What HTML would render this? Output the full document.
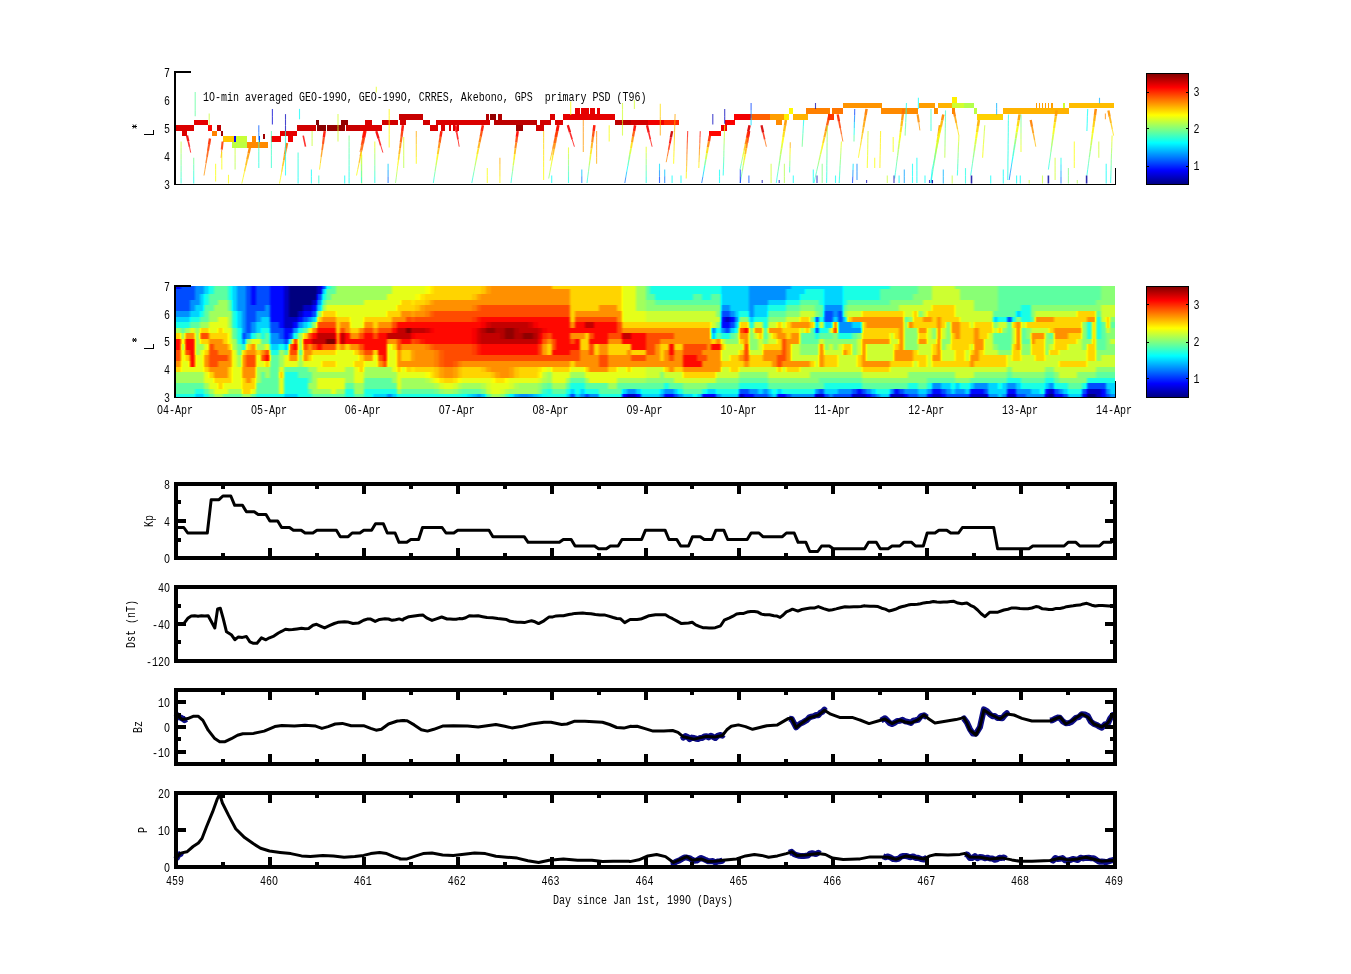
<!DOCTYPE html>
<html><head><meta charset="utf-8"><title>PSD figure</title>
<style>html,body{margin:0;padding:0;background:#fff;overflow:hidden}body{width:1351px;height:974px;font-family:"Liberation Mono",monospace}svg{display:block}</style>
</head><body>
<svg width="1351" height="974" viewBox="0 0 1351 974">
<rect x="0" y="0" width="1351" height="974" fill="#fff"/>
<g shape-rendering="crispEdges">
<rect x="175.9" y="125.2" width="18.5" height="5.6" fill="#db0000"/>
<rect x="181.8" y="130.8" width="5.2" height="5.6" fill="#db0000"/>
<rect x="193.7" y="119.6" width="14.1" height="5.6" fill="#e50000"/>
<rect x="207.7" y="125.2" width="4.4" height="5.6" fill="#ff0500"/>
<rect x="211.5" y="130.8" width="5.9" height="5.6" fill="#ff8000"/>
<rect x="217.4" y="125.2" width="3.7" height="5.6" fill="#bd0000"/>
<rect x="221.1" y="130.8" width="2.2" height="5.6" fill="#9e0000"/>
<rect x="223.3" y="136.4" width="10.4" height="5.6" fill="#ffc700"/>
<rect x="233.7" y="136.4" width="13.3" height="5.6" fill="#c7ff38"/>
<rect x="232.2" y="142" width="14.8" height="5.6" fill="#bdff42"/>
<rect x="247" y="142" width="20.7" height="5.6" fill="#ff8a00"/>
<rect x="252.2" y="136.4" width="3.7" height="5.6" fill="#ff8a00"/>
<rect x="258.8" y="136.4" width="1.5" height="5.6" fill="#004dff"/>
<rect x="234.4" y="136.4" width="1.5" height="5.6" fill="#0000fa"/>
<rect x="263.3" y="133.6" width="1.5" height="5.6" fill="#9e0000"/>
<rect x="270.7" y="136.4" width="10.4" height="5.6" fill="#f00000"/>
<rect x="280.3" y="130.8" width="16.3" height="5.6" fill="#e50000"/>
<rect x="288.4" y="136.4" width="4.4" height="5.6" fill="#f00000"/>
<rect x="296.6" y="125.2" width="19.2" height="5.6" fill="#d10000"/>
<rect x="315.8" y="119.6" width="3" height="5.6" fill="#800000"/>
<rect x="316.6" y="125.2" width="8.9" height="5.6" fill="#8a0000"/>
<rect x="326.9" y="125.2" width="17.8" height="5.6" fill="#940000"/>
<rect x="341" y="119.6" width="6.7" height="5.6" fill="#940000"/>
<rect x="346.2" y="125.2" width="16.3" height="5.6" fill="#c70000"/>
<rect x="362.5" y="125.2" width="7.5" height="5.6" fill="#d10000"/>
<rect x="365.4" y="119.6" width="3.7" height="5.6" fill="#d10000"/>
<rect x="360" y="125.2" width="22.2" height="5.6" fill="#db0000"/>
<rect x="365.2" y="119.6" width="6.7" height="5.6" fill="#db0000"/>
<rect x="382.2" y="119.6" width="15.5" height="5.6" fill="#d10000"/>
<rect x="398.5" y="114" width="24.4" height="5.6" fill="#c70000"/>
<rect x="400" y="119.6" width="5.9" height="5.6" fill="#d10000"/>
<rect x="422.9" y="119.6" width="6.7" height="5.6" fill="#d10000"/>
<rect x="429.6" y="125.2" width="8.1" height="5.6" fill="#db0000"/>
<rect x="436.2" y="119.6" width="54" height="5.6" fill="#db0000"/>
<rect x="440.7" y="125.2" width="4.4" height="5.6" fill="#db0000"/>
<rect x="448.8" y="125.2" width="1.8" height="5.6" fill="#db0000"/>
<rect x="453.3" y="125.2" width="1.8" height="5.6" fill="#db0000"/>
<rect x="457" y="125.2" width="2.2" height="5.6" fill="#db0000"/>
<rect x="485.8" y="114" width="3" height="5.6" fill="#b20000"/>
<rect x="490" y="114" width="5.9" height="5.6" fill="#940000"/>
<rect x="497.7" y="114" width="4.4" height="5.6" fill="#b20000"/>
<rect x="494" y="119.6" width="42.9" height="5.6" fill="#bd0000"/>
<rect x="516.2" y="125.2" width="6.7" height="5.6" fill="#9e0000"/>
<rect x="536.2" y="125.2" width="7.4" height="5.6" fill="#d10000"/>
<rect x="539.9" y="119.6" width="11.1" height="5.6" fill="#d10000"/>
<rect x="550.2" y="114" width="4.4" height="5.6" fill="#db0000"/>
<rect x="555.4" y="119.6" width="4.6" height="5.6" fill="#db0000"/>
<rect x="550" y="114" width="4.4" height="5.6" fill="#db0000"/>
<rect x="555.2" y="119.6" width="8.1" height="5.6" fill="#db0000"/>
<rect x="563.3" y="114" width="51.8" height="5.6" fill="#e50000"/>
<rect x="575.2" y="108.4" width="4.4" height="5.6" fill="#e50000"/>
<rect x="581.1" y="108.4" width="7.4" height="5.6" fill="#e50000"/>
<rect x="590" y="108.4" width="5.2" height="5.6" fill="#e50000"/>
<rect x="597.4" y="108.4" width="3" height="5.6" fill="#e50000"/>
<rect x="615.1" y="119.6" width="16.3" height="5.6" fill="#bd0000"/>
<rect x="631.4" y="119.6" width="16.3" height="5.6" fill="#d10000"/>
<rect x="647.7" y="119.6" width="16.3" height="5.6" fill="#f00000"/>
<rect x="664" y="119.6" width="14.8" height="5.6" fill="#ff2400"/>
<rect x="709.1" y="130.8" width="11.8" height="5.6" fill="#ff0500"/>
<rect x="721" y="125.2" width="5.9" height="5.6" fill="#f00000"/>
<rect x="725.4" y="119.6" width="9.6" height="5.6" fill="#fa0000"/>
<rect x="734.3" y="114" width="15.7" height="5.6" fill="#fa0000"/>
<rect x="740" y="114" width="11.1" height="5.6" fill="#f00000"/>
<rect x="751.1" y="114" width="18.5" height="5.6" fill="#ff6100"/>
<rect x="769.6" y="114" width="14.8" height="5.6" fill="#ff9e00"/>
<rect x="784.4" y="114" width="4.4" height="5.6" fill="#fff000"/>
<rect x="776.3" y="119.6" width="5.9" height="5.6" fill="#ff8a00"/>
<rect x="788.9" y="108.4" width="4.4" height="5.6" fill="#fffa00"/>
<rect x="793.3" y="114" width="14.8" height="5.6" fill="#ffb300"/>
<rect x="805.9" y="108.4" width="24.4" height="5.6" fill="#ff8000"/>
<rect x="828.1" y="114" width="5.9" height="5.6" fill="#ff3800"/>
<rect x="831.8" y="108.4" width="11.1" height="5.6" fill="#ff7500"/>
<rect x="842.9" y="102.8" width="39.2" height="5.6" fill="#ff9400"/>
<rect x="881.4" y="108.4" width="36.3" height="5.6" fill="#ff8a00"/>
<rect x="919.1" y="102.8" width="16.3" height="5.6" fill="#ff9e00"/>
<rect x="933.9" y="108.4" width="4.4" height="5.6" fill="#ff9400"/>
<rect x="938.4" y="102.8" width="1.6" height="5.6" fill="#ff9e00"/>
<rect x="930" y="102.8" width="4.4" height="5.6" fill="#ff9e00"/>
<rect x="934.4" y="108.4" width="3" height="5.6" fill="#ff8a00"/>
<rect x="938.1" y="102.8" width="14.1" height="5.6" fill="#ffb300"/>
<rect x="951.5" y="97.2" width="5.2" height="5.6" fill="#fff000"/>
<rect x="952.2" y="102.8" width="11.8" height="5.6" fill="#d1ff2e"/>
<rect x="964" y="102.8" width="10.4" height="5.6" fill="#b3ff4c"/>
<rect x="951.5" y="108.4" width="3.7" height="5.6" fill="#ff8000"/>
<rect x="974.4" y="108.4" width="2.2" height="5.6" fill="#bdff42"/>
<rect x="976.6" y="114" width="26.6" height="5.6" fill="#ffd100"/>
<rect x="1002.5" y="108.4" width="66.6" height="5.6" fill="#ffb300"/>
<rect x="1035.8" y="102.8" width="1.5" height="5.6" fill="#ff9e00"/>
<rect x="1038.8" y="102.8" width="1.5" height="5.6" fill="#ff9e00"/>
<rect x="1041.8" y="102.8" width="1.5" height="5.6" fill="#ff9e00"/>
<rect x="1044.7" y="102.8" width="1.5" height="5.6" fill="#ff9e00"/>
<rect x="1047.7" y="102.8" width="1.5" height="5.6" fill="#ff9e00"/>
<rect x="1050.7" y="102.8" width="2.2" height="5.6" fill="#ff9e00"/>
<rect x="1063.2" y="102.8" width="1.5" height="5.6" fill="#d1ff2e"/>
<rect x="1069.2" y="102.8" width="45.2" height="5.6" fill="#ffbd00"/>
</g>
<g fill="none">
<path d="M187,135.6L188.3,141.3" stroke="#f30000" stroke-width="2.3" opacity="0.91"/>
<path d="M188.3,141.3L189.5,146.9" stroke="#fa0000" stroke-width="1.6" opacity="0.82"/>
<path d="M189.5,146.9L190.7,152.6" stroke="#ff0200" stroke-width="1" opacity="0.74"/>
<path d="M210,138.5L209,144.7" stroke="#ff2e00" stroke-width="2.4" opacity="0.93"/>
<path d="M209,144.7L208,150.9" stroke="#ff4200" stroke-width="2.1" opacity="0.89"/>
<path d="M208,150.9L207,157" stroke="#ff5700" stroke-width="1.7" opacity="0.85"/>
<path d="M207,157L206,163.2" stroke="#ff6b00" stroke-width="1.4" opacity="0.80"/>
<path d="M206,163.2L205,169.4" stroke="#ff8000" stroke-width="1" opacity="0.76"/>
<path d="M205,169.4L204,175.5" stroke="#ff9400" stroke-width="1" opacity="0.72"/>
<path d="M222.6,141.5L221.8,149.6" stroke="#ff3b00" stroke-width="2.1" opacity="0.89"/>
<path d="M221.8,149.6L221.1,157.8" stroke="#ff7d00" stroke-width="1" opacity="0.76"/>
<path d="M249.9,147.4L248.6,153.4" stroke="#ff8300" stroke-width="2.4" opacity="0.93"/>
<path d="M248.6,153.4L247.2,159.4" stroke="#ff9e00" stroke-width="2.1" opacity="0.89"/>
<path d="M247.2,159.4L245.9,165.5" stroke="#ffb900" stroke-width="1.7" opacity="0.85"/>
<path d="M245.9,165.5L244.5,171.5" stroke="#ffd500" stroke-width="1.4" opacity="0.80"/>
<path d="M244.5,171.5L243.2,177.5" stroke="#fff000" stroke-width="1" opacity="0.76"/>
<path d="M243.2,177.5L241.8,183.5" stroke="#f3ff0c" stroke-width="1" opacity="0.72"/>
<path d="M287,143L285.9,148.8" stroke="#ff6e00" stroke-width="2.5" opacity="0.93"/>
<path d="M285.9,148.8L284.8,154.6" stroke="#ff8800" stroke-width="2.2" opacity="0.90"/>
<path d="M284.8,154.6L283.8,160.3" stroke="#ffa200" stroke-width="1.9" opacity="0.86"/>
<path d="M283.8,160.3L282.7,166.1" stroke="#ffbd00" stroke-width="1.6" opacity="0.82"/>
<path d="M282.7,166.1L281.7,171.9" stroke="#ffd700" stroke-width="1.3" opacity="0.79"/>
<path d="M281.7,171.9L280.6,177.7" stroke="#fff100" stroke-width="1" opacity="0.75"/>
<path d="M280.6,177.7L279.5,183.5" stroke="#f3ff0c" stroke-width="1" opacity="0.72"/>
<path d="M324.7,131.1L323.8,137.6" stroke="#ff1100" stroke-width="2.4" opacity="0.93"/>
<path d="M323.8,137.6L323,144" stroke="#ff3d00" stroke-width="2.1" opacity="0.89"/>
<path d="M323,144L322.1,150.4" stroke="#ff6900" stroke-width="1.7" opacity="0.85"/>
<path d="M322.1,150.4L321.2,156.8" stroke="#ff9600" stroke-width="1.4" opacity="0.80"/>
<path d="M321.2,156.8L320.4,163.2" stroke="#ffc200" stroke-width="1" opacity="0.76"/>
<path d="M320.4,163.2L319.5,169.6" stroke="#ffee00" stroke-width="1" opacity="0.72"/>
<path d="M365.4,131.1L364.1,137.5" stroke="#ff0f00" stroke-width="2.5" opacity="0.93"/>
<path d="M364.1,137.5L362.9,143.8" stroke="#ff3800" stroke-width="2.2" opacity="0.90"/>
<path d="M362.9,143.8L361.6,150.2" stroke="#ff6100" stroke-width="1.9" opacity="0.86"/>
<path d="M361.6,150.2L360.3,156.5" stroke="#ff8a00" stroke-width="1.6" opacity="0.82"/>
<path d="M360.3,156.5L359.1,162.9" stroke="#ffb300" stroke-width="1.3" opacity="0.79"/>
<path d="M359.1,162.9L357.8,169.2" stroke="#ffdb00" stroke-width="1" opacity="0.75"/>
<path d="M357.8,169.2L356.5,175.5" stroke="#faff05" stroke-width="1" opacity="0.72"/>
<path d="M303.2,135.6L305.5,146.7" stroke="#ff0500" stroke-width="1.6" opacity="0.82"/>
<path d="M195.2,91.9L195.2,98" stroke="#61ff9e" stroke-width="1.1" opacity="0.72"/>
<path d="M195.2,98L195.2,104.1" stroke="#61ff9e" stroke-width="1.1" opacity="0.72"/>
<path d="M195.2,104.1L195.2,110.2" stroke="#61ff9e" stroke-width="1.1" opacity="0.72"/>
<path d="M195.2,110.2L195.2,116.3" stroke="#61ff9e" stroke-width="1.1" opacity="0.72"/>
<path d="M181.1,141.5L181.1,147.5" stroke="#c4ff3b" stroke-width="1.1" opacity="0.72"/>
<path d="M181.1,147.5L181.1,153.5" stroke="#aaff55" stroke-width="1.1" opacity="0.72"/>
<path d="M181.1,153.5L181.1,159.5" stroke="#90ff6f" stroke-width="1.1" opacity="0.72"/>
<path d="M181.1,159.5L181.1,165.5" stroke="#75ff8a" stroke-width="1.1" opacity="0.72"/>
<path d="M181.1,165.5L181.1,171.5" stroke="#5bffa4" stroke-width="1.1" opacity="0.72"/>
<path d="M181.1,171.5L181.1,177.5" stroke="#41ffbe" stroke-width="1.1" opacity="0.72"/>
<path d="M181.1,177.5L181.1,183.5" stroke="#27ffd8" stroke-width="1.1" opacity="0.72"/>
<path d="M193.7,157.8L193.7,164.2" stroke="#70ff8f" stroke-width="1.1" opacity="0.72"/>
<path d="M193.7,164.2L193.7,170.6" stroke="#52ffad" stroke-width="1.1" opacity="0.72"/>
<path d="M193.7,170.6L193.7,177.1" stroke="#33ffcc" stroke-width="1.1" opacity="0.72"/>
<path d="M193.7,177.1L193.7,183.5" stroke="#14ffeb" stroke-width="1.1" opacity="0.72"/>
<path d="M209.2,113.4L209.2,119.3" stroke="#c7ff38" stroke-width="1.1" opacity="0.72"/>
<path d="M209.2,119.3L209.2,125.2" stroke="#c7ff38" stroke-width="1.1" opacity="0.72"/>
<path d="M215.6,163.7L215.6,169.6" stroke="#faff05" stroke-width="1.1" opacity="0.72"/>
<path d="M215.6,169.6L215.6,175.5" stroke="#faff05" stroke-width="1.1" opacity="0.72"/>
<path d="M215.6,175.5L215.6,181.5" stroke="#faff05" stroke-width="1.1" opacity="0.72"/>
<path d="M221.8,151.9L221.8,157.8" stroke="#faff05" stroke-width="1.1" opacity="0.72"/>
<path d="M221.8,157.8L221.8,163.7" stroke="#faff05" stroke-width="1.1" opacity="0.72"/>
<path d="M221.8,163.7L221.8,169.6" stroke="#faff05" stroke-width="1.1" opacity="0.72"/>
<path d="M228.5,174.8L228.5,183.5" stroke="#faff05" stroke-width="1.1" opacity="0.72"/>
<path d="M235.1,147.4L235.1,154.8" stroke="#ccff33" stroke-width="1.1" opacity="0.72"/>
<path d="M235.1,154.8L235.1,162.2" stroke="#c2ff3d" stroke-width="1.1" opacity="0.72"/>
<path d="M235.1,162.2L235.1,169.6" stroke="#b8ff47" stroke-width="1.1" opacity="0.72"/>
<path d="M258.8,125.2L258.8,132.6" stroke="#0059ff" stroke-width="1.1" opacity="0.72"/>
<path d="M258.8,132.6L258.8,140" stroke="#0073ff" stroke-width="1.1" opacity="0.72"/>
<path d="M258.8,140L258.8,145.6" stroke="#47ffb8" stroke-width="1.1" opacity="0.72"/>
<path d="M258.8,145.6L258.8,151.3" stroke="#3dffc2" stroke-width="1.1" opacity="0.72"/>
<path d="M258.8,151.3L258.8,156.9" stroke="#33ffcc" stroke-width="1.1" opacity="0.72"/>
<path d="M258.8,156.9L258.8,162.5" stroke="#29ffd6" stroke-width="1.1" opacity="0.72"/>
<path d="M258.8,162.5L258.8,168.1" stroke="#1fffe0" stroke-width="1.1" opacity="0.72"/>
<path d="M271.4,131.1L271.4,137.3" stroke="#4affb5" stroke-width="1.1" opacity="0.72"/>
<path d="M271.4,137.3L271.4,143.5" stroke="#45ffba" stroke-width="1.1" opacity="0.72"/>
<path d="M271.4,143.5L271.4,149.6" stroke="#40ffbf" stroke-width="1.1" opacity="0.72"/>
<path d="M271.4,149.6L271.4,155.8" stroke="#3bffc4" stroke-width="1.1" opacity="0.72"/>
<path d="M271.4,155.8L271.4,162" stroke="#36ffc9" stroke-width="1.1" opacity="0.72"/>
<path d="M271.4,162L271.4,168.1" stroke="#30ffcf" stroke-width="1.1" opacity="0.72"/>
<path d="M272.4,108.9L272.4,116.7" stroke="#0000d1" stroke-width="1.1" opacity="0.72"/>
<path d="M272.4,116.7L272.4,124.5" stroke="#0000d1" stroke-width="1.1" opacity="0.72"/>
<path d="M285.5,114.1L285.5,119.8" stroke="#0000bd" stroke-width="1.1" opacity="0.72"/>
<path d="M285.5,119.8L285.5,125.5" stroke="#0000bd" stroke-width="1.1" opacity="0.72"/>
<path d="M285.5,125.5L285.5,131.1" stroke="#0000bd" stroke-width="1.1" opacity="0.72"/>
<path d="M285.5,131.1L285.5,137.5" stroke="#2bffd4" stroke-width="1.1" opacity="0.72"/>
<path d="M285.5,137.5L285.5,143.8" stroke="#25ffda" stroke-width="1.1" opacity="0.72"/>
<path d="M285.5,143.8L285.5,150.2" stroke="#1fffe0" stroke-width="1.1" opacity="0.72"/>
<path d="M285.5,150.2L285.5,156.5" stroke="#1affe5" stroke-width="1.1" opacity="0.72"/>
<path d="M285.5,156.5L285.5,162.9" stroke="#14ffeb" stroke-width="1.1" opacity="0.72"/>
<path d="M285.5,162.9L285.5,169.2" stroke="#0efff1" stroke-width="1.1" opacity="0.72"/>
<path d="M285.5,169.2L285.5,175.5" stroke="#08fff7" stroke-width="1.1" opacity="0.72"/>
<path d="M299.5,108.9L299.5,119.3" stroke="#05fffa" stroke-width="1.1" opacity="0.72"/>
<path d="M298.1,152.6L298.1,158.8" stroke="#2affd5" stroke-width="1.1" opacity="0.72"/>
<path d="M298.1,158.8L298.1,165" stroke="#22ffdd" stroke-width="1.1" opacity="0.72"/>
<path d="M298.1,165L298.1,171.1" stroke="#1affe5" stroke-width="1.1" opacity="0.72"/>
<path d="M298.1,171.1L298.1,177.3" stroke="#11ffee" stroke-width="1.1" opacity="0.72"/>
<path d="M298.1,177.3L298.1,183.5" stroke="#09fff6" stroke-width="1.1" opacity="0.72"/>
<path d="M312.1,131.1L312.1,138.5" stroke="#c7ff38" stroke-width="1.1" opacity="0.72"/>
<path d="M312.1,138.5L312.1,145.9" stroke="#c7ff38" stroke-width="1.1" opacity="0.72"/>
<path d="M311.4,169.6L311.4,176.6" stroke="#05fffa" stroke-width="1.1" opacity="0.72"/>
<path d="M311.4,176.6L311.4,183.5" stroke="#05fffa" stroke-width="1.1" opacity="0.72"/>
<path d="M318.8,175.5L318.8,183.5" stroke="#2effd1" stroke-width="1.1" opacity="0.72"/>
<path d="M338,114.1L338,121" stroke="#d1ff2e" stroke-width="1.1" opacity="0.72"/>
<path d="M338,121L338,127.8" stroke="#d1ff2e" stroke-width="1.1" opacity="0.72"/>
<path d="M338,127.8L338,134.7" stroke="#d1ff2e" stroke-width="1.1" opacity="0.72"/>
<path d="M338,134.7L338,141.5" stroke="#d1ff2e" stroke-width="1.1" opacity="0.72"/>
<path d="M349.1,135.6L349.1,141.6" stroke="#78ff87" stroke-width="1.1" opacity="0.72"/>
<path d="M349.1,141.6L349.1,147.6" stroke="#69ff96" stroke-width="1.1" opacity="0.72"/>
<path d="M349.1,147.6L349.1,153.5" stroke="#59ffa6" stroke-width="1.1" opacity="0.72"/>
<path d="M349.1,153.5L349.1,159.5" stroke="#4affb5" stroke-width="1.1" opacity="0.72"/>
<path d="M349.1,159.5L349.1,165.5" stroke="#3bffc4" stroke-width="1.1" opacity="0.72"/>
<path d="M349.1,165.5L349.1,171.5" stroke="#2bffd4" stroke-width="1.1" opacity="0.72"/>
<path d="M349.1,171.5L349.1,177.5" stroke="#1cffe3" stroke-width="1.1" opacity="0.72"/>
<path d="M349.1,177.5L349.1,183.5" stroke="#0dfff2" stroke-width="1.1" opacity="0.72"/>
<path d="M344.7,175.5L344.7,183.5" stroke="#05fffa" stroke-width="1.1" opacity="0.72"/>
<path d="M361.7,154.8L361.7,160.6" stroke="#ceff31" stroke-width="1.1" opacity="0.72"/>
<path d="M361.7,160.6L361.7,166.3" stroke="#c8ff37" stroke-width="1.1" opacity="0.72"/>
<path d="M361.7,166.3L361.7,172" stroke="#c2ff3d" stroke-width="1.1" opacity="0.72"/>
<path d="M361.7,172L361.7,177.8" stroke="#bcff43" stroke-width="1.1" opacity="0.72"/>
<path d="M361.7,177.8L361.7,183.5" stroke="#b6ff49" stroke-width="1.1" opacity="0.72"/>
<path d="M364.4,131.1L363,138" stroke="#ff1100" stroke-width="2.3" opacity="0.91"/>
<path d="M363,138L361.5,145" stroke="#ff3d00" stroke-width="1.6" opacity="0.82"/>
<path d="M361.5,145L360,151.9" stroke="#ff6900" stroke-width="1" opacity="0.74"/>
<path d="M361.2,151.9L361.2,158.1" stroke="#fdff02" stroke-width="1.1" opacity="0.72"/>
<path d="M361.2,158.1L361.3,164.3" stroke="#c6ff39" stroke-width="1.1" opacity="0.72"/>
<path d="M361.3,164.3L361.4,170.5" stroke="#8fff70" stroke-width="1.1" opacity="0.72"/>
<path d="M361.4,170.5L361.4,176.7" stroke="#58ffa7" stroke-width="1.1" opacity="0.72"/>
<path d="M361.4,176.7L361.5,183" stroke="#21ffde" stroke-width="1.1" opacity="0.72"/>
<path d="M376.3,131.1L378.5,138.3" stroke="#f30000" stroke-width="2.3" opacity="0.91"/>
<path d="M378.5,138.3L380.7,145.4" stroke="#fa0000" stroke-width="1.6" opacity="0.82"/>
<path d="M380.7,145.4L382.9,152.6" stroke="#ff0200" stroke-width="1" opacity="0.74"/>
<path d="M402.9,125.2L402.2,131" stroke="#ff0e00" stroke-width="2.5" opacity="0.94"/>
<path d="M402.2,131L401.5,136.8" stroke="#ff3500" stroke-width="2.3" opacity="0.91"/>
<path d="M401.5,136.8L400.7,142.5" stroke="#ff5c00" stroke-width="2.1" opacity="0.89"/>
<path d="M400.7,142.5L400,148.3" stroke="#ff8300" stroke-width="1.9" opacity="0.86"/>
<path d="M400,148.3L399.2,154.1" stroke="#ffa900" stroke-width="1.7" opacity="0.84"/>
<path d="M399.2,154.1L398.5,159.9" stroke="#ffd000" stroke-width="1.5" opacity="0.81"/>
<path d="M398.5,159.9L397.7,165.6" stroke="#fff700" stroke-width="1.2" opacity="0.79"/>
<path d="M397.7,165.6L397,171.4" stroke="#e0ff1f" stroke-width="1" opacity="0.76"/>
<path d="M397,171.4L396.3,177.2" stroke="#baff45" stroke-width="1" opacity="0.74"/>
<path d="M396.3,177.2L395.5,183" stroke="#93ff6c" stroke-width="1" opacity="0.71"/>
<path d="M441.4,131.1L440.5,136.9" stroke="#ff1700" stroke-width="2.5" opacity="0.94"/>
<path d="M440.5,136.9L439.6,142.7" stroke="#ff5000" stroke-width="2.3" opacity="0.91"/>
<path d="M439.6,142.7L438.7,148.4" stroke="#ff8900" stroke-width="2" opacity="0.88"/>
<path d="M438.7,148.4L437.8,154.2" stroke="#ffc100" stroke-width="1.8" opacity="0.85"/>
<path d="M437.8,154.2L436.9,159.9" stroke="#fffa00" stroke-width="1.6" opacity="0.82"/>
<path d="M436.9,159.9L436,165.7" stroke="#cbff34" stroke-width="1.3" opacity="0.80"/>
<path d="M436,165.7L435.1,171.4" stroke="#93ff6c" stroke-width="1.1" opacity="0.77"/>
<path d="M435.1,171.4L434.2,177.2" stroke="#5affa5" stroke-width="1" opacity="0.74"/>
<path d="M434.2,177.2L433.3,183" stroke="#21ffde" stroke-width="1" opacity="0.71"/>
<path d="M455.5,125.2L456.7,132.4" stroke="#f50000" stroke-width="2.3" opacity="0.91"/>
<path d="M456.7,132.4L458,139.5" stroke="#ff0000" stroke-width="1.6" opacity="0.82"/>
<path d="M458,139.5L459.2,146.7" stroke="#ff0a00" stroke-width="1" opacity="0.74"/>
<path d="M482.9,125.2L481.8,131" stroke="#ff1400" stroke-width="2.5" opacity="0.94"/>
<path d="M481.8,131L480.7,136.8" stroke="#ff4700" stroke-width="2.3" opacity="0.91"/>
<path d="M480.7,136.8L479.5,142.5" stroke="#ff7a00" stroke-width="2.1" opacity="0.89"/>
<path d="M479.5,142.5L478.4,148.3" stroke="#ffad00" stroke-width="1.9" opacity="0.86"/>
<path d="M478.4,148.3L477.3,154.1" stroke="#ffe000" stroke-width="1.7" opacity="0.84"/>
<path d="M477.3,154.1L476.2,159.9" stroke="#ebff14" stroke-width="1.5" opacity="0.81"/>
<path d="M476.2,159.9L475.1,165.6" stroke="#b8ff47" stroke-width="1.2" opacity="0.79"/>
<path d="M475.1,165.6L474,171.4" stroke="#85ff7a" stroke-width="1" opacity="0.76"/>
<path d="M474,171.4L472.9,177.2" stroke="#52ffad" stroke-width="1" opacity="0.74"/>
<path d="M472.9,177.2L471.8,183" stroke="#1fffe0" stroke-width="1" opacity="0.71"/>
<path d="M517.7,131.1L516.9,136.9" stroke="#ff0400" stroke-width="2.5" opacity="0.94"/>
<path d="M516.9,136.9L516.2,142.7" stroke="#ff3f00" stroke-width="2.3" opacity="0.91"/>
<path d="M516.2,142.7L515.4,148.4" stroke="#ff7a00" stroke-width="2" opacity="0.88"/>
<path d="M515.4,148.4L514.7,154.2" stroke="#ffb500" stroke-width="1.8" opacity="0.85"/>
<path d="M514.7,154.2L514,159.9" stroke="#fff000" stroke-width="1.6" opacity="0.82"/>
<path d="M514,159.9L513.2,165.7" stroke="#d3ff2c" stroke-width="1.3" opacity="0.80"/>
<path d="M513.2,165.7L512.5,171.4" stroke="#98ff67" stroke-width="1.1" opacity="0.77"/>
<path d="M512.5,171.4L511.7,177.2" stroke="#5effa1" stroke-width="1" opacity="0.74"/>
<path d="M511.7,177.2L511,183" stroke="#23ffdc" stroke-width="1" opacity="0.71"/>
<path d="M558.4,125.2L557.3,131.1" stroke="#ff1000" stroke-width="2.5" opacity="0.94"/>
<path d="M557.3,131.1L556.2,137.1" stroke="#ff3c00" stroke-width="2.3" opacity="0.91"/>
<path d="M556.2,137.1L555.2,143" stroke="#ff6700" stroke-width="2" opacity="0.88"/>
<path d="M555.2,143L554.1,148.9" stroke="#ff9200" stroke-width="1.8" opacity="0.85"/>
<path d="M554.1,148.9L553,154.8" stroke="#ffbd00" stroke-width="1.6" opacity="0.82"/>
<path d="M553,154.8L552,160.7" stroke="#ffe800" stroke-width="1.3" opacity="0.80"/>
<path d="M552,160.7L550.9,166.7" stroke="#ebff14" stroke-width="1.1" opacity="0.77"/>
<path d="M550.9,166.7L549.8,172.6" stroke="#c0ff3f" stroke-width="1" opacity="0.74"/>
<path d="M549.8,172.6L548.7,178.5" stroke="#95ff6a" stroke-width="1" opacity="0.71"/>
<path d="M374.8,141.5L374.8,147.4" stroke="#e8ff17" stroke-width="1.1" opacity="0.72"/>
<path d="M374.8,147.4L374.8,153.3" stroke="#c5ff3a" stroke-width="1.1" opacity="0.72"/>
<path d="M374.8,153.3L374.8,159.3" stroke="#a2ff5d" stroke-width="1.1" opacity="0.72"/>
<path d="M374.8,159.3L374.8,165.2" stroke="#80ff80" stroke-width="1.1" opacity="0.72"/>
<path d="M374.8,165.2L374.8,171.1" stroke="#5dffa2" stroke-width="1.1" opacity="0.72"/>
<path d="M374.8,171.1L374.8,177" stroke="#3affc5" stroke-width="1.1" opacity="0.72"/>
<path d="M374.8,177L374.8,183" stroke="#17ffe8" stroke-width="1.1" opacity="0.72"/>
<path d="M389.2,108.9L389.2,115.3" stroke="#fffa00" stroke-width="1.1" opacity="0.72"/>
<path d="M389.2,115.3L389.2,121.8" stroke="#fffa00" stroke-width="1.1" opacity="0.72"/>
<path d="M389.2,121.8L389.2,128.2" stroke="#fffa00" stroke-width="1.1" opacity="0.72"/>
<path d="M389.2,128.2L389.2,134.6" stroke="#fffa00" stroke-width="1.1" opacity="0.72"/>
<path d="M389.2,134.6L389.2,141" stroke="#fffa00" stroke-width="1.1" opacity="0.72"/>
<path d="M389.2,141L389.2,147.4" stroke="#fffa00" stroke-width="1.1" opacity="0.72"/>
<path d="M388.1,163.7L388.1,170.1" stroke="#00ccff" stroke-width="1.1" opacity="0.72"/>
<path d="M388.1,170.1L388.1,176.5" stroke="#0099ff" stroke-width="1.1" opacity="0.72"/>
<path d="M388.1,176.5L388.1,183" stroke="#0066ff" stroke-width="1.1" opacity="0.72"/>
<path d="M416.3,131.1L416.3,137.7" stroke="#ffa800" stroke-width="1.1" opacity="0.72"/>
<path d="M416.3,137.7L416.3,144.2" stroke="#ffbd00" stroke-width="1.1" opacity="0.72"/>
<path d="M416.3,144.2L416.3,150.7" stroke="#ffd100" stroke-width="1.1" opacity="0.72"/>
<path d="M416.3,150.7L416.3,157.2" stroke="#ffe500" stroke-width="1.1" opacity="0.72"/>
<path d="M416.3,157.2L416.3,163.7" stroke="#fffa00" stroke-width="1.1" opacity="0.72"/>
<path d="M403.7,137.1L403.7,143.3" stroke="#e0ff1f" stroke-width="1.1" opacity="0.72"/>
<path d="M403.7,143.3L403.7,149.5" stroke="#d6ff29" stroke-width="1.1" opacity="0.72"/>
<path d="M403.7,149.5L403.7,155.7" stroke="#ccff33" stroke-width="1.1" opacity="0.72"/>
<path d="M403.7,155.7L403.7,161.9" stroke="#c2ff3d" stroke-width="1.1" opacity="0.72"/>
<path d="M403.7,161.9L403.7,168.1" stroke="#b8ff47" stroke-width="1.1" opacity="0.72"/>
<path d="M376.3,86.7L376.3,92.6" stroke="#e5ff1a" stroke-width="1.1" opacity="0.72"/>
<path d="M487.3,168.1L487.3,175.5" stroke="#faff05" stroke-width="1.1" opacity="0.72"/>
<path d="M487.3,175.5L487.3,183" stroke="#faff05" stroke-width="1.1" opacity="0.72"/>
<path d="M499.9,157.8L499.9,164.1" stroke="#ffab00" stroke-width="1.1" opacity="0.72"/>
<path d="M499.9,164.1L499.9,170.4" stroke="#ffc400" stroke-width="1.1" opacity="0.72"/>
<path d="M499.9,170.4L499.9,176.7" stroke="#ffde00" stroke-width="1.1" opacity="0.72"/>
<path d="M499.9,176.7L499.9,183" stroke="#fff700" stroke-width="1.1" opacity="0.72"/>
<path d="M543.6,131.1L543.6,137.2" stroke="#ffcb00" stroke-width="1.1" opacity="0.72"/>
<path d="M543.6,137.2L543.6,143.4" stroke="#ffd200" stroke-width="1.1" opacity="0.72"/>
<path d="M543.6,143.4L543.6,149.5" stroke="#ffda00" stroke-width="1.1" opacity="0.72"/>
<path d="M543.6,149.5L543.6,155.6" stroke="#ffe200" stroke-width="1.1" opacity="0.72"/>
<path d="M543.6,155.6L543.6,161.7" stroke="#ffe900" stroke-width="1.1" opacity="0.72"/>
<path d="M543.6,161.7L543.6,167.8" stroke="#fff100" stroke-width="1.1" opacity="0.72"/>
<path d="M543.6,167.8L543.6,173.9" stroke="#fff900" stroke-width="1.1" opacity="0.72"/>
<path d="M543.6,173.9L543.6,180" stroke="#feff01" stroke-width="1.1" opacity="0.72"/>
<path d="M551.7,175.5L551.7,183" stroke="#05fffa" stroke-width="1.1" opacity="0.72"/>
<path d="M558.1,125.2L556.8,131.1" stroke="#ff0e00" stroke-width="2.4" opacity="0.93"/>
<path d="M556.8,131.1L555.4,137.1" stroke="#ff3600" stroke-width="2.1" opacity="0.89"/>
<path d="M555.4,137.1L554.1,143" stroke="#ff5d00" stroke-width="1.7" opacity="0.85"/>
<path d="M554.1,143L552.7,148.9" stroke="#ff8400" stroke-width="1.4" opacity="0.80"/>
<path d="M552.7,148.9L551.4,154.8" stroke="#ffab00" stroke-width="1" opacity="0.76"/>
<path d="M551.4,154.8L550,160.7" stroke="#ffd200" stroke-width="1" opacity="0.72"/>
<path d="M567.8,125.2L570,132.4" stroke="#f30000" stroke-width="2.3" opacity="0.91"/>
<path d="M570,132.4L572.2,139.5" stroke="#fa0000" stroke-width="1.6" opacity="0.82"/>
<path d="M572.2,139.5L574.4,146.7" stroke="#ff0200" stroke-width="1" opacity="0.74"/>
<path d="M594.4,125.2L593.7,131" stroke="#ff1400" stroke-width="2.5" opacity="0.94"/>
<path d="M593.7,131L592.9,136.8" stroke="#ff4700" stroke-width="2.3" opacity="0.91"/>
<path d="M592.9,136.8L592.2,142.5" stroke="#ff7a00" stroke-width="2.1" opacity="0.89"/>
<path d="M592.2,142.5L591.5,148.3" stroke="#ffad00" stroke-width="1.9" opacity="0.86"/>
<path d="M591.5,148.3L590.7,154.1" stroke="#ffe000" stroke-width="1.7" opacity="0.84"/>
<path d="M590.7,154.1L590,159.9" stroke="#ebff14" stroke-width="1.5" opacity="0.81"/>
<path d="M590,159.9L589.2,165.6" stroke="#b8ff47" stroke-width="1.2" opacity="0.79"/>
<path d="M589.2,165.6L588.5,171.4" stroke="#85ff7a" stroke-width="1" opacity="0.76"/>
<path d="M588.5,171.4L587.7,177.2" stroke="#52ffad" stroke-width="1" opacity="0.74"/>
<path d="M587.7,177.2L587,183" stroke="#1fffe0" stroke-width="1" opacity="0.71"/>
<path d="M583.3,120L583.3,126.4" stroke="#ff8c00" stroke-width="1.1" opacity="0.72"/>
<path d="M583.3,126.4L583.3,132.8" stroke="#ff9000" stroke-width="1.1" opacity="0.72"/>
<path d="M583.3,132.8L583.3,139.1" stroke="#ff9400" stroke-width="1.1" opacity="0.72"/>
<path d="M583.3,139.1L583.3,145.5" stroke="#ff9800" stroke-width="1.1" opacity="0.72"/>
<path d="M583.3,145.5L583.3,151.9" stroke="#ff9c00" stroke-width="1.1" opacity="0.72"/>
<path d="M596.6,131.1L596.6,137.7" stroke="#ff8e00" stroke-width="1.1" opacity="0.72"/>
<path d="M596.6,137.7L596.6,144.2" stroke="#ff9600" stroke-width="1.1" opacity="0.72"/>
<path d="M596.6,144.2L596.6,150.7" stroke="#ff9e00" stroke-width="1.1" opacity="0.72"/>
<path d="M596.6,150.7L596.6,157.2" stroke="#ffa600" stroke-width="1.1" opacity="0.72"/>
<path d="M596.6,157.2L596.6,163.7" stroke="#ffae00" stroke-width="1.1" opacity="0.72"/>
<path d="M635.1,125.2L634.1,131" stroke="#ff0a00" stroke-width="2.5" opacity="0.94"/>
<path d="M634.1,131L633,136.8" stroke="#ff5200" stroke-width="2.3" opacity="0.91"/>
<path d="M633,136.8L632,142.5" stroke="#ff9900" stroke-width="2.1" opacity="0.89"/>
<path d="M632,142.5L631,148.3" stroke="#ffe000" stroke-width="1.9" opacity="0.86"/>
<path d="M631,148.3L629.9,154.1" stroke="#d6ff29" stroke-width="1.7" opacity="0.84"/>
<path d="M629.9,154.1L628.9,159.9" stroke="#8fff70" stroke-width="1.5" opacity="0.81"/>
<path d="M628.9,159.9L627.9,165.6" stroke="#47ffb8" stroke-width="1.2" opacity="0.79"/>
<path d="M627.9,165.6L626.8,171.4" stroke="#00ffff" stroke-width="1" opacity="0.76"/>
<path d="M626.8,171.4L625.8,177.2" stroke="#00b8ff" stroke-width="1" opacity="0.74"/>
<path d="M625.8,177.2L624.8,183" stroke="#0070ff" stroke-width="1" opacity="0.71"/>
<path d="M647,125.2L648.7,132.4" stroke="#f50000" stroke-width="2.3" opacity="0.91"/>
<path d="M648.7,132.4L650.4,139.5" stroke="#ff0000" stroke-width="1.6" opacity="0.82"/>
<path d="M650.4,139.5L652.1,146.7" stroke="#ff0a00" stroke-width="1" opacity="0.74"/>
<path d="M672.1,131.1L670.9,137.4" stroke="#ca0000" stroke-width="2.4" opacity="0.92"/>
<path d="M670.9,137.4L669.8,143.6" stroke="#f90000" stroke-width="2" opacity="0.88"/>
<path d="M669.8,143.6L668.6,149.8" stroke="#ff2900" stroke-width="1.6" opacity="0.82"/>
<path d="M668.6,149.8L667.4,156" stroke="#ff5800" stroke-width="1.1" opacity="0.77"/>
<path d="M667.4,156L666.2,162.2" stroke="#ff8700" stroke-width="1" opacity="0.72"/>
<path d="M675.1,114.1L674.9,120.3" stroke="#ffa400" stroke-width="1.1" opacity="0.72"/>
<path d="M674.9,120.3L674.7,126.5" stroke="#ffb100" stroke-width="1.1" opacity="0.72"/>
<path d="M674.7,126.5L674.5,132.7" stroke="#ffbe00" stroke-width="1.1" opacity="0.72"/>
<path d="M674.5,132.7L674.4,138.9" stroke="#ffcb00" stroke-width="1.1" opacity="0.72"/>
<path d="M674.4,138.9L674.2,145.1" stroke="#ffd700" stroke-width="1.1" opacity="0.72"/>
<path d="M674.2,145.1L674,151.3" stroke="#ffe400" stroke-width="1.1" opacity="0.72"/>
<path d="M674,151.3L673.8,157.5" stroke="#fff100" stroke-width="1.1" opacity="0.72"/>
<path d="M673.8,157.5L673.6,163.7" stroke="#fffe00" stroke-width="1.1" opacity="0.72"/>
<path d="M687.7,131.1L687.5,137.1" stroke="#ff0b00" stroke-width="1.1" opacity="0.72"/>
<path d="M687.5,137.1L687.3,143" stroke="#ff2d00" stroke-width="1.1" opacity="0.72"/>
<path d="M687.3,143L687.1,148.9" stroke="#ff4e00" stroke-width="1.1" opacity="0.72"/>
<path d="M687.1,148.9L686.9,154.8" stroke="#ff6f00" stroke-width="1.1" opacity="0.72"/>
<path d="M686.9,154.8L686.8,160.7" stroke="#ff9000" stroke-width="1.1" opacity="0.72"/>
<path d="M686.8,160.7L686.6,166.7" stroke="#ffb100" stroke-width="1.1" opacity="0.72"/>
<path d="M686.6,166.7L686.4,172.6" stroke="#ffd200" stroke-width="1.1" opacity="0.72"/>
<path d="M686.4,172.6L686.2,178.5" stroke="#fff400" stroke-width="1.1" opacity="0.72"/>
<path d="M700.3,131.1L700,137.3" stroke="#ff1100" stroke-width="1.1" opacity="0.72"/>
<path d="M700,137.3L699.8,143.5" stroke="#ff3d00" stroke-width="1.1" opacity="0.72"/>
<path d="M699.8,143.5L699.5,149.6" stroke="#ff6900" stroke-width="1.1" opacity="0.72"/>
<path d="M699.5,149.6L699.3,155.8" stroke="#ff9600" stroke-width="1.1" opacity="0.72"/>
<path d="M699.3,155.8L699,162" stroke="#ffc200" stroke-width="1.1" opacity="0.72"/>
<path d="M699,162L698.8,168.1" stroke="#ffee00" stroke-width="1.1" opacity="0.72"/>
<path d="M709.9,135.6L708.9,141.5" stroke="#ff3000" stroke-width="2.5" opacity="0.93"/>
<path d="M708.9,141.5L707.8,147.4" stroke="#ff8500" stroke-width="2.2" opacity="0.90"/>
<path d="M707.8,147.4L706.8,153.3" stroke="#ffdb00" stroke-width="2" opacity="0.87"/>
<path d="M706.8,153.3L705.8,159.3" stroke="#ceff31" stroke-width="1.7" opacity="0.84"/>
<path d="M705.8,159.3L704.8,165.2" stroke="#78ff87" stroke-width="1.4" opacity="0.81"/>
<path d="M704.8,165.2L703.8,171.1" stroke="#23ffdc" stroke-width="1.2" opacity="0.78"/>
<path d="M703.8,171.1L702.8,177" stroke="#00cdff" stroke-width="1" opacity="0.75"/>
<path d="M702.8,177L701.7,183" stroke="#0077ff" stroke-width="1" opacity="0.72"/>
<path d="M724.7,125.2L724.5,131.5" stroke="#ebff14" stroke-width="1.1" opacity="0.72"/>
<path d="M724.5,131.5L724.3,137.8" stroke="#ccff33" stroke-width="1.1" opacity="0.72"/>
<path d="M724.3,137.8L724.1,144.1" stroke="#adff52" stroke-width="1.1" opacity="0.72"/>
<path d="M724.1,144.1L723.9,150.4" stroke="#8fff70" stroke-width="1.1" opacity="0.72"/>
<path d="M723.9,150.4L723.8,156.7" stroke="#70ff8f" stroke-width="1.1" opacity="0.72"/>
<path d="M723.8,156.7L723.6,163" stroke="#52ffad" stroke-width="1.1" opacity="0.72"/>
<path d="M723.6,163L723.4,169.3" stroke="#33ffcc" stroke-width="1.1" opacity="0.72"/>
<path d="M723.4,169.3L723.2,175.5" stroke="#14ffeb" stroke-width="1.1" opacity="0.72"/>
<path d="M749.1,131.1L748.1,136.9" stroke="#ff0400" stroke-width="2.5" opacity="0.94"/>
<path d="M748.1,136.9L747.1,142.7" stroke="#ff3f00" stroke-width="2.3" opacity="0.91"/>
<path d="M747.1,142.7L746.2,148.4" stroke="#ff7a00" stroke-width="2" opacity="0.88"/>
<path d="M746.2,148.4L745.2,154.2" stroke="#ffb500" stroke-width="1.8" opacity="0.85"/>
<path d="M745.2,154.2L744.2,159.9" stroke="#fff000" stroke-width="1.6" opacity="0.82"/>
<path d="M744.2,159.9L743.2,165.7" stroke="#d3ff2c" stroke-width="1.3" opacity="0.80"/>
<path d="M743.2,165.7L742.2,171.4" stroke="#98ff67" stroke-width="1.1" opacity="0.77"/>
<path d="M742.2,171.4L741.2,177.2" stroke="#5effa1" stroke-width="1" opacity="0.74"/>
<path d="M741.2,177.2L740.2,183" stroke="#23ffdc" stroke-width="1" opacity="0.71"/>
<path d="M570.7,101.5L570.7,108.2" stroke="#faff05" stroke-width="1.1" opacity="0.72"/>
<path d="M570.7,108.2L570.7,114.9" stroke="#faff05" stroke-width="1.1" opacity="0.72"/>
<path d="M622.5,103L622.5,109.5" stroke="#d1ff2e" stroke-width="1.1" opacity="0.72"/>
<path d="M622.5,109.5L622.5,116" stroke="#d1ff2e" stroke-width="1.1" opacity="0.72"/>
<path d="M622.5,116L622.5,122.6" stroke="#d1ff2e" stroke-width="1.1" opacity="0.72"/>
<path d="M622.5,122.6L622.5,129.1" stroke="#d1ff2e" stroke-width="1.1" opacity="0.72"/>
<path d="M622.5,129.1L622.5,135.6" stroke="#d1ff2e" stroke-width="1.1" opacity="0.72"/>
<path d="M634.4,100L634.4,108.9" stroke="#d1ff2e" stroke-width="1.1" opacity="0.72"/>
<path d="M660.3,103.7L660.3,110.1" stroke="#ffde00" stroke-width="1.1" opacity="0.72"/>
<path d="M660.3,110.1L660.3,116.5" stroke="#ffd000" stroke-width="1.1" opacity="0.72"/>
<path d="M660.3,116.5L660.3,122.8" stroke="#ffc200" stroke-width="1.1" opacity="0.72"/>
<path d="M660.3,122.8L660.3,129.2" stroke="#ffb400" stroke-width="1.1" opacity="0.72"/>
<path d="M660.3,129.2L660.3,135.6" stroke="#ffa500" stroke-width="1.1" opacity="0.72"/>
<path d="M609.2,125.2L609.2,133.4" stroke="#faff05" stroke-width="1.1" opacity="0.72"/>
<path d="M609.2,133.4L609.2,141.5" stroke="#faff05" stroke-width="1.1" opacity="0.72"/>
<path d="M712.8,114.1L712.8,124.5" stroke="#0000bd" stroke-width="1.1" opacity="0.72"/>
<path d="M724.7,108.9L724.7,116.3" stroke="#0000bd" stroke-width="1.1" opacity="0.72"/>
<path d="M724.7,116.3L724.7,123.7" stroke="#0000bd" stroke-width="1.1" opacity="0.72"/>
<path d="M568.5,147.4L568.5,153.3" stroke="#e5ff1a" stroke-width="1.1" opacity="0.72"/>
<path d="M568.5,153.3L568.5,159.3" stroke="#bdff42" stroke-width="1.1" opacity="0.72"/>
<path d="M568.5,159.3L568.5,165.2" stroke="#94ff6b" stroke-width="1.1" opacity="0.72"/>
<path d="M568.5,165.2L568.5,171.1" stroke="#6bff94" stroke-width="1.1" opacity="0.72"/>
<path d="M568.5,171.1L568.5,177" stroke="#42ffbd" stroke-width="1.1" opacity="0.72"/>
<path d="M568.5,177L568.5,183" stroke="#1affe5" stroke-width="1.1" opacity="0.72"/>
<path d="M581.8,169.6L581.8,176.3" stroke="#00bfff" stroke-width="1.1" opacity="0.72"/>
<path d="M581.8,176.3L581.8,183" stroke="#0073ff" stroke-width="1.1" opacity="0.72"/>
<path d="M646.2,146.7L646.2,152.7" stroke="#e5ff1a" stroke-width="1.1" opacity="0.72"/>
<path d="M646.2,152.7L646.2,158.8" stroke="#bdff42" stroke-width="1.1" opacity="0.72"/>
<path d="M646.2,158.8L646.2,164.8" stroke="#94ff6b" stroke-width="1.1" opacity="0.72"/>
<path d="M646.2,164.8L646.2,170.9" stroke="#6bff94" stroke-width="1.1" opacity="0.72"/>
<path d="M646.2,170.9L646.2,176.9" stroke="#42ffbd" stroke-width="1.1" opacity="0.72"/>
<path d="M646.2,176.9L646.2,183" stroke="#1affe5" stroke-width="1.1" opacity="0.72"/>
<path d="M659.5,163.7L659.5,170.1" stroke="#00ddff" stroke-width="1.1" opacity="0.72"/>
<path d="M659.5,170.1L659.5,176.5" stroke="#008fff" stroke-width="1.1" opacity="0.72"/>
<path d="M659.5,176.5L659.5,183" stroke="#0041ff" stroke-width="1.1" opacity="0.72"/>
<path d="M664.7,169.6L664.7,176.3" stroke="#00bfff" stroke-width="1.1" opacity="0.72"/>
<path d="M664.7,176.3L664.7,183" stroke="#0073ff" stroke-width="1.1" opacity="0.72"/>
<path d="M672.1,175.5L672.1,183" stroke="#05fffa" stroke-width="1.1" opacity="0.72"/>
<path d="M681,175.5L681,183" stroke="#05fffa" stroke-width="1.1" opacity="0.72"/>
<path d="M719.5,169.6L719.5,176.3" stroke="#05fffa" stroke-width="1.1" opacity="0.72"/>
<path d="M719.5,176.3L719.5,183" stroke="#05fffa" stroke-width="1.1" opacity="0.72"/>
<path d="M749.6,125.2L748.2,131.6" stroke="#db0000" stroke-width="2.5" opacity="0.93"/>
<path d="M748.2,131.6L746.9,137.9" stroke="#ff2c00" stroke-width="2.2" opacity="0.90"/>
<path d="M746.9,137.9L745.5,144.2" stroke="#ff7c00" stroke-width="1.9" opacity="0.86"/>
<path d="M745.5,144.2L744.1,150.6" stroke="#ffcc00" stroke-width="1.6" opacity="0.82"/>
<path d="M744.1,150.6L742.7,156.9" stroke="#e2ff1d" stroke-width="1.3" opacity="0.79"/>
<path d="M742.7,156.9L741.4,163.3" stroke="#92ff6d" stroke-width="1" opacity="0.75"/>
<path d="M741.4,163.3L740,169.6" stroke="#42ffbd" stroke-width="1" opacity="0.72"/>
<path d="M740.3,169.6L740.3,176.3" stroke="#0033ff" stroke-width="1.1" opacity="0.72"/>
<path d="M740.3,176.3L740.3,183" stroke="#0000ff" stroke-width="1.1" opacity="0.72"/>
<path d="M761.5,125.2L763.1,132.4" stroke="#d60000" stroke-width="2.3" opacity="0.91"/>
<path d="M763.1,132.4L764.7,139.5" stroke="#ff1f00" stroke-width="1.6" opacity="0.82"/>
<path d="M764.7,139.5L766.4,146.7" stroke="#ff6600" stroke-width="1" opacity="0.74"/>
<path d="M785.9,120L785,125.8" stroke="#ff9a00" stroke-width="2.5" opacity="0.94"/>
<path d="M785,125.8L784.1,131.5" stroke="#ffbc00" stroke-width="2.3" opacity="0.92"/>
<path d="M784.1,131.5L783.3,137.2" stroke="#ffdd00" stroke-width="2.1" opacity="0.89"/>
<path d="M783.3,137.2L782.4,142.9" stroke="#ffff00" stroke-width="1.9" opacity="0.87"/>
<path d="M782.4,142.9L781.5,148.6" stroke="#deff21" stroke-width="1.7" opacity="0.85"/>
<path d="M781.5,148.6L780.6,154.4" stroke="#bdff42" stroke-width="1.6" opacity="0.82"/>
<path d="M780.6,154.4L779.8,160.1" stroke="#9bff64" stroke-width="1.4" opacity="0.80"/>
<path d="M779.8,160.1L778.9,165.8" stroke="#7aff85" stroke-width="1.2" opacity="0.78"/>
<path d="M778.9,165.8L778,171.5" stroke="#59ffa6" stroke-width="1" opacity="0.76"/>
<path d="M778,171.5L777.1,177.2" stroke="#37ffc8" stroke-width="1" opacity="0.73"/>
<path d="M777.1,177.2L776.3,183" stroke="#16ffe9" stroke-width="1" opacity="0.71"/>
<path d="M790.3,142.2L790.2,148.3" stroke="#ffac00" stroke-width="1.1" opacity="0.72"/>
<path d="M790.2,148.3L790,154.4" stroke="#fff200" stroke-width="1.1" opacity="0.72"/>
<path d="M790,154.4L789.9,160.4" stroke="#c7ff38" stroke-width="1.1" opacity="0.72"/>
<path d="M789.9,160.4L789.7,166.5" stroke="#82ff7d" stroke-width="1.1" opacity="0.72"/>
<path d="M789.7,166.5L789.6,172.6" stroke="#3cffc3" stroke-width="1.1" opacity="0.72"/>
<path d="M803.7,120L803.3,126.7" stroke="#14ffeb" stroke-width="1.1" opacity="0.72"/>
<path d="M803.3,126.7L802.9,133.4" stroke="#33ffcc" stroke-width="1.1" opacity="0.72"/>
<path d="M802.9,133.4L802.5,140" stroke="#52ffad" stroke-width="1.1" opacity="0.72"/>
<path d="M802.5,140L802.2,146.7" stroke="#70ff8f" stroke-width="1.1" opacity="0.72"/>
<path d="M829.6,114.4L828.3,120.1" stroke="#ff2d00" stroke-width="2.5" opacity="0.94"/>
<path d="M828.3,120.1L827,125.8" stroke="#ff5500" stroke-width="2.3" opacity="0.92"/>
<path d="M827,125.8L825.7,131.5" stroke="#ff7d00" stroke-width="2.2" opacity="0.90"/>
<path d="M825.7,131.5L824.4,137.3" stroke="#ffa500" stroke-width="2" opacity="0.88"/>
<path d="M824.4,137.3L823.1,143" stroke="#ffcd00" stroke-width="1.8" opacity="0.86"/>
<path d="M823.1,143L821.8,148.7" stroke="#fff500" stroke-width="1.6" opacity="0.84"/>
<path d="M821.8,148.7L820.5,154.4" stroke="#e1ff1e" stroke-width="1.5" opacity="0.81"/>
<path d="M820.5,154.4L819.2,160.1" stroke="#b9ff46" stroke-width="1.3" opacity="0.79"/>
<path d="M819.2,160.1L817.9,165.8" stroke="#91ff6e" stroke-width="1.1" opacity="0.77"/>
<path d="M817.9,165.8L816.6,171.5" stroke="#69ff96" stroke-width="1" opacity="0.75"/>
<path d="M816.6,171.5L815.3,177.2" stroke="#41ffbe" stroke-width="1" opacity="0.73"/>
<path d="M815.3,177.2L814,183" stroke="#19ffe6" stroke-width="1" opacity="0.71"/>
<path d="M837.7,114.4L839,121.2" stroke="#ff2500" stroke-width="2.3" opacity="0.92"/>
<path d="M839,121.2L840.3,128" stroke="#ff3c00" stroke-width="1.8" opacity="0.86"/>
<path d="M840.3,128L841.6,134.7" stroke="#ff5300" stroke-width="1.3" opacity="0.79"/>
<path d="M841.6,134.7L842.9,141.5" stroke="#ff6a00" stroke-width="1" opacity="0.73"/>
<path d="M827.3,125.2L827.3,131" stroke="#bdff42" stroke-width="1.1" opacity="0.72"/>
<path d="M827.3,131L827.2,136.8" stroke="#aaff55" stroke-width="1.1" opacity="0.72"/>
<path d="M827.2,136.8L827.1,142.5" stroke="#96ff69" stroke-width="1.1" opacity="0.72"/>
<path d="M827.1,142.5L827,148.3" stroke="#83ff7c" stroke-width="1.1" opacity="0.72"/>
<path d="M827,148.3L827,154.1" stroke="#70ff8f" stroke-width="1.1" opacity="0.72"/>
<path d="M827,154.1L826.9,159.9" stroke="#5cffa3" stroke-width="1.1" opacity="0.72"/>
<path d="M826.9,159.9L826.8,165.6" stroke="#49ffb6" stroke-width="1.1" opacity="0.72"/>
<path d="M826.8,165.6L826.8,171.4" stroke="#36ffc9" stroke-width="1.1" opacity="0.72"/>
<path d="M826.8,171.4L826.7,177.2" stroke="#22ffdd" stroke-width="1.1" opacity="0.72"/>
<path d="M826.7,177.2L826.6,183" stroke="#0ffff0" stroke-width="1.1" opacity="0.72"/>
<path d="M841.4,141.5L841.1,147.4" stroke="#e8ff17" stroke-width="1.1" opacity="0.72"/>
<path d="M841.1,147.4L840.8,153.3" stroke="#c5ff3a" stroke-width="1.1" opacity="0.72"/>
<path d="M840.8,153.3L840.5,159.3" stroke="#a2ff5d" stroke-width="1.1" opacity="0.72"/>
<path d="M840.5,159.3L840.1,165.2" stroke="#80ff80" stroke-width="1.1" opacity="0.72"/>
<path d="M840.1,165.2L839.8,171.1" stroke="#5dffa2" stroke-width="1.1" opacity="0.72"/>
<path d="M839.8,171.1L839.5,177" stroke="#3affc5" stroke-width="1.1" opacity="0.72"/>
<path d="M839.5,177L839.2,183" stroke="#17ffe8" stroke-width="1.1" opacity="0.72"/>
<path d="M854.7,108.9L854.6,115.4" stroke="#003dff" stroke-width="1.1" opacity="0.72"/>
<path d="M854.6,115.4L854.4,122" stroke="#0085ff" stroke-width="1.1" opacity="0.72"/>
<path d="M854.4,122L854.3,128.5" stroke="#00ccff" stroke-width="1.1" opacity="0.72"/>
<path d="M854.3,128.5L854.1,135" stroke="#14ffeb" stroke-width="1.1" opacity="0.72"/>
<path d="M854.1,135L854,141.5" stroke="#5cffa3" stroke-width="1.1" opacity="0.72"/>
<path d="M853.2,163.7L853,170.1" stroke="#00ddff" stroke-width="1.1" opacity="0.72"/>
<path d="M853,170.1L852.8,176.5" stroke="#008fff" stroke-width="1.1" opacity="0.72"/>
<path d="M852.8,176.5L852.5,183" stroke="#0041ff" stroke-width="1.1" opacity="0.72"/>
<path d="M866.6,108.9L865.6,115" stroke="#ff7e00" stroke-width="2.5" opacity="0.93"/>
<path d="M865.6,115L864.5,121.1" stroke="#ff9000" stroke-width="2.2" opacity="0.90"/>
<path d="M864.5,121.1L863.5,127.3" stroke="#ffa200" stroke-width="2" opacity="0.87"/>
<path d="M863.5,127.3L862.5,133.4" stroke="#ffb400" stroke-width="1.7" opacity="0.84"/>
<path d="M862.5,133.4L861.5,139.5" stroke="#ffc600" stroke-width="1.4" opacity="0.81"/>
<path d="M861.5,139.5L860.5,145.6" stroke="#ffd700" stroke-width="1.2" opacity="0.78"/>
<path d="M860.5,145.6L859.4,151.7" stroke="#ffe900" stroke-width="1" opacity="0.75"/>
<path d="M859.4,151.7L858.4,157.8" stroke="#fffb00" stroke-width="1" opacity="0.72"/>
<path d="M868.1,131.1L867.9,137.3" stroke="#d4ff2b" stroke-width="1.1" opacity="0.72"/>
<path d="M867.9,137.3L867.8,143.5" stroke="#dbff24" stroke-width="1.1" opacity="0.72"/>
<path d="M867.8,143.5L867.7,149.6" stroke="#e2ff1d" stroke-width="1.1" opacity="0.72"/>
<path d="M867.7,149.6L867.6,155.8" stroke="#e9ff16" stroke-width="1.1" opacity="0.72"/>
<path d="M867.6,155.8L867.4,162" stroke="#f0ff0f" stroke-width="1.1" opacity="0.72"/>
<path d="M867.4,162L867.3,168.1" stroke="#f7ff08" stroke-width="1.1" opacity="0.72"/>
<path d="M880.6,131.1L880.5,137.3" stroke="#fff000" stroke-width="1.1" opacity="0.72"/>
<path d="M880.5,137.3L880.4,143.5" stroke="#fff000" stroke-width="1.1" opacity="0.72"/>
<path d="M880.4,143.5L880.3,149.6" stroke="#fff000" stroke-width="1.1" opacity="0.72"/>
<path d="M880.3,149.6L880.1,155.8" stroke="#fff000" stroke-width="1.1" opacity="0.72"/>
<path d="M880.1,155.8L880,162" stroke="#fff000" stroke-width="1.1" opacity="0.72"/>
<path d="M880,162L879.9,168.1" stroke="#fff000" stroke-width="1.1" opacity="0.72"/>
<path d="M893.2,137.1L893.2,144.5" stroke="#faff05" stroke-width="1.1" opacity="0.72"/>
<path d="M893.2,144.5L893.2,151.9" stroke="#faff05" stroke-width="1.1" opacity="0.72"/>
<path d="M903.6,108.9L902.8,114.7" stroke="#ff7200" stroke-width="2.5" opacity="0.94"/>
<path d="M902.8,114.7L902.1,120.5" stroke="#ff9400" stroke-width="2.3" opacity="0.92"/>
<path d="M902.1,120.5L901.4,126.3" stroke="#ffb600" stroke-width="2.2" opacity="0.90"/>
<path d="M901.4,126.3L900.6,132.1" stroke="#ffd800" stroke-width="2" opacity="0.88"/>
<path d="M900.6,132.1L899.9,137.9" stroke="#fffa00" stroke-width="1.8" opacity="0.86"/>
<path d="M899.9,137.9L899.1,143.7" stroke="#e2ff1d" stroke-width="1.6" opacity="0.84"/>
<path d="M899.1,143.7L898.4,149.5" stroke="#c0ff3f" stroke-width="1.5" opacity="0.81"/>
<path d="M898.4,149.5L897.7,155.3" stroke="#9eff61" stroke-width="1.3" opacity="0.79"/>
<path d="M897.7,155.3L896.9,161.1" stroke="#7cff83" stroke-width="1.1" opacity="0.77"/>
<path d="M896.9,161.1L896.2,166.9" stroke="#5affa5" stroke-width="1" opacity="0.75"/>
<path d="M896.2,166.9L895.4,172.7" stroke="#38ffc7" stroke-width="1" opacity="0.73"/>
<path d="M895.4,172.7L894.7,178.5" stroke="#16ffe9" stroke-width="1" opacity="0.71"/>
<path d="M906.5,103L906.2,109.5" stroke="#11ffee" stroke-width="1.1" opacity="0.72"/>
<path d="M906.2,109.5L906,116" stroke="#2affd5" stroke-width="1.1" opacity="0.72"/>
<path d="M906,116L905.7,122.6" stroke="#42ffbd" stroke-width="1.1" opacity="0.72"/>
<path d="M905.7,122.6L905.4,129.1" stroke="#5bffa4" stroke-width="1.1" opacity="0.72"/>
<path d="M905.4,129.1L905.1,135.6" stroke="#73ff8c" stroke-width="1.1" opacity="0.72"/>
<path d="M917.6,114.4L918.8,122.4" stroke="#ff8f00" stroke-width="2.1" opacity="0.89"/>
<path d="M918.8,122.4L919.9,130.4" stroke="#ff9900" stroke-width="1" opacity="0.76"/>
<path d="M931,108.9L931,116.3" stroke="#44ffbb" stroke-width="1.1" opacity="0.72"/>
<path d="M931,116.3L931,123.7" stroke="#33ffcc" stroke-width="1.1" opacity="0.72"/>
<path d="M931,123.7L931,131.1" stroke="#22ffdd" stroke-width="1.1" opacity="0.72"/>
<path d="M940,125.2L939.1,131" stroke="#ff9c00" stroke-width="2.5" opacity="0.94"/>
<path d="M939.1,131L938.2,136.8" stroke="#ffc100" stroke-width="2.3" opacity="0.91"/>
<path d="M938.2,136.8L937.3,142.5" stroke="#ffe500" stroke-width="2.1" opacity="0.89"/>
<path d="M937.3,142.5L936.4,148.3" stroke="#f4ff0b" stroke-width="1.9" opacity="0.86"/>
<path d="M936.4,148.3L935.5,154.1" stroke="#cfff30" stroke-width="1.7" opacity="0.84"/>
<path d="M935.5,154.1L934.6,159.9" stroke="#aaff55" stroke-width="1.5" opacity="0.81"/>
<path d="M934.6,159.9L933.7,165.6" stroke="#86ff79" stroke-width="1.2" opacity="0.79"/>
<path d="M933.7,165.6L932.8,171.4" stroke="#61ff9e" stroke-width="1" opacity="0.76"/>
<path d="M932.8,171.4L931.9,177.2" stroke="#3cffc3" stroke-width="1" opacity="0.74"/>
<path d="M931.9,177.2L931,183" stroke="#17ffe8" stroke-width="1" opacity="0.71"/>
<path d="M751.1,103L751.1,110.4" stroke="#0041ff" stroke-width="1.1" opacity="0.72"/>
<path d="M751.1,110.4L751.1,117.8" stroke="#008fff" stroke-width="1.1" opacity="0.72"/>
<path d="M751.1,117.8L751.1,125.2" stroke="#00ddff" stroke-width="1.1" opacity="0.72"/>
<path d="M815.5,103L815.5,108.9" stroke="#0000b2" stroke-width="1.1" opacity="0.72"/>
<path d="M918.4,97.8L918.4,108.9" stroke="#05fffa" stroke-width="1.1" opacity="0.72"/>
<path d="M748.9,175.5L748.9,183" stroke="#004dff" stroke-width="1.1" opacity="0.72"/>
<path d="M762.2,180L762.2,183" stroke="#0000b2" stroke-width="1.1" opacity="0.72"/>
<path d="M771.1,163.7L771.1,170.1" stroke="#d1ff2e" stroke-width="1.1" opacity="0.72"/>
<path d="M771.1,170.1L771.1,176.5" stroke="#d1ff2e" stroke-width="1.1" opacity="0.72"/>
<path d="M771.1,176.5L771.1,183" stroke="#d1ff2e" stroke-width="1.1" opacity="0.72"/>
<path d="M779.2,180L779.2,183" stroke="#0000b2" stroke-width="1.1" opacity="0.72"/>
<path d="M784.4,163.7L784.4,170.1" stroke="#b3ff4c" stroke-width="1.1" opacity="0.72"/>
<path d="M784.4,170.1L784.4,176.5" stroke="#b3ff4c" stroke-width="1.1" opacity="0.72"/>
<path d="M784.4,176.5L784.4,183" stroke="#b3ff4c" stroke-width="1.1" opacity="0.72"/>
<path d="M793.3,175.5L793.3,183" stroke="#05fffa" stroke-width="1.1" opacity="0.72"/>
<path d="M813.3,169.6L813.3,176.3" stroke="#05fffa" stroke-width="1.1" opacity="0.72"/>
<path d="M813.3,176.3L813.3,183" stroke="#05fffa" stroke-width="1.1" opacity="0.72"/>
<path d="M817,175.5L817,183" stroke="#0000b2" stroke-width="1.1" opacity="0.72"/>
<path d="M822.2,163.7L822.2,170.1" stroke="#80ff80" stroke-width="1.1" opacity="0.72"/>
<path d="M822.2,170.1L822.2,176.5" stroke="#80ff80" stroke-width="1.1" opacity="0.72"/>
<path d="M822.2,176.5L822.2,183" stroke="#80ff80" stroke-width="1.1" opacity="0.72"/>
<path d="M835.5,175.5L835.5,183" stroke="#05fffa" stroke-width="1.1" opacity="0.72"/>
<path d="M857,163.7L857,171.8" stroke="#0080ff" stroke-width="1.1" opacity="0.72"/>
<path d="M857,171.8L857,180" stroke="#0080ff" stroke-width="1.1" opacity="0.72"/>
<path d="M866.6,180L866.6,183" stroke="#0000b2" stroke-width="1.1" opacity="0.72"/>
<path d="M874.7,157.8L874.7,168.1" stroke="#faff05" stroke-width="1.1" opacity="0.72"/>
<path d="M887.3,175.5L887.3,183" stroke="#c7ff38" stroke-width="1.1" opacity="0.72"/>
<path d="M894,175.5L894,183" stroke="#0000b2" stroke-width="1.1" opacity="0.72"/>
<path d="M899.1,175.5L899.1,183" stroke="#05fffa" stroke-width="1.1" opacity="0.72"/>
<path d="M904.3,169.6L904.3,176.3" stroke="#009eff" stroke-width="1.1" opacity="0.72"/>
<path d="M904.3,176.3L904.3,183" stroke="#009eff" stroke-width="1.1" opacity="0.72"/>
<path d="M912.5,163.7L912.5,170.1" stroke="#05fffa" stroke-width="1.1" opacity="0.72"/>
<path d="M912.5,170.1L912.5,176.5" stroke="#05fffa" stroke-width="1.1" opacity="0.72"/>
<path d="M912.5,176.5L912.5,183" stroke="#05fffa" stroke-width="1.1" opacity="0.72"/>
<path d="M916.9,157.8L916.9,164.1" stroke="#05fffa" stroke-width="1.1" opacity="0.72"/>
<path d="M916.9,164.1L916.9,170.4" stroke="#05fffa" stroke-width="1.1" opacity="0.72"/>
<path d="M916.9,170.4L916.9,176.7" stroke="#05fffa" stroke-width="1.1" opacity="0.72"/>
<path d="M916.9,176.7L916.9,183" stroke="#05fffa" stroke-width="1.1" opacity="0.72"/>
<path d="M925,175.5L925,183" stroke="#05fffa" stroke-width="1.1" opacity="0.72"/>
<path d="M929.5,180L929.5,183" stroke="#0000b2" stroke-width="1.1" opacity="0.72"/>
<path d="M932.5,180L932.5,183" stroke="#0000b2" stroke-width="1.1" opacity="0.72"/>
<path d="M943.3,114.4L942.1,120.5" stroke="#ff8b00" stroke-width="2.5" opacity="0.94"/>
<path d="M942.1,120.5L940.9,126.7" stroke="#ffb600" stroke-width="2.3" opacity="0.91"/>
<path d="M940.9,126.7L939.6,132.8" stroke="#ffe100" stroke-width="2" opacity="0.88"/>
<path d="M939.6,132.8L938.4,139" stroke="#f2ff0d" stroke-width="1.8" opacity="0.85"/>
<path d="M938.4,139L937.2,145.1" stroke="#c7ff38" stroke-width="1.6" opacity="0.82"/>
<path d="M937.2,145.1L935.9,151.2" stroke="#9cff63" stroke-width="1.3" opacity="0.80"/>
<path d="M935.9,151.2L934.7,157.4" stroke="#71ff8e" stroke-width="1.1" opacity="0.77"/>
<path d="M934.7,157.4L933.5,163.5" stroke="#46ffb9" stroke-width="1" opacity="0.74"/>
<path d="M933.5,163.5L932.2,169.6" stroke="#1bffe4" stroke-width="1" opacity="0.71"/>
<path d="M932.2,169.6L931.5,176.3" stroke="#00fcff" stroke-width="1.1" opacity="0.72"/>
<path d="M931.5,176.3L930.7,183" stroke="#00edff" stroke-width="1.1" opacity="0.72"/>
<path d="M953.7,110.4L955,116.7" stroke="#ff8500" stroke-width="2.3" opacity="0.92"/>
<path d="M955,116.7L956.3,123" stroke="#ffa300" stroke-width="1.8" opacity="0.86"/>
<path d="M956.3,123L957.6,129.3" stroke="#ffc200" stroke-width="1.3" opacity="0.79"/>
<path d="M957.6,129.3L958.9,135.6" stroke="#ffe000" stroke-width="1" opacity="0.73"/>
<path d="M958.9,135.6L958.7,141.3" stroke="#e8ff17" stroke-width="1.1" opacity="0.72"/>
<path d="M958.7,141.3L958.4,147" stroke="#c5ff3a" stroke-width="1.1" opacity="0.72"/>
<path d="M958.4,147L958.2,152.7" stroke="#a2ff5d" stroke-width="1.1" opacity="0.72"/>
<path d="M958.2,152.7L958,158.4" stroke="#80ff80" stroke-width="1.1" opacity="0.72"/>
<path d="M958,158.4L957.8,164.1" stroke="#5dffa2" stroke-width="1.1" opacity="0.72"/>
<path d="M957.8,164.1L957.6,169.8" stroke="#3affc5" stroke-width="1.1" opacity="0.72"/>
<path d="M957.6,169.8L957.4,175.5" stroke="#17ffe8" stroke-width="1.1" opacity="0.72"/>
<path d="M945.5,110.4L945.5,116.3" stroke="#37ffc8" stroke-width="1.1" opacity="0.72"/>
<path d="M945.5,116.3L945.4,122.3" stroke="#4bffb4" stroke-width="1.1" opacity="0.72"/>
<path d="M945.4,122.3L945.3,128.2" stroke="#5effa1" stroke-width="1.1" opacity="0.72"/>
<path d="M945.3,128.2L945.2,134.1" stroke="#71ff8e" stroke-width="1.1" opacity="0.72"/>
<path d="M945.2,134.1L945.1,140" stroke="#84ff7b" stroke-width="1.1" opacity="0.72"/>
<path d="M945.1,140L945,145.9" stroke="#97ff68" stroke-width="1.1" opacity="0.72"/>
<path d="M945,145.9L944.9,151.9" stroke="#aaff55" stroke-width="1.1" opacity="0.72"/>
<path d="M944.9,151.9L944.8,157.8" stroke="#bdff42" stroke-width="1.1" opacity="0.72"/>
<path d="M978.9,120L977.9,126.2" stroke="#ffb100" stroke-width="2.5" opacity="0.94"/>
<path d="M977.9,126.2L977,132.4" stroke="#ffd800" stroke-width="2.3" opacity="0.91"/>
<path d="M977,132.4L976.1,138.5" stroke="#fffe00" stroke-width="2" opacity="0.88"/>
<path d="M976.1,138.5L975.2,144.7" stroke="#d9ff26" stroke-width="1.8" opacity="0.85"/>
<path d="M975.2,144.7L974.3,150.9" stroke="#b3ff4c" stroke-width="1.6" opacity="0.82"/>
<path d="M974.3,150.9L973.4,157" stroke="#8cff73" stroke-width="1.3" opacity="0.80"/>
<path d="M973.4,157L972.5,163.2" stroke="#65ff9a" stroke-width="1.1" opacity="0.77"/>
<path d="M972.5,163.2L971.6,169.4" stroke="#3fffc0" stroke-width="1" opacity="0.74"/>
<path d="M971.6,169.4L970.7,175.5" stroke="#18ffe7" stroke-width="1" opacity="0.71"/>
<path d="M971.5,175.5L971.5,183.5" stroke="#00009e" stroke-width="1.6" opacity="0.82"/>
<path d="M984.8,125.2L984.3,131.7" stroke="#ccff33" stroke-width="1.1" opacity="0.72"/>
<path d="M984.3,131.7L983.9,138.2" stroke="#d6ff29" stroke-width="1.1" opacity="0.72"/>
<path d="M983.9,138.2L983.4,144.8" stroke="#e0ff1f" stroke-width="1.1" opacity="0.72"/>
<path d="M983.4,144.8L983,151.3" stroke="#ebff14" stroke-width="1.1" opacity="0.72"/>
<path d="M983,151.3L982.6,157.8" stroke="#f5ff0a" stroke-width="1.1" opacity="0.72"/>
<path d="M1019.6,114.4L1018.6,120.4" stroke="#ffa300" stroke-width="2.5" opacity="0.94"/>
<path d="M1018.6,120.4L1017.7,126.3" stroke="#ffd500" stroke-width="2.3" opacity="0.92"/>
<path d="M1017.7,126.3L1016.7,132.3" stroke="#f7ff08" stroke-width="2.1" opacity="0.89"/>
<path d="M1016.7,132.3L1015.8,138.3" stroke="#c5ff3a" stroke-width="1.9" opacity="0.87"/>
<path d="M1015.8,138.3L1014.9,144.2" stroke="#93ff6c" stroke-width="1.7" opacity="0.85"/>
<path d="M1014.9,144.2L1013.9,150.2" stroke="#61ff9e" stroke-width="1.6" opacity="0.82"/>
<path d="M1013.9,150.2L1013,156.1" stroke="#2fffd0" stroke-width="1.4" opacity="0.80"/>
<path d="M1013,156.1L1012,162.1" stroke="#00fcff" stroke-width="1.2" opacity="0.78"/>
<path d="M1012,162.1L1011.1,168.1" stroke="#00caff" stroke-width="1" opacity="0.76"/>
<path d="M1011.1,168.1L1010.1,174" stroke="#0098ff" stroke-width="1" opacity="0.73"/>
<path d="M1010.1,174L1009.2,180" stroke="#0066ff" stroke-width="1" opacity="0.71"/>
<path d="M1008.5,114.4L1008.4,120.4" stroke="#1affe5" stroke-width="1.1" opacity="0.72"/>
<path d="M1008.4,120.4L1008.3,126.3" stroke="#1affe5" stroke-width="1.1" opacity="0.72"/>
<path d="M1008.3,126.3L1008.3,132.3" stroke="#1affe5" stroke-width="1.1" opacity="0.72"/>
<path d="M1008.3,132.3L1008.2,138.3" stroke="#1affe5" stroke-width="1.1" opacity="0.72"/>
<path d="M1008.2,138.3L1008.1,144.2" stroke="#1affe5" stroke-width="1.1" opacity="0.72"/>
<path d="M1008.1,144.2L1008.1,150.2" stroke="#1affe5" stroke-width="1.1" opacity="0.72"/>
<path d="M1008.1,150.2L1008,156.1" stroke="#1affe5" stroke-width="1.1" opacity="0.72"/>
<path d="M1008,156.1L1007.9,162.1" stroke="#1affe5" stroke-width="1.1" opacity="0.72"/>
<path d="M1007.9,162.1L1007.9,168.1" stroke="#1affe5" stroke-width="1.1" opacity="0.72"/>
<path d="M1007.9,168.1L1007.8,174" stroke="#1affe5" stroke-width="1.1" opacity="0.72"/>
<path d="M1007.8,174L1007.7,180" stroke="#1affe5" stroke-width="1.1" opacity="0.72"/>
<path d="M1021,114.4L1021,120.7" stroke="#5bffa4" stroke-width="1.1" opacity="0.72"/>
<path d="M1021,120.7L1021,126.9" stroke="#78ff87" stroke-width="1.1" opacity="0.72"/>
<path d="M1021,126.9L1021,133.1" stroke="#95ff6a" stroke-width="1.1" opacity="0.72"/>
<path d="M1021,133.1L1021,139.4" stroke="#b2ff4d" stroke-width="1.1" opacity="0.72"/>
<path d="M1021,139.4L1021,145.6" stroke="#cfff30" stroke-width="1.1" opacity="0.72"/>
<path d="M1021,145.6L1021,151.9" stroke="#ebff14" stroke-width="1.1" opacity="0.72"/>
<path d="M1030.7,120L1032,126.7" stroke="#ff8000" stroke-width="2.3" opacity="0.92"/>
<path d="M1032,126.7L1033.3,133.4" stroke="#ff9400" stroke-width="1.8" opacity="0.86"/>
<path d="M1033.3,133.4L1034.6,140" stroke="#ffa800" stroke-width="1.3" opacity="0.79"/>
<path d="M1034.6,140L1035.8,146.7" stroke="#ffbd00" stroke-width="1" opacity="0.73"/>
<path d="M1056.6,110.4L1055.8,116.3" stroke="#ff9c00" stroke-width="2.5" opacity="0.94"/>
<path d="M1055.8,116.3L1054.9,122.3" stroke="#ffc100" stroke-width="2.3" opacity="0.91"/>
<path d="M1054.9,122.3L1054.1,128.2" stroke="#ffe500" stroke-width="2.1" opacity="0.89"/>
<path d="M1054.1,128.2L1053.3,134.1" stroke="#f4ff0b" stroke-width="1.9" opacity="0.86"/>
<path d="M1053.3,134.1L1052.5,140" stroke="#cfff30" stroke-width="1.7" opacity="0.84"/>
<path d="M1052.5,140L1051.7,145.9" stroke="#aaff55" stroke-width="1.5" opacity="0.81"/>
<path d="M1051.7,145.9L1050.9,151.9" stroke="#86ff79" stroke-width="1.2" opacity="0.79"/>
<path d="M1050.9,151.9L1050.1,157.8" stroke="#61ff9e" stroke-width="1" opacity="0.76"/>
<path d="M1050.1,157.8L1049.2,163.7" stroke="#3cffc3" stroke-width="1" opacity="0.74"/>
<path d="M1049.2,163.7L1048.4,169.6" stroke="#17ffe8" stroke-width="1" opacity="0.71"/>
<path d="M1048.4,175.5L1048.4,183.5" stroke="#00009e" stroke-width="1.6" opacity="0.82"/>
<path d="M1095.8,108.9L1095,115" stroke="#ff8700" stroke-width="2.5" opacity="0.94"/>
<path d="M1095,115L1094.2,121" stroke="#ffaa00" stroke-width="2.3" opacity="0.92"/>
<path d="M1094.2,121L1093.4,127.1" stroke="#ffcd00" stroke-width="2.1" opacity="0.89"/>
<path d="M1093.4,127.1L1092.6,133.2" stroke="#fff100" stroke-width="1.9" opacity="0.87"/>
<path d="M1092.6,133.2L1091.8,139.2" stroke="#eaff15" stroke-width="1.7" opacity="0.85"/>
<path d="M1091.8,139.2L1091,145.3" stroke="#c7ff38" stroke-width="1.6" opacity="0.82"/>
<path d="M1091,145.3L1090.2,151.3" stroke="#a4ff5b" stroke-width="1.4" opacity="0.80"/>
<path d="M1090.2,151.3L1089.3,157.4" stroke="#80ff7f" stroke-width="1.2" opacity="0.78"/>
<path d="M1089.3,157.4L1088.5,163.4" stroke="#5dffa2" stroke-width="1" opacity="0.76"/>
<path d="M1088.5,163.4L1087.7,169.5" stroke="#3affc5" stroke-width="1" opacity="0.73"/>
<path d="M1087.7,169.5L1086.9,175.5" stroke="#17ffe8" stroke-width="1" opacity="0.71"/>
<path d="M1086.6,175.5L1086.6,183.5" stroke="#00009e" stroke-width="1.6" opacity="0.82"/>
<path d="M1087.7,108.9L1087.4,116.3" stroke="#05fffa" stroke-width="1.1" opacity="0.72"/>
<path d="M1087.4,116.3L1087.2,123.7" stroke="#05fffa" stroke-width="1.1" opacity="0.72"/>
<path d="M1087.2,123.7L1086.9,131.1" stroke="#05fffa" stroke-width="1.1" opacity="0.72"/>
<path d="M1108.4,110.4L1109.7,116.7" stroke="#ff9600" stroke-width="2.3" opacity="0.92"/>
<path d="M1109.7,116.7L1111,123" stroke="#ffb000" stroke-width="1.8" opacity="0.86"/>
<path d="M1111,123L1112.3,129.3" stroke="#ffc900" stroke-width="1.3" opacity="0.79"/>
<path d="M1112.3,129.3L1113.6,135.6" stroke="#ffe300" stroke-width="1" opacity="0.73"/>
<path d="M1112.1,135.6L1111.9,141.5" stroke="#ebff14" stroke-width="1.1" opacity="0.72"/>
<path d="M1111.9,141.5L1111.7,147.4" stroke="#ccff33" stroke-width="1.1" opacity="0.72"/>
<path d="M1111.7,147.4L1111.5,153.3" stroke="#adff52" stroke-width="1.1" opacity="0.72"/>
<path d="M1111.5,153.3L1111.3,159.3" stroke="#8fff70" stroke-width="1.1" opacity="0.72"/>
<path d="M1111.3,159.3L1111.2,165.2" stroke="#70ff8f" stroke-width="1.1" opacity="0.72"/>
<path d="M1111.2,165.2L1111,171.1" stroke="#52ffad" stroke-width="1.1" opacity="0.72"/>
<path d="M1111,171.1L1110.8,177" stroke="#33ffcc" stroke-width="1.1" opacity="0.72"/>
<path d="M1110.8,177L1110.6,183" stroke="#14ffeb" stroke-width="1.1" opacity="0.72"/>
<path d="M1105.4,113.4L1105.4,119.3" stroke="#ff8a00" stroke-width="1.1" opacity="0.72"/>
<path d="M1099.5,97.8L1099.5,103.3" stroke="#00b2ff" stroke-width="1.1" opacity="0.72"/>
<path d="M996.6,103L996.6,108.7" stroke="#00b2ff" stroke-width="1.1" opacity="0.72"/>
<path d="M996.6,108.7L996.6,114.4" stroke="#00b2ff" stroke-width="1.1" opacity="0.72"/>
<path d="M932.2,180L932.2,183.5" stroke="#00009e" stroke-width="1.1" opacity="0.72"/>
<path d="M943.3,169.6L943.3,176.6" stroke="#00b2ff" stroke-width="1.1" opacity="0.72"/>
<path d="M943.3,176.6L943.3,183.5" stroke="#00b2ff" stroke-width="1.1" opacity="0.72"/>
<path d="M952.2,175.5L952.2,183.5" stroke="#c7ff38" stroke-width="1.1" opacity="0.72"/>
<path d="M965.5,168.1L965.5,175.8" stroke="#1affe5" stroke-width="1.1" opacity="0.72"/>
<path d="M965.5,175.8L965.5,183.5" stroke="#1affe5" stroke-width="1.1" opacity="0.72"/>
<path d="M990.7,175.5L990.7,183.5" stroke="#05fffa" stroke-width="1.1" opacity="0.72"/>
<path d="M1003.3,169.6L1003.3,176.6" stroke="#05fffa" stroke-width="1.1" opacity="0.72"/>
<path d="M1003.3,176.6L1003.3,183.5" stroke="#05fffa" stroke-width="1.1" opacity="0.72"/>
<path d="M1016.6,175.5L1016.6,183.5" stroke="#05fffa" stroke-width="1.1" opacity="0.72"/>
<path d="M1020.3,175.5L1020.3,183.5" stroke="#05fffa" stroke-width="1.1" opacity="0.72"/>
<path d="M1029.2,180L1029.2,183.5" stroke="#c7ff38" stroke-width="1.1" opacity="0.72"/>
<path d="M1042.5,175.5L1042.5,183.5" stroke="#c7ff38" stroke-width="1.1" opacity="0.72"/>
<path d="M1055.1,157.8L1055.1,165.2" stroke="#d1ff2e" stroke-width="1.1" opacity="0.72"/>
<path d="M1055.1,165.2L1055.1,172.6" stroke="#d1ff2e" stroke-width="1.1" opacity="0.72"/>
<path d="M1055.1,172.6L1055.1,180" stroke="#d1ff2e" stroke-width="1.1" opacity="0.72"/>
<path d="M1061,157.8L1061,164.2" stroke="#12ffed" stroke-width="1.1" opacity="0.72"/>
<path d="M1061,164.2L1061,170.6" stroke="#00d9ff" stroke-width="1.1" opacity="0.72"/>
<path d="M1061,170.6L1061,177.1" stroke="#00a1ff" stroke-width="1.1" opacity="0.72"/>
<path d="M1061,177.1L1061,183.5" stroke="#0069ff" stroke-width="1.1" opacity="0.72"/>
<path d="M1068.4,168.1L1068.4,175.8" stroke="#80ff80" stroke-width="1.1" opacity="0.72"/>
<path d="M1068.4,175.8L1068.4,183.5" stroke="#80ff80" stroke-width="1.1" opacity="0.72"/>
<path d="M1074.3,141.5L1074.3,148.2" stroke="#faff05" stroke-width="1.1" opacity="0.72"/>
<path d="M1074.3,148.2L1074.3,154.8" stroke="#faff05" stroke-width="1.1" opacity="0.72"/>
<path d="M1074.3,154.8L1074.3,161.5" stroke="#faff05" stroke-width="1.1" opacity="0.72"/>
<path d="M1074.3,161.5L1074.3,168.1" stroke="#faff05" stroke-width="1.1" opacity="0.72"/>
<path d="M1077.3,180L1077.3,183.5" stroke="#b3ff4c" stroke-width="1.1" opacity="0.72"/>
<path d="M1098.8,141.5L1098.8,149.6" stroke="#d1ff2e" stroke-width="1.1" opacity="0.72"/>
<path d="M1098.8,149.6L1098.8,157.8" stroke="#d1ff2e" stroke-width="1.1" opacity="0.72"/>
<path d="M1106.2,163.7L1106.2,170.3" stroke="#05fffa" stroke-width="1.1" opacity="0.72"/>
<path d="M1106.2,170.3L1106.2,176.9" stroke="#05fffa" stroke-width="1.1" opacity="0.72"/>
<path d="M1106.2,176.9L1106.2,183.5" stroke="#05fffa" stroke-width="1.1" opacity="0.72"/>
</g>
<g stroke="#000" fill="none" shape-rendering="crispEdges">
<path d="M175,71 V184" stroke-width="2"/>
<path d="M174,72 H191" stroke-width="2"/>
<path d="M174,184.5 H1116" stroke-width="1"/>
<path d="M1115.5,168 V185" stroke-width="1"/>
</g>
<defs>
<filter id="hmf0" filterUnits="userSpaceOnUse" x="100" y="270" width="1100" height="150" color-interpolation-filters="sRGB"><feGaussianBlur stdDeviation="1.2 0"/><feComponentTransfer><feFuncR type="table" tableValues="0 0 0 0 0.5 1 1 1 0.5"/><feFuncG type="table" tableValues="0 0 0.5 1 1 1 0.5 0 0"/><feFuncB type="table" tableValues="0.5 1 1 1 0.5 0 0 0 0"/><feFuncA type="linear" slope="1000" intercept="0"/></feComponentTransfer></filter>
<clipPath id="hmc0"><rect x="176" y="286" width="939" height="111"/></clipPath>
</defs>
<g clip-path="url(#hmc0)"><g filter="url(#hmf0)" shape-rendering="crispEdges">
<path fill="rgb(0,0,0)" d="M288.7,283.2H293.4V316.5H288.7ZM293.4,283.2H298.1V316.5H293.4ZM298.1,283.2H302.8V311H298.1ZM302.8,283.2H307.5V305.4H302.8ZM307.5,283.2H312.2V305.4H307.5ZM312.2,283.2H316.8V299.9H312.2ZM1049.3,394.2H1054V399.8H1049.3ZM1086.8,394.2H1091.5V399.8H1086.8ZM1091.5,394.2H1096.2V399.8H1091.5Z"/>
<path fill="rgb(17,17,17)" d="M284,283.2H288.7V327.6H284ZM288.7,316.5H293.4V327.6H288.7ZM293.4,316.5H298.1V322.1H293.4ZM298.1,311H302.8V316.5H298.1ZM302.8,305.4H307.5V311H302.8ZM307.5,305.4H312.2V311H307.5ZM312.2,299.9H316.8V305.4H312.2ZM316.9,283.2H321.5V294.3H316.9ZM626.7,394.2H631.4V399.8H626.7ZM631.4,394.2H636.1V399.8H631.4ZM725.3,316.5H730V322.1H725.3ZM739.4,394.2H744.1V399.8H739.4ZM814.5,394.2H819.2V399.8H814.5ZM819.2,394.2H823.9V399.8H819.2ZM852.1,394.2H856.8V399.8H852.1ZM856.8,394.2H861.5V399.8H856.8ZM861.5,394.2H866.2V399.8H861.5ZM889.6,394.2H894.3V399.8H889.6ZM894.3,394.2H899V399.8H894.3ZM899,394.2H903.7V399.8H899ZM931.9,394.2H936.6V399.8H931.9ZM936.6,394.2H941.3V399.8H936.6ZM969.5,394.2H974.2V399.8H969.5ZM974.2,394.2H978.8V399.8H974.2ZM978.8,394.2H983.5V399.8H978.8ZM983.5,394.2H988.2V399.8H983.5ZM1007,394.2H1011.7V399.8H1007ZM1011.7,394.2H1016.4V399.8H1011.7ZM1044.6,394.2H1049.3V399.8H1044.6ZM1049.3,388.7H1054V394.2H1049.3ZM1086.8,388.7H1091.5V394.2H1086.8ZM1091.5,388.7H1096.2V394.2H1091.5ZM1096.2,388.7H1100.9V399.8H1096.2Z"/>
<path fill="rgb(34,34,34)" d="M156,283.2H180.7V288.8H156ZM251.1,283.2H255.8V305.4H251.1ZM269.9,283.2H274.6V322.1H269.9ZM274.6,283.2H279.3V322.1H274.6ZM279.3,283.2H284V327.6H279.3ZM284,327.6H288.7V338.7H284ZM288.7,327.6H293.4V333.2H288.7ZM293.4,322.1H298.1V327.6H293.4ZM298.1,316.5H302.8V322.1H298.1ZM302.8,311H307.5V316.5H302.8ZM307.5,311H312.2V316.5H307.5ZM312.2,305.4H316.8V311H312.2ZM622,394.2H626.7V399.8H622ZM636.1,394.2H640.8V399.8H636.1ZM664.3,394.2H669V399.8H664.3ZM669,394.2H673.7V399.8H669ZM701.8,394.2H706.5V399.8H701.8ZM706.5,394.2H711.2V399.8H706.5ZM711.2,394.2H715.9V399.8H711.2ZM720.6,316.5H725.3V327.6H720.6ZM725.3,322.1H730V327.6H725.3ZM730,316.5H734.7V322.1H730ZM744.1,394.2H748.8V399.8H744.1ZM748.8,394.2H753.5V399.8H748.8ZM777,394.2H781.7V399.8H777ZM781.7,394.2H786.4V399.8H781.7ZM856.8,388.7H861.5V394.2H856.8ZM866.2,394.2H870.9V399.8H866.2ZM894.3,388.7H899V394.2H894.3ZM903.7,394.2H908.4V399.8H903.7ZM927.2,394.2H931.9V399.8H927.2ZM931.9,388.7H936.6V394.2H931.9ZM936.6,388.7H941.3V394.2H936.6ZM941.3,394.2H946V399.8H941.3ZM969.5,388.7H974.2V394.2H969.5ZM974.2,388.7H978.8V394.2H974.2ZM978.8,388.7H983.5V394.2H978.8ZM1007,388.7H1011.7V394.2H1007ZM1011.7,388.7H1016.4V394.2H1011.7ZM1044.6,388.7H1049.3V394.2H1044.6ZM1054,394.2H1058.7V399.8H1054ZM1058.7,394.2H1063.4V399.8H1058.7ZM1082.1,394.2H1086.8V399.8H1082.1ZM1100.9,388.7H1105.6V399.8H1100.9Z"/>
<path fill="rgb(51,51,51)" d="M156,288.8H180.7V311H156ZM180.7,283.2H185.4V311H180.7ZM185.4,283.2H190.1V311H185.4ZM190.1,283.2H194.8V299.9H190.1ZM241.7,333.2H246.4V338.7H241.7ZM246.4,283.2H251.1V333.2H246.4ZM251.1,305.4H255.8V322.1H251.1ZM255.8,283.2H260.5V311H255.8ZM260.5,283.2H265.2V311H260.5ZM265.2,283.2H269.9V305.4H265.2ZM269.9,322.1H274.6V333.2H269.9ZM274.6,322.1H279.3V333.2H274.6ZM279.3,327.6H284V338.7H279.3ZM284,338.7H288.7V344.3H284ZM288.7,333.2H293.4V338.7H288.7ZM302.8,316.5H307.5V322.1H302.8ZM312.2,311H316.8V316.5H312.2ZM316.9,294.3H321.5V299.9H316.9ZM321.5,283.2H326.2V288.8H321.5ZM570.4,394.2H575.1V399.8H570.4ZM584.5,394.2H589.2V399.8H584.5ZM673.7,394.2H678.4V399.8H673.7ZM720.6,311H725.3V316.5H720.6ZM725.3,311H730V316.5H725.3ZM725.3,327.6H730V333.2H725.3ZM730,322.1H734.7V327.6H730ZM739.4,388.7H744.1V394.2H739.4ZM744.1,388.7H748.8V394.2H744.1ZM753.5,394.2H758.2V399.8H753.5ZM758.2,394.2H762.9V399.8H758.2ZM762.9,394.2H767.6V399.8H762.9ZM786.4,394.2H791V399.8H786.4ZM814.5,316.5H819.2V322.1H814.5ZM814.5,327.6H819.2V333.2H814.5ZM819.2,388.7H823.9V394.2H819.2ZM823.9,311H828.6V322.1H823.9ZM823.9,394.2H828.6V399.8H823.9ZM828.6,311H833.3V322.1H828.6ZM833.3,394.2H838V399.8H833.3ZM838,311H842.7V322.1H838ZM838,394.2H842.7V399.8H838ZM842.7,394.2H847.4V399.8H842.7ZM847.4,394.2H852.1V399.8H847.4ZM852.1,388.7H856.8V394.2H852.1ZM861.5,388.7H866.2V394.2H861.5ZM870.9,394.2H875.6V399.8H870.9ZM899,388.7H903.7V394.2H899ZM908.4,394.2H913.1V399.8H908.4ZM913.1,394.2H917.8V399.8H913.1ZM941.3,388.7H946V394.2H941.3ZM946,394.2H950.7V399.8H946ZM950.7,394.2H955.4V399.8H950.7ZM955.4,394.2H960.1V399.8H955.4ZM960.1,394.2H964.8V399.8H960.1ZM964.8,394.2H969.5V399.8H964.8ZM983.5,388.7H988.2V394.2H983.5ZM1007,316.5H1011.7V322.1H1007ZM1016.4,394.2H1021.1V399.8H1016.4ZM1021.1,394.2H1025.8V399.8H1021.1ZM1054,388.7H1058.7V394.2H1054ZM1063.4,394.2H1068V399.8H1063.4ZM1082.1,388.7H1086.8V394.2H1082.1ZM1086.8,383.1H1091.5V388.7H1086.8ZM1091.5,383.1H1096.2V388.7H1091.5ZM1096.2,383.1H1100.9V388.7H1096.2ZM1100.9,383.1H1105.6V388.7H1100.9ZM1105.6,394.2H1110.3V399.8H1105.6Z"/>
<path fill="rgb(68,68,68)" d="M156,311H180.7V316.5H156ZM180.7,311H185.4V316.5H180.7ZM185.4,311H190.1V316.5H185.4ZM190.1,299.9H194.8V311H190.1ZM194.8,283.2H199.5V305.4H194.8ZM199.5,283.2H204.2V294.3H199.5ZM237,283.2H241.7V311H237ZM241.7,283.2H246.4V333.2H241.7ZM241.7,338.7H246.4V344.3H241.7ZM246.4,333.2H251.1V338.7H246.4ZM251.1,322.1H255.8V333.2H251.1ZM255.8,311H260.5V322.1H255.8ZM260.5,311H265.2V316.5H260.5ZM265.2,305.4H269.9V316.5H265.2ZM269.9,333.2H274.6V344.3H269.9ZM274.6,333.2H279.3V344.3H274.6ZM279.3,338.7H284V344.3H279.3ZM293.4,327.6H298.1V333.2H293.4ZM298.1,322.1H302.8V327.6H298.1ZM307.5,316.5H312.2V322.1H307.5ZM316.9,299.9H321.5V305.4H316.9ZM387.3,394.2H392V399.8H387.3ZM518.7,394.2H523.4V399.8H518.7ZM523.4,394.2H528.1V399.8H523.4ZM579.8,394.2H584.5V399.8H579.8ZM589.2,394.2H593.9V399.8H589.2ZM593.9,394.2H598.6V399.8H593.9ZM626.7,388.7H631.4V394.2H626.7ZM631.4,388.7H636.1V394.2H631.4ZM659.6,394.2H664.3V399.8H659.6ZM664.3,388.7H669V394.2H664.3ZM669,388.7H673.7V394.2H669ZM678.4,394.2H683.1V399.8H678.4ZM711.2,327.6H715.9V333.2H711.2ZM715.9,394.2H720.6V399.8H715.9ZM720.6,305.4H725.3V311H720.6ZM720.6,327.6H725.3V333.2H720.6ZM725.3,305.4H730V311H725.3ZM730,311H734.7V316.5H730ZM734.7,316.5H739.4V322.1H734.7ZM748.8,283.2H753.5V316.5H748.8ZM748.8,388.7H753.5V394.2H748.8ZM753.5,283.2H758.2V305.4H753.5ZM753.5,388.7H758.2V394.2H753.5ZM758.2,283.2H762.9V305.4H758.2ZM762.9,283.2H767.6V305.4H762.9ZM762.9,388.7H767.6V394.2H762.9ZM767.6,283.2H772.3V299.9H767.6ZM767.6,394.2H772.3V399.8H767.6ZM772.3,283.2H777V299.9H772.3ZM777,283.2H781.7V299.9H777ZM781.7,283.2H786.4V299.9H781.7ZM786.4,283.2H791V288.8H786.4ZM791,394.2H795.7V399.8H791ZM795.7,394.2H800.4V399.8H795.7ZM800.4,394.2H805.1V399.8H800.4ZM805.1,394.2H809.8V399.8H805.1ZM809.8,394.2H814.5V399.8H809.8ZM814.5,388.7H819.2V394.2H814.5ZM823.9,305.4H828.6V311H823.9ZM828.6,305.4H833.3V311H828.6ZM828.6,394.2H833.3V399.8H828.6ZM833.3,305.4H838V316.5H833.3ZM838,305.4H842.7V311H838ZM838,322.1H842.7V333.2H838ZM838,388.7H842.7V394.2H838ZM842.7,322.1H847.4V333.2H842.7ZM842.7,388.7H847.4V394.2H842.7ZM847.4,322.1H852.1V333.2H847.4ZM847.4,388.7H852.1V394.2H847.4ZM852.1,327.6H856.8V333.2H852.1ZM856.8,327.6H861.5V333.2H856.8ZM866.2,388.7H870.9V394.2H866.2ZM875.6,394.2H880.3V399.8H875.6ZM889.6,388.7H894.3V394.2H889.6ZM903.7,388.7H908.4V394.2H903.7ZM908.4,388.7H913.1V394.2H908.4ZM913.1,388.7H917.8V394.2H913.1ZM917.8,394.2H922.5V399.8H917.8ZM922.5,394.2H927.2V399.8H922.5ZM927.2,388.7H931.9V394.2H927.2ZM931.9,383.1H936.6V388.7H931.9ZM936.6,383.1H941.3V388.7H936.6ZM946,388.7H950.7V394.2H946ZM955.4,388.7H960.1V394.2H955.4ZM960.1,388.7H964.8V394.2H960.1ZM974.2,383.1H978.8V388.7H974.2ZM978.8,383.1H983.5V388.7H978.8ZM983.5,383.1H988.2V388.7H983.5ZM988.2,394.2H992.9V399.8H988.2ZM992.9,394.2H997.6V399.8H992.9ZM1002.3,394.2H1007V399.8H1002.3ZM1007,383.1H1011.7V388.7H1007ZM1011.7,383.1H1016.4V388.7H1011.7ZM1016.4,388.7H1021.1V394.2H1016.4ZM1021.1,388.7H1025.8V394.2H1021.1ZM1025.8,388.7H1030.5V399.8H1025.8ZM1030.5,394.2H1035.2V399.8H1030.5ZM1035.2,394.2H1039.9V399.8H1035.2ZM1039.9,394.2H1044.6V399.8H1039.9ZM1049.3,383.1H1054V388.7H1049.3ZM1058.7,388.7H1063.4V394.2H1058.7ZM1105.6,388.7H1110.3V394.2H1105.6ZM1110.3,394.2H1135V399.8H1110.3Z"/>
<path fill="rgb(72,72,72)" d="M476.5,394.2H481.2V399.8H476.5ZM528.1,394.2H532.8V399.8H528.1Z"/>
<path fill="rgb(76,76,76)" d="M514,394.2H518.7V399.8H514Z"/>
<path fill="rgb(81,81,81)" d="M471.8,394.2H476.5V399.8H471.8ZM532.8,394.2H537.5V399.8H532.8Z"/>
<path fill="rgb(85,85,85)" d="M156,316.5H180.7V322.1H156ZM180.7,316.5H185.4V322.1H180.7ZM185.4,316.5H190.1V322.1H185.4ZM190.1,311H194.8V316.5H190.1ZM194.8,305.4H199.5V316.5H194.8ZM194.8,394.2H199.5V399.8H194.8ZM199.5,294.3H204.2V311H199.5ZM199.5,394.2H204.2V399.8H199.5ZM204.2,283.2H208.9V294.3H204.2ZM232.3,283.2H237V311H232.3ZM237,311H241.7V327.6H237ZM255.8,322.1H260.5V333.2H255.8ZM260.5,316.5H265.2V327.6H260.5ZM265.2,316.5H269.9V327.6H265.2ZM269.9,344.3H274.6V349.8H269.9ZM274.6,344.3H279.3V349.8H274.6ZM284,344.3H288.7V349.8H284ZM284,394.2H288.7V399.8H284ZM288.7,394.2H293.4V399.8H288.7ZM293.4,394.2H298.1V399.8H293.4ZM302.8,322.1H307.5V327.6H302.8ZM312.2,316.5H316.8V322.1H312.2ZM316.9,305.4H321.5V311H316.9ZM321.5,288.8H326.2V294.3H321.5ZM373.2,394.2H377.9V399.8H373.2ZM377.9,394.2H382.6V399.8H377.9ZM382.6,394.2H387.3V399.8H382.6ZM392,394.2H396.7V399.8H392ZM481.2,394.2H485.9V399.8H481.2ZM565.7,394.2H570.4V399.8H565.7ZM570.4,388.7H575.1V394.2H570.4ZM575.1,394.2H579.8V399.8H575.1ZM579.8,388.7H584.5V394.2H579.8ZM622,388.7H626.7V394.2H622ZM636.1,388.7H640.8V394.2H636.1ZM640.8,394.2H645.5V399.8H640.8ZM645.5,394.2H650.2V399.8H645.5ZM650.2,394.2H654.9V399.8H650.2ZM654.9,394.2H659.6V399.8H654.9ZM659.6,388.7H664.3V394.2H659.6ZM673.7,388.7H678.4V394.2H673.7ZM683.1,394.2H687.8V399.8H683.1ZM687.8,394.2H692.5V399.8H687.8ZM697.1,394.2H701.8V399.8H697.1ZM706.5,388.7H711.2V394.2H706.5ZM711.2,333.2H715.9V338.7H711.2ZM711.2,388.7H715.9V394.2H711.2ZM720.6,283.2H725.3V305.4H720.6ZM720.6,394.2H725.3V399.8H720.6ZM725.3,283.2H730V305.4H725.3ZM725.3,394.2H730V399.8H725.3ZM730,283.2H734.7V311H730ZM730,327.6H734.7V333.2H730ZM730,394.2H734.7V399.8H730ZM734.7,283.2H739.4V316.5H734.7ZM734.7,322.1H739.4V327.6H734.7ZM734.7,394.2H739.4V399.8H734.7ZM739.4,283.2H744.1V311H739.4ZM744.1,283.2H748.8V311H744.1ZM748.8,316.5H753.5V322.1H748.8ZM753.5,305.4H758.2V316.5H753.5ZM758.2,305.4H762.9V316.5H758.2ZM758.2,388.7H762.9V394.2H758.2ZM762.9,305.4H767.6V316.5H762.9ZM767.6,299.9H772.3V305.4H767.6ZM767.6,388.7H772.3V394.2H767.6ZM772.3,299.9H777V305.4H772.3ZM772.3,394.2H777V399.8H772.3ZM777,299.9H781.7V305.4H777ZM777,388.7H781.7V394.2H777ZM781.7,299.9H786.4V305.4H781.7ZM786.4,288.8H791V299.9H786.4ZM791,283.2H795.7V299.9H791ZM795.7,283.2H800.4V299.9H795.7ZM800.4,283.2H805.1V294.3H800.4ZM805.1,283.2H809.8V288.8H805.1ZM809.8,283.2H814.5V288.8H809.8ZM814.5,283.2H819.2V288.8H814.5ZM814.5,322.1H819.2V327.6H814.5ZM819.2,283.2H823.9V288.8H819.2ZM823.9,283.2H828.6V305.4H823.9ZM823.9,322.1H828.6V327.6H823.9ZM823.9,388.7H828.6V394.2H823.9ZM828.6,283.2H833.3V305.4H828.6ZM828.6,322.1H833.3V327.6H828.6ZM828.6,388.7H833.3V394.2H828.6ZM833.3,283.2H838V305.4H833.3ZM833.3,316.5H838V322.1H833.3ZM833.3,388.7H838V394.2H833.3ZM838,283.2H842.7V305.4H838ZM842.7,316.5H847.4V322.1H842.7ZM852.1,322.1H856.8V327.6H852.1ZM856.8,322.1H861.5V327.6H856.8ZM870.9,388.7H875.6V394.2H870.9ZM880.2,394.2H884.9V399.8H880.2ZM884.9,394.2H889.6V399.8H884.9ZM917.8,388.7H922.5V394.2H917.8ZM922.5,388.7H927.2V394.2H922.5ZM941.3,383.1H946V388.7H941.3ZM946,383.1H950.7V388.7H946ZM950.7,388.7H955.4V394.2H950.7ZM955.4,383.1H960.1V388.7H955.4ZM964.8,388.7H969.5V394.2H964.8ZM969.5,383.1H974.2V388.7H969.5ZM988.2,383.1H992.9V394.2H988.2ZM992.9,316.5H997.6V322.1H992.9ZM992.9,383.1H997.6V394.2H992.9ZM997.6,388.7H1002.3V399.8H997.6ZM1002.3,383.1H1007V394.2H1002.3ZM1016.4,311H1021.1V316.5H1016.4ZM1016.4,383.1H1021.1V388.7H1016.4ZM1030.5,388.7H1035.2V394.2H1030.5ZM1035.2,388.7H1039.9V394.2H1035.2ZM1044.6,383.1H1049.3V388.7H1044.6ZM1063.4,388.7H1068V394.2H1063.4ZM1068.1,394.2H1072.7V399.8H1068.1ZM1072.7,394.2H1077.4V399.8H1072.7ZM1077.4,394.2H1082.1V399.8H1077.4ZM1105.6,383.1H1110.3V388.7H1105.6ZM1110.3,383.1H1135V394.2H1110.3Z"/>
<path fill="rgb(89,89,89)" d="M467.1,394.2H471.8V399.8H467.1ZM537.5,394.2H542.2V399.8H537.5Z"/>
<path fill="rgb(94,94,94)" d="M509.3,394.2H514V399.8H509.3Z"/>
<path fill="rgb(98,98,98)" d="M462.4,394.2H467.1V399.8H462.4ZM542.2,394.2H546.9V399.8H542.2Z"/>
<path fill="rgb(102,102,102)" d="M156,322.1H180.7V327.6H156ZM156,394.2H180.7V399.8H156ZM180.7,322.1H185.4V327.6H180.7ZM180.7,394.2H185.4V399.8H180.7ZM185.4,322.1H190.1V327.6H185.4ZM185.4,394.2H190.1V399.8H185.4ZM190.1,316.5H194.8V322.1H190.1ZM190.1,394.2H194.8V399.8H190.1ZM194.8,316.5H199.5V322.1H194.8ZM194.8,388.7H199.5V394.2H194.8ZM199.5,311H204.2V316.5H199.5ZM199.5,388.7H204.2V394.2H199.5ZM204.2,294.3H208.9V305.4H204.2ZM204.2,394.2H208.9V399.8H204.2ZM208.9,283.2H213.6V294.3H208.9ZM227.6,283.2H232.3V299.9H227.6ZM232.3,311H237V327.6H232.3ZM237,327.6H241.7V344.3H237ZM241.7,344.3H246.4V349.8H241.7ZM251.1,333.2H255.8V338.7H251.1ZM255.8,394.2H260.5V399.8H255.8ZM260.5,327.6H265.2V338.7H260.5ZM260.5,394.2H265.2V399.8H260.5ZM265.2,327.6H269.9V333.2H265.2ZM265.2,394.2H269.9V399.8H265.2ZM269.9,349.8H274.6V355.4H269.9ZM269.9,394.2H274.6V399.8H269.9ZM274.6,349.8H279.3V355.4H274.6ZM274.6,394.2H279.3V399.8H274.6ZM279.3,344.3H284V349.8H279.3ZM279.3,394.2H284V399.8H279.3ZM284,372H288.7V394.2H284ZM288.7,372H293.4V394.2H288.7ZM293.4,333.2H298.1V338.7H293.4ZM293.4,372H298.1V394.2H293.4ZM298.1,327.6H302.8V333.2H298.1ZM298.1,377.6H302.8V399.8H298.1ZM302.8,377.6H307.5V399.8H302.8ZM307.5,322.1H312.2V327.6H307.5ZM307.5,394.2H312.2V399.8H307.5ZM321.5,294.3H326.2V299.9H321.5ZM326.2,283.2H330.9V288.8H326.2ZM345,388.7H349.7V399.8H345ZM349.7,388.7H354.4V399.8H349.7ZM363.8,388.7H368.5V399.8H363.8ZM368.5,388.7H373.2V399.8H368.5ZM373.2,388.7H377.9V394.2H373.2ZM377.9,388.7H382.6V394.2H377.9ZM382.6,388.7H387.3V394.2H382.6ZM387.3,388.7H392V394.2H387.3ZM392,388.7H396.7V394.2H392ZM396.7,394.2H401.4V399.8H396.7ZM401.4,394.2H406.1V399.8H401.4ZM406.1,394.2H410.8V399.8H406.1ZM410.8,394.2H415.4V399.8H410.8ZM415.4,394.2H420.1V399.8H415.4ZM420.1,394.2H424.8V399.8H420.1ZM424.8,394.2H429.5V399.8H424.8ZM429.5,394.2H434.2V399.8H429.5ZM434.2,394.2H438.9V399.8H434.2ZM438.9,394.2H443.6V399.8H438.9ZM443.6,394.2H448.3V399.8H443.6ZM448.3,394.2H453V399.8H448.3ZM453,394.2H457.7V399.8H453ZM457.7,394.2H462.4V399.8H457.7ZM546.9,388.7H551.6V399.8H546.9ZM551.6,394.2H556.3V399.8H551.6ZM556.3,394.2H561V399.8H556.3ZM561,394.2H565.7V399.8H561ZM565.7,388.7H570.4V394.2H565.7ZM570.4,383.1H575.1V388.7H570.4ZM575.1,383.1H579.8V394.2H575.1ZM579.8,383.1H584.5V388.7H579.8ZM584.5,388.7H589.2V394.2H584.5ZM589.2,388.7H593.9V394.2H589.2ZM593.9,388.7H598.6V394.2H593.9ZM598.5,394.2H603.2V399.8H598.5ZM603.2,394.2H607.9V399.8H603.2ZM607.9,394.2H612.6V399.8H607.9ZM612.6,394.2H617.3V399.8H612.6ZM617.3,394.2H622V399.8H617.3ZM640.8,388.7H645.5V394.2H640.8ZM645.5,388.7H650.2V394.2H645.5ZM650.2,283.2H654.9V294.3H650.2ZM650.2,388.7H654.9V394.2H650.2ZM654.9,283.2H659.6V299.9H654.9ZM654.9,388.7H659.6V394.2H654.9ZM659.6,283.2H664.3V299.9H659.6ZM664.3,283.2H669V299.9H664.3ZM664.3,383.1H669V388.7H664.3ZM669,283.2H673.7V299.9H669ZM673.7,283.2H678.4V299.9H673.7ZM678.4,283.2H683.1V299.9H678.4ZM678.4,388.7H683.1V394.2H678.4ZM683.1,283.2H687.8V299.9H683.1ZM687.8,283.2H692.5V299.9H687.8ZM692.5,283.2H697.1V294.3H692.5ZM692.5,394.2H697.1V399.8H692.5ZM697.1,283.2H701.8V294.3H697.1ZM701.8,283.2H706.5V299.9H701.8ZM701.8,388.7H706.5V394.2H701.8ZM706.5,283.2H711.2V299.9H706.5ZM711.2,283.2H715.9V294.3H711.2ZM715.9,283.2H720.6V294.3H715.9ZM715.9,327.6H720.6V333.2H715.9ZM715.9,388.7H720.6V394.2H715.9ZM720.6,333.2H725.3V338.7H720.6ZM720.6,388.7H725.3V394.2H720.6ZM725.3,333.2H730V338.7H725.3ZM725.3,388.7H730V394.2H725.3ZM730,388.7H734.7V394.2H730ZM734.7,327.6H739.4V333.2H734.7ZM734.7,388.7H739.4V394.2H734.7ZM739.4,311H744.1V316.5H739.4ZM739.4,383.1H744.1V388.7H739.4ZM744.1,311H748.8V316.5H744.1ZM744.1,383.1H748.8V388.7H744.1ZM748.8,322.1H753.5V327.6H748.8ZM748.8,383.1H753.5V388.7H748.8ZM753.5,316.5H758.2V322.1H753.5ZM753.5,383.1H758.2V388.7H753.5ZM758.2,316.5H762.9V322.1H758.2ZM758.2,383.1H762.9V388.7H758.2ZM762.9,316.5H767.6V327.6H762.9ZM762.9,383.1H767.6V388.7H762.9ZM767.6,305.4H772.3V311H767.6ZM772.3,305.4H777V311H772.3ZM772.3,388.7H777V394.2H772.3ZM777,305.4H781.7V311H777ZM781.7,305.4H786.4V311H781.7ZM781.7,388.7H786.4V394.2H781.7ZM786.4,299.9H791V305.4H786.4ZM786.4,388.7H791V394.2H786.4ZM791,299.9H795.7V305.4H791ZM791,388.7H795.7V394.2H791ZM795.7,299.9H800.4V305.4H795.7ZM795.7,388.7H800.4V394.2H795.7ZM800.4,294.3H805.1V299.9H800.4ZM800.4,388.7H805.1V394.2H800.4ZM805.1,288.8H809.8V299.9H805.1ZM805.1,388.7H809.8V394.2H805.1ZM809.8,288.8H814.5V299.9H809.8ZM809.8,388.7H814.5V394.2H809.8ZM814.5,288.8H819.2V299.9H814.5ZM814.5,333.2H819.2V338.7H814.5ZM819.2,288.8H823.9V305.4H819.2ZM819.2,316.5H823.9V322.1H819.2ZM819.2,327.6H823.9V333.2H819.2ZM823.9,327.6H828.6V333.2H823.9ZM823.9,383.1H828.6V388.7H823.9ZM828.6,383.1H833.3V388.7H828.6ZM833.3,383.1H838V388.7H833.3ZM838,333.2H842.7V338.7H838ZM838,383.1H842.7V388.7H838ZM842.7,283.2H847.4V305.4H842.7ZM842.7,333.2H847.4V338.7H842.7ZM842.7,383.1H847.4V388.7H842.7ZM847.4,283.2H852.1V299.9H847.4ZM847.4,333.2H852.1V338.7H847.4ZM847.4,383.1H852.1V388.7H847.4ZM852.1,283.2H856.8V299.9H852.1ZM852.1,383.1H856.8V388.7H852.1ZM856.8,283.2H861.5V299.9H856.8ZM856.8,383.1H861.5V388.7H856.8ZM861.5,283.2H866.2V299.9H861.5ZM866.2,283.2H870.9V299.9H866.2ZM870.9,283.2H875.6V299.9H870.9ZM875.6,283.2H880.3V299.9H875.6ZM875.6,388.7H880.3V394.2H875.6ZM880.2,283.2H884.9V288.8H880.2ZM880.2,388.7H884.9V394.2H880.2ZM884.9,283.2H889.6V288.8H884.9ZM884.9,388.7H889.6V394.2H884.9ZM908.4,383.1H913.1V388.7H908.4ZM913.1,383.1H917.8V388.7H913.1ZM927.2,383.1H931.9V388.7H927.2ZM950.7,383.1H955.4V388.7H950.7ZM960.1,383.1H964.8V388.7H960.1ZM964.8,383.1H969.5V388.7H964.8ZM997.6,316.5H1002.3V322.1H997.6ZM997.6,383.1H1002.3V388.7H997.6ZM1002.3,316.5H1007V322.1H1002.3ZM1007,377.6H1011.7V383.1H1007ZM1011.7,316.5H1016.4V322.1H1011.7ZM1011.7,377.6H1016.4V383.1H1011.7ZM1016.4,377.6H1021.1V383.1H1016.4ZM1021.1,305.4H1025.8V322.1H1021.1ZM1021.1,383.1H1025.8V388.7H1021.1ZM1025.8,305.4H1030.5V322.1H1025.8ZM1025.8,383.1H1030.5V388.7H1025.8ZM1030.5,383.1H1035.2V388.7H1030.5ZM1035.2,383.1H1039.9V388.7H1035.2ZM1039.9,383.1H1044.6V394.2H1039.9ZM1044.6,377.6H1049.3V383.1H1044.6ZM1049.3,377.6H1054V383.1H1049.3ZM1054,383.1H1058.7V388.7H1054ZM1058.7,383.1H1063.4V388.7H1058.7ZM1063.4,383.1H1068V388.7H1063.4ZM1068.1,388.7H1072.7V394.2H1068.1ZM1072.7,388.7H1077.4V394.2H1072.7ZM1077.4,388.7H1082.1V394.2H1077.4ZM1082.1,383.1H1086.8V388.7H1082.1ZM1086.8,322.1H1091.5V338.7H1086.8ZM1086.8,377.6H1091.5V383.1H1086.8ZM1091.5,377.6H1096.2V383.1H1091.5ZM1096.2,316.5H1100.9V338.7H1096.2ZM1096.2,377.6H1100.9V383.1H1096.2ZM1100.9,377.6H1105.6V383.1H1100.9ZM1105.6,377.6H1110.3V383.1H1105.6ZM1110.3,377.6H1135V383.1H1110.3Z"/>
<path fill="rgb(110,110,110)" d="M504.7,394.2H509.3V399.8H504.7ZM542.2,388.7H546.9V394.2H542.2Z"/>
<path fill="rgb(119,119,119)" d="M156,383.1H180.7V394.2H156ZM180.7,327.6H185.4V333.2H180.7ZM180.7,383.1H185.4V394.2H180.7ZM185.4,383.1H190.1V394.2H185.4ZM190.1,322.1H194.8V327.6H190.1ZM190.1,383.1H194.8V394.2H190.1ZM194.8,322.1H199.5V327.6H194.8ZM194.8,383.1H199.5V388.7H194.8ZM199.5,316.5H204.2V322.1H199.5ZM199.5,383.1H204.2V388.7H199.5ZM204.2,305.4H208.9V322.1H204.2ZM204.2,388.7H208.9V394.2H204.2ZM208.9,294.3H213.6V311H208.9ZM208.9,394.2H213.6V399.8H208.9ZM213.6,283.2H218.3V305.4H213.6ZM218.3,283.2H222.9V299.9H218.3ZM222.9,283.2H227.6V299.9H222.9ZM222.9,394.2H227.6V399.8H222.9ZM227.6,299.9H232.3V311H227.6ZM227.6,394.2H232.3V399.8H227.6ZM232.3,327.6H237V338.7H232.3ZM232.3,394.2H237V399.8H232.3ZM237,344.3H241.7V355.4H237ZM237,394.2H241.7V399.8H237ZM251.1,394.2H255.8V399.8H251.1ZM255.8,333.2H260.5V338.7H255.8ZM255.8,383.1H260.5V394.2H255.8ZM260.5,338.7H265.2V344.3H260.5ZM260.5,372H265.2V394.2H260.5ZM265.2,333.2H269.9V344.3H265.2ZM265.2,377.6H269.9V394.2H265.2ZM269.9,355.4H274.6V394.2H269.9ZM274.6,355.4H279.3V394.2H274.6ZM284,349.8H288.7V355.4H284ZM284,366.5H288.7V372H284ZM288.7,338.7H293.4V344.3H288.7ZM288.7,366.5H293.4V372H288.7ZM293.4,366.5H298.1V372H293.4ZM298.1,349.8H302.8V355.4H298.1ZM298.1,366.5H302.8V377.6H298.1ZM302.8,327.6H307.5V333.2H302.8ZM302.8,366.5H307.5V377.6H302.8ZM307.5,372H312.2V383.1H307.5ZM307.5,388.7H312.2V394.2H307.5ZM312.2,394.2H316.8V399.8H312.2ZM316.9,394.2H321.5V399.8H316.9ZM321.5,299.9H326.2V305.4H321.5ZM321.5,394.2H326.2V399.8H321.5ZM326.2,288.8H330.9V299.9H326.2ZM326.2,394.2H330.9V399.8H326.2ZM330.9,283.2H335.6V294.3H330.9ZM330.9,394.2H335.6V399.8H330.9ZM335.6,394.2H340.3V399.8H335.6ZM340.3,394.2H345V399.8H340.3ZM345,383.1H349.7V388.7H345ZM349.7,383.1H354.4V388.7H349.7ZM354.4,394.2H359.1V399.8H354.4ZM359.1,394.2H363.8V399.8H359.1ZM363.8,377.6H368.5V388.7H363.8ZM368.5,377.6H373.2V388.7H368.5ZM373.2,377.6H377.9V388.7H373.2ZM377.9,377.6H382.6V388.7H377.9ZM382.6,377.6H387.3V388.7H382.6ZM387.3,377.6H392V388.7H387.3ZM392,383.1H396.7V388.7H392ZM401.4,388.7H406.1V394.2H401.4ZM406.1,388.7H410.8V394.2H406.1ZM410.8,388.7H415.4V394.2H410.8ZM415.4,388.7H420.1V394.2H415.4ZM420.1,388.7H424.8V394.2H420.1ZM424.8,388.7H429.5V394.2H424.8ZM429.5,388.7H434.2V394.2H429.5ZM462.4,388.7H467.1V394.2H462.4ZM467.1,388.7H471.8V394.2H467.1ZM471.8,388.7H476.5V394.2H471.8ZM476.5,388.7H481.2V394.2H476.5ZM485.9,394.2H490.6V399.8H485.9ZM546.9,383.1H551.6V388.7H546.9ZM551.6,388.7H556.3V394.2H551.6ZM556.3,388.7H561V394.2H556.3ZM561,388.7H565.7V394.2H561ZM565.7,383.1H570.4V388.7H565.7ZM570.4,377.6H575.1V383.1H570.4ZM575.1,377.6H579.8V383.1H575.1ZM579.8,377.6H584.5V383.1H579.8ZM584.5,383.1H589.2V388.7H584.5ZM589.2,383.1H593.9V388.7H589.2ZM593.9,383.1H598.6V388.7H593.9ZM598.5,383.1H603.2V394.2H598.5ZM603.2,383.1H607.9V394.2H603.2ZM607.9,388.7H612.6V394.2H607.9ZM612.6,388.7H617.3V394.2H612.6ZM617.3,383.1H622V394.2H617.3ZM622,383.1H626.7V388.7H622ZM626.7,383.1H631.4V388.7H626.7ZM631.4,383.1H636.1V388.7H631.4ZM636.1,383.1H640.8V388.7H636.1ZM640.8,383.1H645.5V388.7H640.8ZM645.5,283.2H650.2V299.9H645.5ZM645.5,383.1H650.2V388.7H645.5ZM650.2,294.3H654.9V299.9H650.2ZM650.2,383.1H654.9V388.7H650.2ZM654.9,299.9H659.6V305.4H654.9ZM654.9,383.1H659.6V388.7H654.9ZM659.6,299.9H664.3V305.4H659.6ZM659.6,383.1H664.3V388.7H659.6ZM664.3,299.9H669V305.4H664.3ZM669,299.9H673.7V305.4H669ZM669,383.1H673.7V388.7H669ZM673.7,299.9H678.4V305.4H673.7ZM673.7,383.1H678.4V388.7H673.7ZM678.4,299.9H683.1V305.4H678.4ZM678.4,383.1H683.1V388.7H678.4ZM683.1,299.9H687.8V305.4H683.1ZM683.1,388.7H687.8V394.2H683.1ZM687.8,299.9H692.5V305.4H687.8ZM687.8,388.7H692.5V394.2H687.8ZM692.5,294.3H697.1V305.4H692.5ZM692.5,388.7H697.1V394.2H692.5ZM697.1,294.3H701.8V305.4H697.1ZM697.1,388.7H701.8V394.2H697.1ZM701.8,299.9H706.5V305.4H701.8ZM706.5,299.9H711.2V305.4H706.5ZM706.5,383.1H711.2V388.7H706.5ZM711.2,294.3H715.9V305.4H711.2ZM711.2,383.1H715.9V388.7H711.2ZM715.9,294.3H720.6V305.4H715.9ZM715.9,333.2H720.6V338.7H715.9ZM715.9,383.1H720.6V388.7H715.9ZM720.6,383.1H725.3V388.7H720.6ZM725.3,383.1H730V388.7H725.3ZM730,333.2H734.7V338.7H730ZM730,383.1H734.7V388.7H730ZM734.7,383.1H739.4V388.7H734.7ZM739.4,377.6H744.1V383.1H739.4ZM744.1,377.6H748.8V383.1H744.1ZM748.8,377.6H753.5V383.1H748.8ZM753.5,377.6H758.2V383.1H753.5ZM758.2,377.6H762.9V383.1H758.2ZM762.9,327.6H767.6V338.7H762.9ZM762.9,377.6H767.6V383.1H762.9ZM767.6,311H772.3V316.5H767.6ZM767.6,383.1H772.3V388.7H767.6ZM772.3,311H777V316.5H772.3ZM772.3,383.1H777V388.7H772.3ZM777,311H781.7V316.5H777ZM777,383.1H781.7V388.7H777ZM781.7,311H786.4V316.5H781.7ZM781.7,383.1H786.4V388.7H781.7ZM786.4,305.4H791V311H786.4ZM786.4,383.1H791V388.7H786.4ZM791,305.4H795.7V311H791ZM791,383.1H795.7V388.7H791ZM795.7,305.4H800.4V311H795.7ZM795.7,383.1H800.4V388.7H795.7ZM800.4,299.9H805.1V305.4H800.4ZM800.4,333.2H805.1V344.3H800.4ZM800.4,383.1H805.1V388.7H800.4ZM805.1,299.9H809.8V305.4H805.1ZM805.1,333.2H809.8V344.3H805.1ZM805.1,383.1H809.8V388.7H805.1ZM809.8,299.9H814.5V305.4H809.8ZM809.8,327.6H814.5V344.3H809.8ZM809.8,383.1H814.5V388.7H809.8ZM814.5,299.9H819.2V311H814.5ZM814.5,338.7H819.2V344.3H814.5ZM814.5,383.1H819.2V388.7H814.5ZM819.2,305.4H823.9V316.5H819.2ZM819.2,333.2H823.9V338.7H819.2ZM819.2,377.6H823.9V388.7H819.2ZM823.9,333.2H828.6V338.7H823.9ZM823.9,377.6H828.6V383.1H823.9ZM828.6,333.2H833.3V338.7H828.6ZM828.6,377.6H833.3V383.1H828.6ZM833.3,377.6H838V383.1H833.3ZM838,377.6H842.7V383.1H838ZM842.7,305.4H847.4V311H842.7ZM842.7,377.6H847.4V383.1H842.7ZM847.4,299.9H852.1V305.4H847.4ZM847.4,377.6H852.1V383.1H847.4ZM852.1,299.9H856.8V305.4H852.1ZM852.1,333.2H856.8V338.7H852.1ZM852.1,377.6H856.8V383.1H852.1ZM856.8,299.9H861.5V305.4H856.8ZM856.8,377.6H861.5V383.1H856.8ZM861.5,299.9H866.2V305.4H861.5ZM861.5,383.1H866.2V388.7H861.5ZM866.2,299.9H870.9V305.4H866.2ZM866.2,383.1H870.9V388.7H866.2ZM870.9,299.9H875.6V305.4H870.9ZM870.9,383.1H875.6V388.7H870.9ZM875.6,299.9H880.3V305.4H875.6ZM875.6,383.1H880.3V388.7H875.6ZM880.2,288.8H884.9V305.4H880.2ZM880.2,383.1H884.9V388.7H880.2ZM884.9,288.8H889.6V305.4H884.9ZM884.9,383.1H889.6V388.7H884.9ZM889.6,283.2H894.3V299.9H889.6ZM889.6,383.1H894.3V388.7H889.6ZM894.3,283.2H899V299.9H894.3ZM894.3,383.1H899V388.7H894.3ZM899,283.2H903.7V299.9H899ZM899,383.1H903.7V388.7H899ZM903.7,283.2H908.4V299.9H903.7ZM903.7,316.5H908.4V322.1H903.7ZM903.7,383.1H908.4V388.7H903.7ZM908.4,283.2H913.1V299.9H908.4ZM913.1,283.2H917.8V294.3H913.1ZM917.8,383.1H922.5V388.7H917.8ZM922.5,383.1H927.2V388.7H922.5ZM927.2,377.6H931.9V383.1H927.2ZM931.9,377.6H936.6V383.1H931.9ZM936.6,377.6H941.3V383.1H936.6ZM941.3,377.6H946V383.1H941.3ZM946,377.6H950.7V383.1H946ZM950.7,377.6H955.4V383.1H950.7ZM969.5,377.6H974.2V383.1H969.5ZM974.2,377.6H978.8V383.1H974.2ZM978.8,377.6H983.5V383.1H978.8ZM983.5,377.6H988.2V383.1H983.5ZM988.2,377.6H992.9V383.1H988.2ZM992.9,311H997.6V316.5H992.9ZM992.9,333.2H997.6V344.3H992.9ZM992.9,377.6H997.6V383.1H992.9ZM997.6,283.2H1002.3V316.5H997.6ZM997.6,333.2H1002.3V349.8H997.6ZM997.6,377.6H1002.3V383.1H997.6ZM1002.3,283.2H1007V316.5H1002.3ZM1002.3,333.2H1007V349.8H1002.3ZM1002.3,377.6H1007V383.1H1002.3ZM1007,283.2H1011.7V316.5H1007ZM1007,322.1H1011.7V349.8H1007ZM1007,372H1011.7V377.6H1007ZM1011.7,283.2H1016.4V316.5H1011.7ZM1016.4,283.2H1021.1V311H1016.4ZM1021.1,283.2H1025.8V305.4H1021.1ZM1021.1,327.6H1025.8V344.3H1021.1ZM1021.1,377.6H1025.8V383.1H1021.1ZM1025.8,283.2H1030.5V305.4H1025.8ZM1025.8,338.7H1030.5V344.3H1025.8ZM1025.8,377.6H1030.5V383.1H1025.8ZM1030.5,283.2H1035.2V305.4H1030.5ZM1030.5,316.5H1035.2V322.1H1030.5ZM1030.5,377.6H1035.2V383.1H1030.5ZM1035.2,283.2H1039.9V305.4H1035.2ZM1035.2,377.6H1039.9V383.1H1035.2ZM1039.9,283.2H1044.6V305.4H1039.9ZM1039.9,377.6H1044.6V383.1H1039.9ZM1044.6,283.2H1049.3V305.4H1044.6ZM1044.6,372H1049.3V377.6H1044.6ZM1049.3,283.2H1054V305.4H1049.3ZM1049.3,333.2H1054V338.7H1049.3ZM1049.3,372H1054V377.6H1049.3ZM1054,283.2H1058.7V305.4H1054ZM1054,377.6H1058.7V383.1H1054ZM1058.7,283.2H1063.4V305.4H1058.7ZM1063.4,283.2H1068V305.4H1063.4ZM1068.1,283.2H1072.7V305.4H1068.1ZM1068.1,383.1H1072.7V388.7H1068.1ZM1072.7,283.2H1077.4V305.4H1072.7ZM1072.7,383.1H1077.4V388.7H1072.7ZM1077.4,283.2H1082.1V305.4H1077.4ZM1077.4,383.1H1082.1V388.7H1077.4ZM1082.1,283.2H1086.8V305.4H1082.1ZM1086.8,283.2H1091.5V305.4H1086.8ZM1091.5,283.2H1096.2V305.4H1091.5ZM1096.2,283.2H1100.9V299.9H1096.2ZM1096.2,311H1100.9V316.5H1096.2ZM1096.2,338.7H1100.9V349.8H1096.2ZM1096.2,372H1100.9V377.6H1096.2ZM1100.9,322.1H1105.6V349.8H1100.9ZM1100.9,372H1105.6V377.6H1100.9ZM1105.6,372H1110.3V377.6H1105.6ZM1110.3,322.1H1135V327.6H1110.3ZM1110.3,372H1135V377.6H1110.3Z"/>
<path fill="rgb(123,123,123)" d="M434.2,388.7H438.9V394.2H434.2ZM457.7,388.7H462.4V394.2H457.7ZM542.2,383.1H546.9V388.7H542.2Z"/>
<path fill="rgb(128,128,128)" d="M481.2,388.7H485.9V394.2H481.2ZM500,394.2H504.7V399.8H500ZM537.5,388.7H542.2V394.2H537.5Z"/>
<path fill="rgb(130,130,130)" d="M645.5,299.9H650.2V311H645.5ZM645.5,377.6H650.2V383.1H645.5ZM650.2,299.9H654.9V311H650.2ZM650.2,377.6H654.9V383.1H650.2ZM654.9,305.4H659.6V311H654.9ZM654.9,377.6H659.6V383.1H654.9ZM659.6,305.4H664.3V311H659.6ZM659.6,372H664.3V383.1H659.6ZM664.3,305.4H669V311H664.3ZM664.3,377.6H669V383.1H664.3ZM669,305.4H673.7V311H669ZM669,377.6H673.7V383.1H669ZM673.7,305.4H678.4V311H673.7ZM678.4,305.4H683.1V311H678.4ZM683.1,305.4H687.8V311H683.1ZM683.1,383.1H687.8V388.7H683.1ZM687.8,305.4H692.5V311H687.8ZM687.8,383.1H692.5V388.7H687.8ZM692.5,305.4H697.1V311H692.5ZM692.5,383.1H697.1V388.7H692.5ZM697.1,305.4H701.8V311H697.1ZM697.1,383.1H701.8V388.7H697.1ZM701.8,305.4H706.5V311H701.8ZM701.8,383.1H706.5V388.7H701.8ZM706.5,305.4H711.2V311H706.5ZM711.2,305.4H715.9V311H711.2ZM715.9,305.4H720.6V316.5H715.9ZM715.9,322.1H720.6V327.6H715.9ZM715.9,377.6H720.6V383.1H715.9ZM720.6,377.6H725.3V383.1H720.6ZM725.3,338.7H730V344.3H725.3ZM725.3,377.6H730V383.1H725.3ZM730,338.7H734.7V344.3H730ZM730,377.6H734.7V383.1H730ZM734.7,333.2H739.4V344.3H734.7ZM734.7,377.6H739.4V383.1H734.7ZM739.4,316.5H744.1V322.1H739.4ZM739.4,372H744.1V377.6H739.4ZM744.1,316.5H748.8V322.1H744.1ZM744.1,372H748.8V377.6H744.1ZM748.8,327.6H753.5V349.8H748.8ZM748.8,372H753.5V377.6H748.8ZM753.5,338.7H758.2V349.8H753.5ZM753.5,372H758.2V377.6H753.5ZM758.2,372H762.9V377.6H758.2ZM762.9,338.7H767.6V344.3H762.9ZM762.9,372H767.6V377.6H762.9ZM767.6,316.5H772.3V322.1H767.6ZM767.6,377.6H772.3V383.1H767.6ZM772.3,316.5H777V322.1H772.3ZM772.3,377.6H777V383.1H772.3ZM777,316.5H781.7V322.1H777ZM777,377.6H781.7V383.1H777ZM781.7,316.5H786.4V322.1H781.7ZM781.7,377.6H786.4V383.1H781.7ZM786.4,311H791V316.5H786.4ZM786.4,377.6H791V383.1H786.4ZM791,311H795.7V316.5H791ZM791,377.6H795.7V383.1H791ZM795.7,311H800.4V316.5H795.7ZM795.7,377.6H800.4V383.1H795.7ZM800.4,305.4H805.1V311H800.4ZM800.4,344.3H805.1V355.4H800.4ZM800.4,377.6H805.1V383.1H800.4ZM805.1,305.4H809.8V311H805.1ZM805.1,344.3H809.8V355.4H805.1ZM805.1,377.6H809.8V383.1H805.1ZM809.8,305.4H814.5V311H809.8ZM809.8,316.5H814.5V322.1H809.8ZM809.8,344.3H814.5V355.4H809.8ZM809.8,372H814.5V383.1H809.8ZM814.5,311H819.2V316.5H814.5ZM814.5,344.3H819.2V355.4H814.5ZM814.5,372H819.2V383.1H814.5ZM819.2,372H823.9V377.6H819.2ZM823.9,338.7H828.6V349.8H823.9ZM823.9,372H828.6V377.6H823.9ZM828.6,338.7H833.3V344.3H828.6ZM828.6,372H833.3V377.6H828.6ZM833.3,333.2H838V349.8H833.3ZM833.3,372H838V377.6H833.3ZM838,338.7H842.7V344.3H838ZM838,372H842.7V377.6H838ZM842.7,311H847.4V316.5H842.7ZM842.7,338.7H847.4V344.3H842.7ZM842.7,372H847.4V377.6H842.7ZM847.4,305.4H852.1V311H847.4ZM847.4,338.7H852.1V344.3H847.4ZM847.4,372H852.1V377.6H847.4ZM852.1,305.4H856.8V311H852.1ZM852.1,338.7H856.8V355.4H852.1ZM852.1,372H856.8V377.6H852.1ZM856.8,305.4H861.5V311H856.8ZM856.8,333.2H861.5V338.7H856.8ZM856.8,372H861.5V377.6H856.8ZM861.5,305.4H866.2V311H861.5ZM861.5,377.6H866.2V383.1H861.5ZM866.2,305.4H870.9V311H866.2ZM866.2,377.6H870.9V383.1H866.2ZM870.9,305.4H875.6V311H870.9ZM870.9,377.6H875.6V383.1H870.9ZM875.6,305.4H880.3V311H875.6ZM875.6,377.6H880.3V383.1H875.6ZM880.2,305.4H884.9V311H880.2ZM880.2,377.6H884.9V383.1H880.2ZM884.9,305.4H889.6V311H884.9ZM884.9,377.6H889.6V383.1H884.9ZM889.6,299.9H894.3V311H889.6ZM889.6,377.6H894.3V383.1H889.6ZM894.3,299.9H899V311H894.3ZM894.3,377.6H899V383.1H894.3ZM899,299.9H903.7V305.4H899ZM899,377.6H903.7V383.1H899ZM903.7,299.9H908.4V305.4H903.7ZM903.7,322.1H908.4V349.8H903.7ZM903.7,377.6H908.4V383.1H903.7ZM908.4,299.9H913.1V305.4H908.4ZM908.4,316.5H913.1V322.1H908.4ZM908.4,327.6H913.1V349.8H908.4ZM908.4,372H913.1V383.1H908.4ZM913.1,294.3H917.8V305.4H913.1ZM913.1,327.6H917.8V349.8H913.1ZM913.1,372H917.8V383.1H913.1ZM917.8,283.2H922.5V305.4H917.8ZM917.8,311H922.5V316.5H917.8ZM917.8,372H922.5V383.1H917.8ZM922.5,283.2H927.2V299.9H922.5ZM922.5,372H927.2V383.1H922.5ZM927.2,283.2H931.9V299.9H927.2ZM927.2,372H931.9V377.6H927.2ZM931.9,327.6H936.6V338.7H931.9ZM931.9,372H936.6V377.6H931.9ZM936.6,372H941.3V377.6H936.6ZM941.3,338.7H946V349.8H941.3ZM941.3,372H946V377.6H941.3ZM946,322.1H950.7V344.3H946ZM946,372H950.7V377.6H946ZM950.7,372H955.4V377.6H950.7ZM955.4,283.2H960.1V288.8H955.4ZM955.4,377.6H960.1V383.1H955.4ZM960.1,283.2H964.8V299.9H960.1ZM960.1,377.6H964.8V383.1H960.1ZM964.8,283.2H969.5V299.9H964.8ZM964.8,377.6H969.5V383.1H964.8ZM969.5,283.2H974.2V299.9H969.5ZM974.2,283.2H978.8V311H974.2ZM974.2,372H978.8V377.6H974.2ZM978.8,283.2H983.5V311H978.8ZM978.8,372H983.5V377.6H978.8ZM983.5,283.2H988.2V311H983.5ZM983.5,372H988.2V377.6H983.5ZM988.2,283.2H992.9V311H988.2ZM988.2,372H992.9V377.6H988.2ZM992.9,283.2H997.6V311H992.9ZM992.9,322.1H997.6V327.6H992.9ZM992.9,344.3H997.6V349.8H992.9ZM992.9,372H997.6V377.6H992.9ZM997.6,349.8H1002.3V355.4H997.6ZM997.6,372H1002.3V377.6H997.6ZM1002.3,327.6H1007V333.2H1002.3ZM1002.3,349.8H1007V355.4H1002.3ZM1002.3,372H1007V377.6H1002.3ZM1007,349.8H1011.7V355.4H1007ZM1007,366.5H1011.7V372H1007ZM1011.7,372H1016.4V377.6H1011.7ZM1016.4,316.5H1021.1V322.1H1016.4ZM1016.4,372H1021.1V377.6H1016.4ZM1021.1,344.3H1025.8V355.4H1021.1ZM1021.1,372H1025.8V377.6H1021.1ZM1025.8,327.6H1030.5V338.7H1025.8ZM1025.8,344.3H1030.5V355.4H1025.8ZM1025.8,372H1030.5V377.6H1025.8ZM1030.5,305.4H1035.2V316.5H1030.5ZM1030.5,372H1035.2V377.6H1030.5ZM1035.2,305.4H1039.9V311H1035.2ZM1035.2,372H1039.9V377.6H1035.2ZM1039.9,305.4H1044.6V311H1039.9ZM1039.9,372H1044.6V377.6H1039.9ZM1044.6,305.4H1049.3V311H1044.6ZM1044.6,333.2H1049.3V355.4H1044.6ZM1044.6,366.5H1049.3V372H1044.6ZM1049.3,305.4H1054V311H1049.3ZM1049.3,338.7H1054V344.3H1049.3ZM1049.3,366.5H1054V372H1049.3ZM1054,305.4H1058.7V311H1054ZM1054,372H1058.7V377.6H1054ZM1058.7,305.4H1063.4V311H1058.7ZM1058.7,377.6H1063.4V383.1H1058.7ZM1063.4,305.4H1068V311H1063.4ZM1063.4,377.6H1068V383.1H1063.4ZM1068.1,305.4H1072.7V311H1068.1ZM1068.1,377.6H1072.7V383.1H1068.1ZM1072.7,305.4H1077.4V311H1072.7ZM1072.7,377.6H1077.4V383.1H1072.7ZM1077.4,305.4H1082.1V311H1077.4ZM1077.4,372H1082.1V383.1H1077.4ZM1082.1,305.4H1086.8V311H1082.1ZM1082.1,322.1H1086.8V349.8H1082.1ZM1082.1,372H1086.8V383.1H1082.1ZM1086.8,305.4H1091.5V311H1086.8ZM1086.8,338.7H1091.5V344.3H1086.8ZM1086.8,372H1091.5V377.6H1086.8ZM1091.5,305.4H1096.2V311H1091.5ZM1091.5,372H1096.2V377.6H1091.5ZM1096.2,299.9H1100.9V311H1096.2ZM1096.2,349.8H1100.9V360.9H1096.2ZM1096.2,366.5H1100.9V372H1096.2ZM1100.9,283.2H1105.6V305.4H1100.9ZM1100.9,349.8H1105.6V355.4H1100.9ZM1100.9,366.5H1105.6V372H1100.9ZM1105.6,283.2H1110.3V305.4H1105.6ZM1105.6,333.2H1110.3V355.4H1105.6ZM1105.6,366.5H1110.3V372H1105.6ZM1110.3,283.2H1135V305.4H1110.3ZM1110.3,316.5H1135V322.1H1110.3ZM1110.3,327.6H1135V338.7H1110.3ZM1110.3,344.3H1135V355.4H1110.3ZM1110.3,366.5H1135V372H1110.3Z"/>
<path fill="rgb(132,132,132)" d="M438.9,388.7H443.6V394.2H438.9ZM453,388.7H457.7V394.2H453ZM537.5,383.1H542.2V388.7H537.5Z"/>
<path fill="rgb(136,136,136)" d="M156,327.6H180.7V333.2H156ZM156,372H180.7V383.1H156ZM180.7,333.2H185.4V338.7H180.7ZM180.7,344.3H185.4V349.8H180.7ZM180.7,372H185.4V383.1H180.7ZM185.4,327.6H190.1V333.2H185.4ZM185.4,372H190.1V383.1H185.4ZM190.1,372H194.8V383.1H190.1ZM194.8,327.6H199.5V355.4H194.8ZM194.8,372H199.5V383.1H194.8ZM199.5,322.1H204.2V327.6H199.5ZM199.5,344.3H204.2V349.8H199.5ZM199.5,372H204.2V383.1H199.5ZM204.2,322.1H208.9V327.6H204.2ZM204.2,383.1H208.9V388.7H204.2ZM208.9,311H213.6V322.1H208.9ZM208.9,388.7H213.6V394.2H208.9ZM213.6,305.4H218.3V322.1H213.6ZM213.6,394.2H218.3V399.8H213.6ZM218.3,299.9H222.9V316.5H218.3ZM218.3,394.2H222.9V399.8H218.3ZM222.9,299.9H227.6V316.5H222.9ZM227.6,311H232.3V327.6H227.6ZM227.6,388.7H232.3V394.2H227.6ZM232.3,338.7H237V349.8H232.3ZM232.3,388.7H237V394.2H232.3ZM237,355.4H241.7V366.5H237ZM237,388.7H241.7V394.2H237ZM241.7,394.2H246.4V399.8H241.7ZM246.4,338.7H251.1V344.3H246.4ZM246.4,394.2H251.1V399.8H246.4ZM255.8,344.3H260.5V349.8H255.8ZM255.8,366.5H260.5V383.1H255.8ZM260.5,344.3H265.2V349.8H260.5ZM260.5,366.5H265.2V372H260.5ZM265.2,366.5H269.9V377.6H265.2ZM279.3,349.8H284V366.5H279.3ZM298.1,333.2H302.8V349.8H298.1ZM298.1,355.4H302.8V366.5H298.1ZM307.5,366.5H312.2V372H307.5ZM307.5,383.1H312.2V388.7H307.5ZM312.2,322.1H316.8V327.6H312.2ZM312.2,366.5H316.8V394.2H312.2ZM316.9,311H321.5V316.5H316.9ZM316.9,372H321.5V377.6H316.9ZM316.9,388.7H321.5V394.2H316.9ZM321.5,305.4H326.2V311H321.5ZM321.5,372H326.2V377.6H321.5ZM321.5,388.7H326.2V394.2H321.5ZM326.2,299.9H330.9V305.4H326.2ZM326.2,372H330.9V377.6H326.2ZM326.2,388.7H330.9V394.2H326.2ZM330.9,294.3H335.6V305.4H330.9ZM330.9,372H335.6V377.6H330.9ZM335.6,283.2H340.3V305.4H335.6ZM335.6,372H340.3V377.6H335.6ZM335.6,388.7H340.3V394.2H335.6ZM340.3,283.2H345V305.4H340.3ZM340.3,372H345V377.6H340.3ZM340.3,388.7H345V394.2H340.3ZM345,283.2H349.7V305.4H345ZM345,366.5H349.7V383.1H345ZM349.7,283.2H354.4V305.4H349.7ZM349.7,366.5H354.4V383.1H349.7ZM354.4,283.2H359.1V305.4H354.4ZM354.4,383.1H359.1V394.2H354.4ZM359.1,283.2H363.8V305.4H359.1ZM359.1,383.1H363.8V394.2H359.1ZM363.8,283.2H368.5V299.9H363.8ZM363.8,366.5H368.5V377.6H363.8ZM368.5,283.2H373.2V299.9H368.5ZM368.5,366.5H373.2V377.6H368.5ZM373.2,283.2H377.9V299.9H373.2ZM373.2,366.5H377.9V377.6H373.2ZM377.9,283.2H382.6V299.9H377.9ZM377.9,366.5H382.6V377.6H377.9ZM382.6,283.2H387.3V299.9H382.6ZM382.6,366.5H387.3V377.6H382.6ZM387.3,283.2H392V294.3H387.3ZM387.3,366.5H392V377.6H387.3ZM392,372H396.7V383.1H392ZM396.7,388.7H401.4V394.2H396.7ZM401.4,377.6H406.1V388.7H401.4ZM406.1,377.6H410.8V388.7H406.1ZM410.8,377.6H415.4V388.7H410.8ZM415.4,377.6H420.1V388.7H415.4ZM420.1,377.6H424.8V388.7H420.1ZM424.8,383.1H429.5V388.7H424.8ZM429.5,383.1H434.2V388.7H429.5ZM443.6,388.7H448.3V394.2H443.6ZM448.3,388.7H453V394.2H448.3ZM462.4,383.1H467.1V388.7H462.4ZM467.1,383.1H471.8V388.7H467.1ZM471.8,383.1H476.5V388.7H471.8ZM476.5,383.1H481.2V388.7H476.5ZM490.6,394.2H495.3V399.8H490.6ZM495.3,394.2H500V399.8H495.3ZM509.3,388.7H514V394.2H509.3ZM514,388.7H518.7V394.2H514ZM518.7,383.1H523.4V394.2H518.7ZM523.4,383.1H528.1V394.2H523.4ZM528.1,383.1H532.8V394.2H528.1ZM532.8,383.1H537.5V394.2H532.8ZM546.9,372H551.6V383.1H546.9ZM551.6,383.1H556.3V388.7H551.6ZM556.3,383.1H561V388.7H556.3ZM561,383.1H565.7V388.7H561ZM565.7,377.6H570.4V383.1H565.7ZM570.4,372H575.1V377.6H570.4ZM575.1,372H579.8V377.6H575.1ZM579.8,372H584.5V377.6H579.8ZM584.5,377.6H589.2V383.1H584.5ZM607.9,383.1H612.6V388.7H607.9ZM612.6,383.1H617.3V388.7H612.6ZM617.3,377.6H622V383.1H617.3ZM622,377.6H626.7V383.1H622ZM626.7,377.6H631.4V383.1H626.7ZM631.4,377.6H636.1V383.1H631.4ZM636.1,283.2H640.8V311H636.1ZM636.1,377.6H640.8V383.1H636.1ZM640.8,283.2H645.5V311H640.8ZM640.8,377.6H645.5V383.1H640.8Z"/>
<path fill="rgb(140,140,140)" d="M424.8,377.6H429.5V383.1H424.8ZM434.2,383.1H438.9V388.7H434.2ZM457.7,383.1H462.4V388.7H457.7ZM481.2,383.1H485.9V388.7H481.2ZM504.7,388.7H509.3V394.2H504.7ZM514,383.1H518.7V388.7H514ZM542.2,377.6H546.9V383.1H542.2Z"/>
<path fill="rgb(144,144,144)" d="M485.9,388.7H490.6V394.2H485.9ZM542.2,372H546.9V377.6H542.2Z"/>
<path fill="rgb(147,147,147)" d="M645.5,311H650.2V322.1H645.5ZM645.5,366.5H650.2V377.6H645.5ZM650.2,311H654.9V322.1H650.2ZM650.2,366.5H654.9V377.6H650.2ZM654.9,311H659.6V322.1H654.9ZM654.9,366.5H659.6V377.6H654.9ZM659.6,311H664.3V322.1H659.6ZM659.6,366.5H664.3V372H659.6ZM664.3,311H669V322.1H664.3ZM664.3,372H669V377.6H664.3ZM669,311H673.7V322.1H669ZM669,372H673.7V377.6H669ZM673.7,311H678.4V322.1H673.7ZM673.7,372H678.4V383.1H673.7ZM678.4,311H683.1V322.1H678.4ZM678.4,372H683.1V383.1H678.4ZM683.1,311H687.8V322.1H683.1ZM683.1,377.6H687.8V383.1H683.1ZM687.8,311H692.5V322.1H687.8ZM687.8,377.6H692.5V383.1H687.8ZM692.5,311H697.1V322.1H692.5ZM692.5,377.6H697.1V383.1H692.5ZM697.1,311H701.8V322.1H697.1ZM697.1,377.6H701.8V383.1H697.1ZM701.8,311H706.5V322.1H701.8ZM701.8,377.6H706.5V383.1H701.8ZM706.5,311H711.2V322.1H706.5ZM706.5,377.6H711.2V383.1H706.5ZM711.2,311H715.9V327.6H711.2ZM711.2,377.6H715.9V383.1H711.2ZM715.9,316.5H720.6V322.1H715.9ZM715.9,372H720.6V377.6H715.9ZM720.6,338.7H725.3V344.3H720.6ZM720.6,349.8H725.3V360.9H720.6ZM720.6,366.5H725.3V377.6H720.6ZM725.3,344.3H730V360.9H725.3ZM725.3,366.5H730V377.6H725.3ZM730,344.3H734.7V355.4H730ZM730,372H734.7V377.6H730ZM734.7,344.3H739.4V355.4H734.7ZM734.7,372H739.4V377.6H734.7ZM739.4,344.3H744.1V349.8H739.4ZM739.4,366.5H744.1V372H739.4ZM744.1,366.5H748.8V372H744.1ZM748.8,349.8H753.5V355.4H748.8ZM748.8,366.5H753.5V372H748.8ZM753.5,322.1H758.2V327.6H753.5ZM753.5,333.2H758.2V338.7H753.5ZM753.5,349.8H758.2V355.4H753.5ZM753.5,366.5H758.2V372H753.5ZM758.2,322.1H762.9V327.6H758.2ZM758.2,338.7H762.9V355.4H758.2ZM758.2,366.5H762.9V372H758.2ZM762.9,366.5H767.6V372H762.9ZM767.6,322.1H772.3V327.6H767.6ZM767.6,333.2H772.3V344.3H767.6ZM767.6,366.5H772.3V377.6H767.6ZM772.3,322.1H777V327.6H772.3ZM772.3,338.7H777V344.3H772.3ZM772.3,366.5H777V377.6H772.3ZM777,372H781.7V377.6H777ZM781.7,322.1H786.4V327.6H781.7ZM781.7,366.5H786.4V377.6H781.7ZM786.4,316.5H791V322.1H786.4ZM786.4,372H791V377.6H786.4ZM791,316.5H795.7V322.1H791ZM791,344.3H795.7V360.9H791ZM791,372H795.7V377.6H791ZM795.7,316.5H800.4V322.1H795.7ZM795.7,344.3H800.4V360.9H795.7ZM795.7,372H800.4V377.6H795.7ZM800.4,311H805.1V316.5H800.4ZM800.4,327.6H805.1V333.2H800.4ZM800.4,355.4H805.1V360.9H800.4ZM800.4,366.5H805.1V377.6H800.4ZM805.1,311H809.8V316.5H805.1ZM805.1,355.4H809.8V360.9H805.1ZM805.1,366.5H809.8V377.6H805.1ZM809.8,311H814.5V316.5H809.8ZM809.8,355.4H814.5V360.9H809.8ZM809.8,366.5H814.5V372H809.8ZM814.5,355.4H819.2V372H814.5ZM819.2,322.1H823.9V327.6H819.2ZM819.2,338.7H823.9V344.3H819.2ZM819.2,366.5H823.9V372H819.2ZM823.9,349.8H828.6V355.4H823.9ZM823.9,366.5H828.6V372H823.9ZM828.6,327.6H833.3V333.2H828.6ZM828.6,344.3H833.3V355.4H828.6ZM828.6,366.5H833.3V372H828.6ZM833.3,349.8H838V355.4H833.3ZM833.3,366.5H838V372H833.3ZM838,344.3H842.7V372H838ZM842.7,355.4H847.4V372H842.7ZM847.4,311H852.1V316.5H847.4ZM847.4,355.4H852.1V372H847.4ZM852.1,311H856.8V316.5H852.1ZM852.1,355.4H856.8V372H852.1ZM856.8,311H861.5V316.5H856.8ZM856.8,338.7H861.5V355.4H856.8ZM856.8,366.5H861.5V372H856.8ZM861.5,372H866.2V377.6H861.5ZM866.2,344.3H870.9V360.9H866.2ZM866.2,372H870.9V377.6H866.2ZM870.9,344.3H875.6V360.9H870.9ZM870.9,372H875.6V377.6H870.9ZM875.6,344.3H880.3V360.9H875.6ZM875.6,372H880.3V377.6H875.6ZM880.2,344.3H884.9V360.9H880.2ZM880.2,372H884.9V377.6H880.2ZM884.9,344.3H889.6V360.9H884.9ZM884.9,372H889.6V377.6H884.9ZM889.6,333.2H894.3V360.9H889.6ZM889.6,366.5H894.3V377.6H889.6ZM894.3,338.7H899V344.3H894.3ZM894.3,366.5H899V377.6H894.3ZM899,305.4H903.7V311H899ZM899,366.5H903.7V377.6H899ZM903.7,305.4H908.4V316.5H903.7ZM903.7,366.5H908.4V377.6H903.7ZM908.4,305.4H913.1V316.5H908.4ZM908.4,366.5H913.1V372H908.4ZM913.1,305.4H917.8V311H913.1ZM913.1,360.9H917.8V372H913.1ZM917.8,305.4H922.5V311H917.8ZM917.8,344.3H922.5V355.4H917.8ZM917.8,366.5H922.5V372H917.8ZM922.5,299.9H927.2V316.5H922.5ZM922.5,344.3H927.2V355.4H922.5ZM922.5,366.5H927.2V372H922.5ZM927.2,299.9H931.9V311H927.2ZM927.2,327.6H931.9V372H927.2ZM931.9,283.2H936.6V305.4H931.9ZM931.9,338.7H936.6V344.3H931.9ZM931.9,366.5H936.6V372H931.9ZM936.6,283.2H941.3V305.4H936.6ZM936.6,366.5H941.3V372H936.6ZM941.3,283.2H946V305.4H941.3ZM941.3,327.6H946V338.7H941.3ZM941.3,349.8H946V360.9H941.3ZM941.3,366.5H946V372H941.3ZM946,283.2H950.7V305.4H946ZM946,344.3H950.7V360.9H946ZM946,366.5H950.7V372H946ZM950.7,283.2H955.4V305.4H950.7ZM950.7,349.8H955.4V360.9H950.7ZM950.7,366.5H955.4V372H950.7ZM955.4,288.8H960.1V316.5H955.4ZM955.4,366.5H960.1V377.6H955.4ZM960.1,299.9H964.8V322.1H960.1ZM960.1,366.5H964.8V377.6H960.1ZM964.8,299.9H969.5V322.1H964.8ZM964.8,349.8H969.5V360.9H964.8ZM964.8,366.5H969.5V377.6H964.8ZM969.5,299.9H974.2V327.6H969.5ZM969.5,344.3H974.2V349.8H969.5ZM969.5,366.5H974.2V377.6H969.5ZM974.2,311H978.8V322.1H974.2ZM974.2,366.5H978.8V372H974.2ZM978.8,311H983.5V322.1H978.8ZM978.8,366.5H983.5V372H978.8ZM983.5,311H988.2V322.1H983.5ZM983.5,338.7H988.2V355.4H983.5ZM983.5,366.5H988.2V372H983.5ZM988.2,311H992.9V322.1H988.2ZM988.2,333.2H992.9V355.4H988.2ZM988.2,366.5H992.9V372H988.2ZM992.9,327.6H997.6V333.2H992.9ZM992.9,349.8H997.6V355.4H992.9ZM992.9,366.5H997.6V372H992.9ZM997.6,322.1H1002.3V327.6H997.6ZM997.6,366.5H1002.3V372H997.6ZM1002.3,322.1H1007V327.6H1002.3ZM1002.3,366.5H1007V372H1002.3ZM1007,355.4H1011.7V366.5H1007ZM1011.7,327.6H1016.4V344.3H1011.7ZM1011.7,360.9H1016.4V372H1011.7ZM1016.4,360.9H1021.1V372H1016.4ZM1021.1,322.1H1025.8V327.6H1021.1ZM1021.1,355.4H1025.8V372H1021.1ZM1025.8,355.4H1030.5V372H1025.8ZM1030.5,327.6H1035.2V333.2H1030.5ZM1030.5,355.4H1035.2V372H1030.5ZM1035.2,311H1039.9V316.5H1035.2ZM1035.2,327.6H1039.9V333.2H1035.2ZM1035.2,360.9H1039.9V372H1035.2ZM1039.9,311H1044.6V316.5H1039.9ZM1039.9,327.6H1044.6V333.2H1039.9ZM1039.9,360.9H1044.6V372H1039.9ZM1044.6,311H1049.3V316.5H1044.6ZM1044.6,327.6H1049.3V333.2H1044.6ZM1044.6,355.4H1049.3V366.5H1044.6ZM1049.3,311H1054V316.5H1049.3ZM1049.3,344.3H1054V349.8H1049.3ZM1049.3,355.4H1054V366.5H1049.3ZM1054,311H1058.7V316.5H1054ZM1054,355.4H1058.7V372H1054ZM1058.7,311H1063.4V316.5H1058.7ZM1058.7,349.8H1063.4V360.9H1058.7ZM1058.7,366.5H1063.4V377.6H1058.7ZM1063.4,311H1068V316.5H1063.4ZM1063.4,349.8H1068V360.9H1063.4ZM1063.4,366.5H1068V377.6H1063.4ZM1068.1,311H1072.7V316.5H1068.1ZM1068.1,344.3H1072.7V360.9H1068.1ZM1068.1,366.5H1072.7V377.6H1068.1ZM1072.7,311H1077.4V316.5H1072.7ZM1072.7,344.3H1077.4V360.9H1072.7ZM1072.7,366.5H1077.4V377.6H1072.7ZM1077.4,338.7H1082.1V360.9H1077.4ZM1077.4,366.5H1082.1V372H1077.4ZM1082.1,349.8H1086.8V360.9H1082.1ZM1082.1,366.5H1086.8V372H1082.1ZM1086.8,360.9H1091.5V372H1086.8ZM1091.5,360.9H1096.2V372H1091.5ZM1096.2,360.9H1100.9V366.5H1096.2ZM1100.9,305.4H1105.6V322.1H1100.9ZM1100.9,355.4H1105.6V366.5H1100.9ZM1105.6,305.4H1110.3V316.5H1105.6ZM1105.6,327.6H1110.3V333.2H1105.6ZM1105.6,355.4H1110.3V366.5H1105.6ZM1110.3,305.4H1135V316.5H1110.3ZM1110.3,338.7H1135V344.3H1110.3ZM1110.3,355.4H1135V366.5H1110.3Z"/>
<path fill="rgb(149,149,149)" d="M429.5,377.6H434.2V383.1H429.5ZM438.9,383.1H443.6V388.7H438.9ZM453,383.1H457.7V388.7H453ZM485.9,383.1H490.6V388.7H485.9ZM500,388.7H504.7V394.2H500ZM509.3,383.1H514V388.7H509.3ZM537.5,377.6H542.2V383.1H537.5Z"/>
<path fill="rgb(153,153,153)" d="M180.7,338.7H185.4V344.3H180.7ZM180.7,349.8H185.4V372H180.7ZM185.4,360.9H190.1V372H185.4ZM190.1,327.6H194.8V333.2H190.1ZM190.1,366.5H194.8V372H190.1ZM194.8,355.4H199.5V372H194.8ZM199.5,349.8H204.2V372H199.5ZM204.2,344.3H208.9V349.8H204.2ZM204.2,372H208.9V383.1H204.2ZM208.9,322.1H213.6V333.2H208.9ZM208.9,377.6H213.6V388.7H208.9ZM213.6,322.1H218.3V333.2H213.6ZM213.6,383.1H218.3V394.2H213.6ZM218.3,316.5H222.9V327.6H218.3ZM218.3,388.7H222.9V394.2H218.3ZM222.9,316.5H227.6V333.2H222.9ZM222.9,383.1H227.6V394.2H222.9ZM227.6,327.6H232.3V344.3H227.6ZM227.6,383.1H232.3V388.7H227.6ZM232.3,349.8H237V388.7H232.3ZM237,366.5H241.7V388.7H237ZM251.1,338.7H255.8V344.3H251.1ZM251.1,388.7H255.8V394.2H251.1ZM255.8,338.7H260.5V344.3H255.8ZM255.8,355.4H260.5V366.5H255.8ZM260.5,360.9H265.2V366.5H260.5ZM265.2,344.3H269.9V349.8H265.2ZM279.3,366.5H284V372H279.3ZM279.3,377.6H284V394.2H279.3ZM284,355.4H288.7V366.5H284ZM288.7,360.9H293.4V366.5H288.7ZM293.4,360.9H298.1V366.5H293.4ZM302.8,360.9H307.5V366.5H302.8ZM307.5,327.6H312.2V333.2H307.5ZM307.5,360.9H312.2V366.5H307.5ZM312.2,355.4H316.8V366.5H312.2ZM316.9,355.4H321.5V372H316.9ZM316.9,377.6H321.5V388.7H316.9ZM321.5,355.4H326.2V360.9H321.5ZM321.5,366.5H326.2V372H321.5ZM321.5,377.6H326.2V388.7H321.5ZM326.2,305.4H330.9V311H326.2ZM326.2,355.4H330.9V360.9H326.2ZM326.2,366.5H330.9V372H326.2ZM326.2,377.6H330.9V388.7H326.2ZM330.9,305.4H335.6V311H330.9ZM330.9,355.4H335.6V360.9H330.9ZM330.9,366.5H335.6V372H330.9ZM330.9,377.6H335.6V394.2H330.9ZM335.6,305.4H340.3V316.5H335.6ZM335.6,349.8H340.3V372H335.6ZM335.6,377.6H340.3V388.7H335.6ZM340.3,305.4H345V316.5H340.3ZM340.3,349.8H345V372H340.3ZM340.3,377.6H345V388.7H340.3ZM345,305.4H349.7V316.5H345ZM345,349.8H349.7V366.5H345ZM349.7,305.4H354.4V327.6H349.7ZM349.7,349.8H354.4V366.5H349.7ZM354.4,305.4H359.1V327.6H354.4ZM354.4,355.4H359.1V360.9H354.4ZM354.4,366.5H359.1V383.1H354.4ZM359.1,305.4H363.8V327.6H359.1ZM359.1,372H363.8V383.1H359.1ZM363.8,299.9H368.5V316.5H363.8ZM363.8,360.9H368.5V366.5H363.8ZM368.5,299.9H373.2V316.5H368.5ZM368.5,360.9H373.2V366.5H368.5ZM373.2,299.9H377.9V316.5H373.2ZM373.2,355.4H377.9V366.5H373.2ZM377.9,299.9H382.6V316.5H377.9ZM382.6,299.9H387.3V316.5H382.6ZM387.3,294.3H392V311H387.3ZM387.3,344.3H392V366.5H387.3ZM392,283.2H396.7V311H392ZM392,349.8H396.7V372H392ZM396.7,283.2H401.4V305.4H396.7ZM396.7,372H401.4V388.7H396.7ZM401.4,283.2H406.1V299.9H401.4ZM401.4,366.5H406.1V377.6H401.4ZM406.1,283.2H410.8V299.9H406.1ZM406.1,372H410.8V377.6H406.1ZM410.8,283.2H415.4V299.9H410.8ZM410.8,372H415.4V377.6H410.8ZM415.4,283.2H420.1V294.3H415.4ZM415.4,372H420.1V377.6H415.4ZM420.1,283.2H424.8V294.3H420.1ZM420.1,372H424.8V377.6H420.1ZM443.6,383.1H448.3V388.7H443.6ZM448.3,383.1H453V388.7H448.3ZM462.4,377.6H467.1V383.1H462.4ZM467.1,377.6H471.8V383.1H467.1ZM471.8,377.6H476.5V383.1H471.8ZM476.5,377.6H481.2V383.1H476.5ZM481.2,377.6H485.9V383.1H481.2ZM485.9,377.6H490.6V383.1H485.9ZM490.6,383.1H495.3V394.2H490.6ZM495.3,383.1H500V394.2H495.3ZM500,383.1H504.7V388.7H500ZM504.7,383.1H509.3V388.7H504.7ZM509.3,377.6H514V383.1H509.3ZM514,377.6H518.7V383.1H514ZM518.7,377.6H523.4V383.1H518.7ZM523.4,377.6H528.1V383.1H523.4ZM528.1,377.6H532.8V383.1H528.1ZM532.8,377.6H537.5V383.1H532.8ZM546.9,366.5H551.6V372H546.9ZM551.6,372H556.3V383.1H551.6ZM556.3,372H561V383.1H556.3ZM561,372H565.7V383.1H561ZM565.7,372H570.4V377.6H565.7ZM570.4,366.5H575.1V372H570.4ZM575.1,366.5H579.8V372H575.1ZM579.8,366.5H584.5V372H579.8ZM584.5,372H589.2V377.6H584.5ZM589.2,372H593.9V383.1H589.2ZM593.9,372H598.6V383.1H593.9ZM598.5,372H603.2V383.1H598.5ZM603.2,372H607.9V383.1H603.2ZM607.9,372H612.6V383.1H607.9ZM612.6,372H617.3V383.1H612.6ZM617.3,366.5H622V377.6H617.3ZM622,283.2H626.7V322.1H622ZM622,366.5H626.7V377.6H622ZM626.7,283.2H631.4V322.1H626.7ZM626.7,372H631.4V377.6H626.7ZM631.4,283.2H636.1V322.1H631.4ZM631.4,366.5H636.1V377.6H631.4ZM636.1,311H640.8V322.1H636.1ZM636.1,366.5H640.8V377.6H636.1ZM640.8,311H645.5V322.1H640.8ZM640.8,366.5H645.5V377.6H640.8Z"/>
<path fill="rgb(157,157,157)" d="M415.4,294.3H420.1V299.9H415.4ZM424.8,283.2H429.5V294.3H424.8ZM424.8,372H429.5V377.6H424.8ZM434.2,377.6H438.9V383.1H434.2ZM457.7,377.6H462.4V383.1H457.7ZM490.6,377.6H495.3V383.1H490.6ZM504.7,377.6H509.3V383.1H504.7ZM542.2,366.5H546.9V372H542.2Z"/>
<path fill="rgb(162,162,162)" d="M537.5,372H542.2V377.6H537.5Z"/>
<path fill="rgb(166,166,166)" d="M410.8,299.9H415.4V305.4H410.8ZM410.8,366.5H415.4V372H410.8ZM420.1,294.3H424.8V299.9H420.1ZM429.5,283.2H434.2V294.3H429.5ZM429.5,372H434.2V377.6H429.5ZM438.9,377.6H443.6V383.1H438.9ZM453,377.6H457.7V383.1H453ZM495.3,377.6H500V383.1H495.3ZM500,377.6H504.7V383.1H500ZM537.5,366.5H542.2V372H537.5Z"/>
<path fill="rgb(170,170,170)" d="M156,333.2H180.7V338.7H156ZM156,366.5H180.7V372H156ZM185.4,355.4H190.1V360.9H185.4ZM199.5,327.6H204.2V333.2H199.5ZM199.5,338.7H204.2V344.3H199.5ZM204.2,327.6H208.9V333.2H204.2ZM204.2,338.7H208.9V344.3H204.2ZM204.2,349.8H208.9V355.4H204.2ZM204.2,366.5H208.9V372H204.2ZM208.9,333.2H213.6V338.7H208.9ZM208.9,372H213.6V377.6H208.9ZM213.6,333.2H218.3V338.7H213.6ZM213.6,377.6H218.3V383.1H213.6ZM218.3,327.6H222.9V338.7H218.3ZM218.3,377.6H222.9V388.7H218.3ZM222.9,333.2H227.6V344.3H222.9ZM222.9,377.6H227.6V383.1H222.9ZM227.6,344.3H232.3V349.8H227.6ZM227.6,366.5H232.3V383.1H227.6ZM241.7,349.8H246.4V355.4H241.7ZM241.7,377.6H246.4V394.2H241.7ZM246.4,344.3H251.1V349.8H246.4ZM246.4,383.1H251.1V394.2H246.4ZM251.1,377.6H255.8V388.7H251.1ZM255.8,349.8H260.5V355.4H255.8ZM265.2,360.9H269.9V366.5H265.2ZM279.3,372H284V377.6H279.3ZM302.8,333.2H307.5V338.7H302.8ZM307.5,355.4H312.2V360.9H307.5ZM312.2,349.8H316.8V355.4H312.2ZM316.9,316.5H321.5V322.1H316.9ZM316.9,349.8H321.5V355.4H316.9ZM321.5,311H326.2V316.5H321.5ZM321.5,349.8H326.2V355.4H321.5ZM321.5,360.9H326.2V366.5H321.5ZM326.2,311H330.9V316.5H326.2ZM326.2,349.8H330.9V355.4H326.2ZM326.2,360.9H330.9V366.5H326.2ZM330.9,311H335.6V316.5H330.9ZM330.9,349.8H335.6V355.4H330.9ZM330.9,360.9H335.6V366.5H330.9ZM335.6,316.5H340.3V333.2H335.6ZM335.6,344.3H340.3V349.8H335.6ZM340.3,316.5H345V322.1H340.3ZM345,316.5H349.7V322.1H345ZM345,344.3H349.7V349.8H345ZM349.7,327.6H354.4V333.2H349.7ZM354.4,327.6H359.1V333.2H354.4ZM354.4,349.8H359.1V355.4H354.4ZM354.4,360.9H359.1V366.5H354.4ZM359.1,355.4H363.8V372H359.1ZM363.8,316.5H368.5V322.1H363.8ZM368.5,316.5H373.2V322.1H368.5ZM373.2,316.5H377.9V327.6H373.2ZM373.2,349.8H377.9V355.4H373.2ZM377.9,316.5H382.6V322.1H377.9ZM382.6,316.5H387.3V322.1H382.6ZM387.3,311H392V322.1H387.3ZM392,311H396.7V316.5H392ZM392,344.3H396.7V349.8H392ZM396.7,305.4H401.4V316.5H396.7ZM396.7,366.5H401.4V372H396.7ZM401.4,299.9H406.1V311H401.4ZM401.4,349.8H406.1V360.9H401.4ZM406.1,299.9H410.8V311H406.1ZM406.1,349.8H410.8V360.9H406.1ZM406.1,366.5H410.8V372H406.1ZM410.8,305.4H415.4V311H410.8ZM415.4,299.9H420.1V305.4H415.4ZM415.4,366.5H420.1V372H415.4ZM420.1,299.9H424.8V305.4H420.1ZM420.1,366.5H424.8V372H420.1ZM424.8,294.3H429.5V299.9H424.8ZM424.8,366.5H429.5V372H424.8ZM429.5,294.3H434.2V299.9H429.5ZM429.5,366.5H434.2V372H429.5ZM434.2,283.2H438.9V299.9H434.2ZM438.9,283.2H443.6V299.9H438.9ZM443.6,283.2H448.3V299.9H443.6ZM443.6,377.6H448.3V383.1H443.6ZM448.3,283.2H453V299.9H448.3ZM448.3,377.6H453V383.1H448.3ZM453,283.2H457.7V299.9H453ZM457.7,283.2H462.4V299.9H457.7ZM462.4,283.2H467.1V299.9H462.4ZM462.4,366.5H467.1V377.6H462.4ZM467.1,283.2H471.8V299.9H467.1ZM467.1,366.5H471.8V377.6H467.1ZM471.8,283.2H476.5V294.3H471.8ZM471.8,366.5H476.5V377.6H471.8ZM476.5,283.2H481.2V294.3H476.5ZM476.5,366.5H481.2V377.6H476.5ZM481.2,372H485.9V377.6H481.2ZM485.9,372H490.6V377.6H485.9ZM518.7,366.5H523.4V377.6H518.7ZM523.4,366.5H528.1V377.6H523.4ZM528.1,366.5H532.8V377.6H528.1ZM532.8,366.5H537.5V377.6H532.8ZM546.9,344.3H551.6V355.4H546.9ZM551.6,283.2H556.3V288.8H551.6ZM551.6,366.5H556.3V372H551.6ZM556.3,283.2H561V288.8H556.3ZM556.3,366.5H561V372H556.3ZM561,283.2H565.7V288.8H561ZM561,366.5H565.7V372H561ZM565.7,283.2H570.4V288.8H565.7ZM565.7,366.5H570.4V372H565.7ZM570.4,283.2H575.1V322.1H570.4ZM570.4,360.9H575.1V366.5H570.4ZM575.1,283.2H579.8V311H575.1ZM579.8,283.2H584.5V311H579.8ZM579.8,338.7H584.5V349.8H579.8ZM584.5,283.2H589.2V311H584.5ZM584.5,333.2H589.2V349.8H584.5ZM584.5,366.5H589.2V372H584.5ZM589.2,283.2H593.9V311H589.2ZM593.9,283.2H598.6V311H593.9ZM593.9,344.3H598.6V355.4H593.9ZM598.5,283.2H603.2V305.4H598.5ZM603.2,283.2H607.9V305.4H603.2ZM607.9,283.2H612.6V305.4H607.9ZM607.9,344.3H612.6V355.4H607.9ZM607.9,366.5H612.6V372H607.9ZM612.6,283.2H617.3V305.4H612.6ZM612.6,344.3H617.3V355.4H612.6ZM612.6,366.5H617.3V372H612.6ZM617.3,283.2H622V311H617.3ZM617.3,344.3H622V355.4H617.3ZM622,322.1H626.7V327.6H622ZM622,344.3H626.7V355.4H622ZM626.7,322.1H631.4V327.6H626.7ZM626.7,344.3H631.4V349.8H626.7ZM626.7,366.5H631.4V372H626.7ZM631.4,322.1H636.1V327.6H631.4ZM631.4,349.8H636.1V355.4H631.4ZM636.1,322.1H640.8V327.6H636.1ZM636.1,349.8H640.8V355.4H636.1ZM640.8,322.1H645.5V327.6H640.8ZM640.8,349.8H645.5V355.4H640.8ZM645.5,322.1H650.2V327.6H645.5ZM650.2,322.1H654.9V327.6H650.2ZM654.9,322.1H659.6V327.6H654.9ZM659.6,322.1H664.3V327.6H659.6ZM659.6,344.3H664.3V360.9H659.6ZM664.3,322.1H669V327.6H664.3ZM664.3,344.3H669V349.8H664.3ZM664.3,366.5H669V372H664.3ZM669,322.1H673.7V327.6H669ZM673.7,322.1H678.4V327.6H673.7ZM673.7,344.3H678.4V349.8H673.7ZM673.7,366.5H678.4V372H673.7ZM678.4,322.1H683.1V327.6H678.4ZM678.4,344.3H683.1V349.8H678.4ZM678.4,366.5H683.1V372H678.4ZM683.1,322.1H687.8V327.6H683.1ZM683.1,372H687.8V377.6H683.1ZM687.8,322.1H692.5V327.6H687.8ZM687.8,372H692.5V377.6H687.8ZM692.5,322.1H697.1V327.6H692.5ZM692.5,372H697.1V377.6H692.5ZM697.1,322.1H701.8V327.6H697.1ZM697.1,372H701.8V377.6H697.1ZM701.8,322.1H706.5V327.6H701.8ZM701.8,372H706.5V377.6H701.8ZM706.5,322.1H711.2V327.6H706.5ZM706.5,372H711.2V377.6H706.5ZM711.2,338.7H715.9V344.3H711.2ZM711.2,372H715.9V377.6H711.2ZM720.6,344.3H725.3V349.8H720.6ZM720.6,360.9H725.3V366.5H720.6ZM725.3,360.9H730V366.5H725.3ZM730,355.4H734.7V372H730ZM734.7,355.4H739.4V372H734.7ZM739.4,322.1H744.1V327.6H739.4ZM739.4,338.7H744.1V344.3H739.4ZM739.4,349.8H744.1V355.4H739.4ZM739.4,360.9H744.1V366.5H739.4ZM744.1,322.1H748.8V327.6H744.1ZM748.8,355.4H753.5V366.5H748.8ZM753.5,355.4H758.2V366.5H753.5ZM758.2,333.2H762.9V338.7H758.2ZM758.2,355.4H762.9V366.5H758.2ZM762.9,344.3H767.6V349.8H762.9ZM762.9,360.9H767.6V366.5H762.9ZM767.6,344.3H772.3V349.8H767.6ZM767.6,360.9H772.3V366.5H767.6ZM772.3,333.2H777V338.7H772.3ZM772.3,344.3H777V349.8H772.3ZM777,322.1H781.7V327.6H777ZM777,338.7H781.7V349.8H777ZM777,366.5H781.7V372H777ZM781.7,327.6H786.4V333.2H781.7ZM786.4,322.1H791V338.7H786.4ZM786.4,366.5H791V372H786.4ZM791,327.6H795.7V333.2H791ZM791,366.5H795.7V372H791ZM795.7,327.6H800.4V333.2H795.7ZM795.7,366.5H800.4V372H795.7ZM800.4,316.5H805.1V322.1H800.4ZM805.1,316.5H809.8V322.1H805.1ZM805.1,327.6H809.8V333.2H805.1ZM809.8,322.1H814.5V327.6H809.8ZM809.8,360.9H814.5V366.5H809.8ZM823.9,355.4H828.6V366.5H823.9ZM828.6,355.4H833.3V366.5H828.6ZM833.3,355.4H838V366.5H833.3ZM842.7,344.3H847.4V349.8H842.7ZM847.4,316.5H852.1V322.1H847.4ZM847.4,344.3H852.1V355.4H847.4ZM856.8,355.4H861.5V366.5H856.8ZM861.5,311H866.2V316.5H861.5ZM861.5,322.1H866.2V338.7H861.5ZM861.5,366.5H866.2V372H861.5ZM866.2,311H870.9V316.5H866.2ZM866.2,327.6H870.9V338.7H866.2ZM866.2,366.5H870.9V372H866.2ZM870.9,311H875.6V316.5H870.9ZM870.9,327.6H875.6V338.7H870.9ZM870.9,366.5H875.6V372H870.9ZM875.6,311H880.3V316.5H875.6ZM875.6,327.6H880.3V338.7H875.6ZM875.6,366.5H880.3V372H875.6ZM880.2,311H884.9V316.5H880.2ZM880.2,327.6H884.9V338.7H880.2ZM880.2,366.5H884.9V372H880.2ZM884.9,311H889.6V316.5H884.9ZM884.9,327.6H889.6V338.7H884.9ZM884.9,366.5H889.6V372H884.9ZM889.6,311H894.3V316.5H889.6ZM889.6,327.6H894.3V333.2H889.6ZM889.6,360.9H894.3V366.5H889.6ZM894.3,311H899V316.5H894.3ZM894.3,327.6H899V338.7H894.3ZM894.3,344.3H899V349.8H894.3ZM894.3,360.9H899V366.5H894.3ZM899,311H903.7V316.5H899ZM899,360.9H903.7V366.5H899ZM903.7,360.9H908.4V366.5H903.7ZM908.4,360.9H913.1V366.5H908.4ZM913.1,311H917.8V327.6H913.1ZM913.1,349.8H917.8V360.9H913.1ZM917.8,316.5H922.5V327.6H917.8ZM917.8,333.2H922.5V338.7H917.8ZM917.8,355.4H922.5V366.5H917.8ZM922.5,322.1H927.2V327.6H922.5ZM922.5,333.2H927.2V338.7H922.5ZM922.5,355.4H927.2V366.5H922.5ZM927.2,311H931.9V316.5H927.2ZM927.2,322.1H931.9V327.6H927.2ZM931.9,305.4H936.6V327.6H931.9ZM931.9,344.3H936.6V355.4H931.9ZM931.9,360.9H936.6V366.5H931.9ZM936.6,305.4H941.3V316.5H936.6ZM936.6,360.9H941.3V366.5H936.6ZM941.3,305.4H946V327.6H941.3ZM941.3,360.9H946V366.5H941.3ZM946,305.4H950.7V322.1H946ZM946,360.9H950.7V366.5H946ZM950.7,305.4H955.4V322.1H950.7ZM950.7,333.2H955.4V349.8H950.7ZM950.7,360.9H955.4V366.5H950.7ZM955.4,316.5H960.1V322.1H955.4ZM955.4,338.7H960.1V366.5H955.4ZM960.1,322.1H964.8V366.5H960.1ZM964.8,322.1H969.5V349.8H964.8ZM964.8,360.9H969.5V366.5H964.8ZM969.5,327.6H974.2V344.3H969.5ZM969.5,349.8H974.2V355.4H969.5ZM974.2,322.1H978.8V327.6H974.2ZM974.2,360.9H978.8V366.5H974.2ZM978.8,322.1H983.5V338.7H978.8ZM978.8,349.8H983.5V366.5H978.8ZM983.5,322.1H988.2V338.7H983.5ZM983.5,355.4H988.2V366.5H983.5ZM988.2,322.1H992.9V333.2H988.2ZM988.2,355.4H992.9V366.5H988.2ZM992.9,355.4H997.6V366.5H992.9ZM997.6,327.6H1002.3V333.2H997.6ZM997.6,355.4H1002.3V366.5H997.6ZM1002.3,355.4H1007V366.5H1002.3ZM1011.7,322.1H1016.4V327.6H1011.7ZM1011.7,344.3H1016.4V360.9H1011.7ZM1016.4,349.8H1021.1V360.9H1016.4ZM1025.8,322.1H1030.5V327.6H1025.8ZM1030.5,322.1H1035.2V327.6H1030.5ZM1030.5,344.3H1035.2V355.4H1030.5ZM1035.2,322.1H1039.9V327.6H1035.2ZM1035.2,338.7H1039.9V360.9H1035.2ZM1039.9,322.1H1044.6V327.6H1039.9ZM1039.9,338.7H1044.6V360.9H1039.9ZM1044.6,322.1H1049.3V327.6H1044.6ZM1049.3,322.1H1054V333.2H1049.3ZM1049.3,349.8H1054V355.4H1049.3ZM1054,316.5H1058.7V327.6H1054ZM1054,338.7H1058.7V355.4H1054ZM1058.7,316.5H1063.4V327.6H1058.7ZM1058.7,338.7H1063.4V349.8H1058.7ZM1058.7,360.9H1063.4V366.5H1058.7ZM1063.4,316.5H1068V327.6H1063.4ZM1063.4,338.7H1068V349.8H1063.4ZM1063.4,360.9H1068V366.5H1063.4ZM1068.1,316.5H1072.7V327.6H1068.1ZM1068.1,333.2H1072.7V344.3H1068.1ZM1068.1,360.9H1072.7V366.5H1068.1ZM1072.7,316.5H1077.4V327.6H1072.7ZM1072.7,333.2H1077.4V344.3H1072.7ZM1072.7,360.9H1077.4V366.5H1072.7ZM1077.4,311H1082.1V327.6H1077.4ZM1077.4,333.2H1082.1V338.7H1077.4ZM1077.4,360.9H1082.1V366.5H1077.4ZM1082.1,311H1086.8V322.1H1082.1ZM1082.1,360.9H1086.8V366.5H1082.1ZM1086.8,311H1091.5V316.5H1086.8ZM1086.8,344.3H1091.5V360.9H1086.8ZM1091.5,311H1096.2V316.5H1091.5ZM1091.5,322.1H1096.2V360.9H1091.5ZM1105.6,316.5H1110.3V327.6H1105.6Z"/>
<path fill="rgb(174,174,174)" d="M415.4,305.4H420.1V311H415.4ZM424.8,299.9H429.5V305.4H424.8ZM434.2,366.5H438.9V377.6H434.2ZM457.7,366.5H462.4V377.6H457.7ZM471.8,294.3H476.5V299.9H471.8ZM481.2,283.2H485.9V294.3H481.2ZM481.2,366.5H485.9V372H481.2ZM490.6,372H495.3V377.6H490.6ZM514,366.5H518.7V377.6H514Z"/>
<path fill="rgb(183,183,183)" d="M410.8,311H415.4V316.5H410.8ZM410.8,349.8H415.4V360.9H410.8ZM420.1,305.4H424.8V311H420.1ZM429.5,299.9H434.2V305.4H429.5ZM438.9,366.5H443.6V377.6H438.9ZM453,366.5H457.7V377.6H453ZM476.5,294.3H481.2V299.9H476.5ZM485.9,283.2H490.6V294.3H485.9ZM485.9,366.5H490.6V372H485.9ZM495.3,372H500V377.6H495.3ZM509.3,366.5H514V377.6H509.3ZM542.2,344.3H546.9V355.4H542.2Z"/>
<path fill="rgb(187,187,187)" d="M156,360.9H180.7V366.5H156ZM185.4,333.2H190.1V338.7H185.4ZM190.1,333.2H194.8V338.7H190.1ZM204.2,355.4H208.9V366.5H204.2ZM208.9,338.7H213.6V344.3H208.9ZM208.9,366.5H213.6V372H208.9ZM213.6,338.7H218.3V349.8H213.6ZM213.6,366.5H218.3V377.6H213.6ZM218.3,338.7H222.9V355.4H218.3ZM218.3,360.9H222.9V377.6H218.3ZM222.9,344.3H227.6V355.4H222.9ZM222.9,360.9H227.6V377.6H222.9ZM227.6,349.8H232.3V366.5H227.6ZM241.7,355.4H246.4V377.6H241.7ZM246.4,349.8H251.1V355.4H246.4ZM246.4,366.5H251.1V383.1H246.4ZM251.1,344.3H255.8V355.4H251.1ZM251.1,366.5H255.8V377.6H251.1ZM260.5,349.8H265.2V355.4H260.5ZM288.7,355.4H293.4V360.9H288.7ZM293.4,355.4H298.1V360.9H293.4ZM302.8,349.8H307.5V360.9H302.8ZM307.5,344.3H312.2V355.4H307.5ZM312.2,327.6H316.8V333.2H312.2ZM321.5,316.5H326.2V322.1H321.5ZM326.2,316.5H330.9V322.1H326.2ZM330.9,316.5H335.6V322.1H330.9ZM335.6,333.2H340.3V344.3H335.6ZM340.3,322.1H345V327.6H340.3ZM340.3,344.3H345V349.8H340.3ZM345,322.1H349.7V333.2H345ZM349.7,333.2H354.4V338.7H349.7ZM349.7,344.3H354.4V349.8H349.7ZM354.4,333.2H359.1V338.7H354.4ZM354.4,344.3H359.1V349.8H354.4ZM359.1,327.6H363.8V333.2H359.1ZM359.1,349.8H363.8V355.4H359.1ZM363.8,322.1H368.5V327.6H363.8ZM363.8,355.4H368.5V360.9H363.8ZM368.5,322.1H373.2V327.6H368.5ZM368.5,355.4H373.2V360.9H368.5ZM373.2,327.6H377.9V333.2H373.2ZM377.9,322.1H382.6V327.6H377.9ZM377.9,360.9H382.6V366.5H377.9ZM382.6,322.1H387.3V327.6H382.6ZM387.3,322.1H392V327.6H387.3ZM387.3,338.7H392V344.3H387.3ZM392,316.5H396.7V322.1H392ZM392,338.7H396.7V344.3H392ZM396.7,316.5H401.4V322.1H396.7ZM396.7,349.8H401.4V366.5H396.7ZM401.4,311H406.1V322.1H401.4ZM401.4,344.3H406.1V349.8H401.4ZM401.4,360.9H406.1V366.5H401.4ZM406.1,311H410.8V316.5H406.1ZM406.1,344.3H410.8V349.8H406.1ZM406.1,360.9H410.8V366.5H406.1ZM410.8,344.3H415.4V349.8H410.8ZM410.8,360.9H415.4V366.5H410.8ZM415.4,311H420.1V316.5H415.4ZM415.4,344.3H420.1V366.5H415.4ZM420.1,311H424.8V316.5H420.1ZM420.1,344.3H424.8V366.5H420.1ZM424.8,305.4H429.5V311H424.8ZM424.8,349.8H429.5V366.5H424.8ZM429.5,305.4H434.2V311H429.5ZM429.5,349.8H434.2V366.5H429.5ZM434.2,299.9H438.9V311H434.2ZM438.9,299.9H443.6V311H438.9ZM443.6,299.9H448.3V311H443.6ZM443.6,366.5H448.3V377.6H443.6ZM448.3,299.9H453V311H448.3ZM448.3,366.5H453V377.6H448.3ZM453,299.9H457.7V311H453ZM457.7,299.9H462.4V311H457.7ZM462.4,299.9H467.1V311H462.4ZM462.4,360.9H467.1V366.5H462.4ZM467.1,299.9H471.8V311H467.1ZM467.1,360.9H471.8V366.5H467.1ZM471.8,299.9H476.5V305.4H471.8ZM471.8,360.9H476.5V366.5H471.8ZM476.5,299.9H481.2V305.4H476.5ZM476.5,360.9H481.2V366.5H476.5ZM481.2,294.3H485.9V305.4H481.2ZM481.2,360.9H485.9V366.5H481.2ZM485.9,294.3H490.6V305.4H485.9ZM485.9,360.9H490.6V366.5H485.9ZM490.6,283.2H495.3V305.4H490.6ZM490.6,360.9H495.3V372H490.6ZM495.3,283.2H500V305.4H495.3ZM495.3,360.9H500V372H495.3ZM500,283.2H504.7V305.4H500ZM500,360.9H504.7V377.6H500ZM504.7,283.2H509.3V305.4H504.7ZM504.7,360.9H509.3V377.6H504.7ZM509.3,283.2H514V305.4H509.3ZM509.3,360.9H514V366.5H509.3ZM514,283.2H518.7V305.4H514ZM514,360.9H518.7V366.5H514ZM518.7,283.2H523.4V305.4H518.7ZM518.7,360.9H523.4V366.5H518.7ZM523.4,283.2H528.1V305.4H523.4ZM523.4,360.9H528.1V366.5H523.4ZM528.1,283.2H532.8V305.4H528.1ZM528.1,360.9H532.8V366.5H528.1ZM532.8,283.2H537.5V305.4H532.8ZM532.8,360.9H537.5V366.5H532.8ZM537.5,283.2H542.2V305.4H537.5ZM537.5,360.9H542.2V366.5H537.5ZM542.2,283.2H546.9V305.4H542.2ZM542.2,360.9H546.9V366.5H542.2ZM546.9,283.2H551.6V305.4H546.9ZM546.9,338.7H551.6V344.3H546.9ZM546.9,360.9H551.6V366.5H546.9ZM551.6,288.8H556.3V305.4H551.6ZM551.6,360.9H556.3V366.5H551.6ZM556.3,288.8H561V305.4H556.3ZM556.3,360.9H561V366.5H556.3ZM561,288.8H565.7V305.4H561ZM561,360.9H565.7V366.5H561ZM565.7,288.8H570.4V305.4H565.7ZM565.7,360.9H570.4V366.5H565.7ZM570.4,322.1H575.1V327.6H570.4ZM570.4,333.2H575.1V338.7H570.4ZM575.1,311H579.8V316.5H575.1ZM575.1,333.2H579.8V338.7H575.1ZM575.1,360.9H579.8V366.5H575.1ZM579.8,311H584.5V316.5H579.8ZM579.8,333.2H584.5V338.7H579.8ZM579.8,349.8H584.5V366.5H579.8ZM584.5,311H589.2V316.5H584.5ZM584.5,349.8H589.2V366.5H584.5ZM589.2,311H593.9V316.5H589.2ZM589.2,355.4H593.9V372H589.2ZM593.9,311H598.6V316.5H593.9ZM593.9,355.4H598.6V372H593.9ZM598.5,305.4H603.2V316.5H598.5ZM598.5,344.3H603.2V355.4H598.5ZM598.5,366.5H603.2V372H598.5ZM603.2,305.4H607.9V316.5H603.2ZM603.2,344.3H607.9V355.4H603.2ZM603.2,366.5H607.9V372H603.2ZM607.9,305.4H612.6V316.5H607.9ZM607.9,338.7H612.6V344.3H607.9ZM607.9,355.4H612.6V366.5H607.9ZM612.6,305.4H617.3V316.5H612.6ZM612.6,338.7H617.3V344.3H612.6ZM612.6,355.4H617.3V366.5H612.6ZM617.3,311H622V322.1H617.3ZM617.3,338.7H622V344.3H617.3ZM617.3,355.4H622V366.5H617.3ZM622,327.6H626.7V333.2H622ZM622,355.4H626.7V366.5H622ZM626.7,327.6H631.4V333.2H626.7ZM626.7,349.8H631.4V366.5H626.7ZM631.4,327.6H636.1V333.2H631.4ZM631.4,360.9H636.1V366.5H631.4ZM636.1,327.6H640.8V333.2H636.1ZM636.1,360.9H640.8V366.5H636.1ZM640.8,327.6H645.5V333.2H640.8ZM640.8,360.9H645.5V366.5H640.8ZM645.5,327.6H650.2V333.2H645.5ZM645.5,355.4H650.2V366.5H645.5ZM650.2,327.6H654.9V333.2H650.2ZM650.2,355.4H654.9V366.5H650.2ZM654.9,327.6H659.6V333.2H654.9ZM654.9,344.3H659.6V366.5H654.9ZM659.6,327.6H664.3V333.2H659.6ZM659.6,338.7H664.3V344.3H659.6ZM659.6,360.9H664.3V366.5H659.6ZM664.3,327.6H669V333.2H664.3ZM664.3,338.7H669V344.3H664.3ZM664.3,349.8H669V366.5H664.3ZM669,327.6H673.7V333.2H669ZM669,338.7H673.7V344.3H669ZM669,360.9H673.7V372H669ZM673.7,327.6H678.4V344.3H673.7ZM673.7,349.8H678.4V366.5H673.7ZM678.4,327.6H683.1V344.3H678.4ZM678.4,349.8H683.1V366.5H678.4ZM683.1,327.6H687.8V344.3H683.1ZM683.1,366.5H687.8V372H683.1ZM687.8,327.6H692.5V344.3H687.8ZM687.8,366.5H692.5V372H687.8ZM692.5,327.6H697.1V344.3H692.5ZM692.5,366.5H697.1V372H692.5ZM697.1,327.6H701.8V344.3H697.1ZM697.1,366.5H701.8V372H697.1ZM701.8,327.6H706.5V344.3H701.8ZM701.8,349.8H706.5V355.4H701.8ZM701.8,360.9H706.5V372H701.8ZM706.5,327.6H711.2V372H706.5ZM711.2,349.8H715.9V372H711.2ZM715.9,338.7H720.6V344.3H715.9ZM715.9,349.8H720.6V372H715.9ZM739.4,333.2H744.1V338.7H739.4ZM739.4,355.4H744.1V360.9H739.4ZM744.1,333.2H748.8V344.3H744.1ZM744.1,360.9H748.8V366.5H744.1ZM753.5,327.6H758.2V333.2H753.5ZM758.2,327.6H762.9V333.2H758.2ZM762.9,349.8H767.6V360.9H762.9ZM767.6,327.6H772.3V333.2H767.6ZM767.6,349.8H772.3V360.9H767.6ZM772.3,327.6H777V333.2H772.3ZM772.3,349.8H777V366.5H772.3ZM777,327.6H781.7V338.7H777ZM777,349.8H781.7V355.4H777ZM781.7,333.2H786.4V338.7H781.7ZM781.7,360.9H786.4V366.5H781.7ZM786.4,338.7H791V366.5H786.4ZM791,322.1H795.7V327.6H791ZM791,333.2H795.7V344.3H791ZM791,360.9H795.7V366.5H791ZM795.7,322.1H800.4V327.6H795.7ZM795.7,333.2H800.4V344.3H795.7ZM795.7,360.9H800.4V366.5H795.7ZM800.4,322.1H805.1V327.6H800.4ZM800.4,360.9H805.1V366.5H800.4ZM805.1,322.1H809.8V327.6H805.1ZM805.1,360.9H809.8V366.5H805.1ZM819.2,344.3H823.9V366.5H819.2ZM833.3,322.1H838V327.6H833.3ZM842.7,349.8H847.4V355.4H842.7ZM852.1,316.5H856.8V322.1H852.1ZM856.8,316.5H861.5V322.1H856.8ZM861.5,316.5H866.2V322.1H861.5ZM861.5,338.7H866.2V366.5H861.5ZM866.2,316.5H870.9V327.6H866.2ZM866.2,338.7H870.9V344.3H866.2ZM866.2,360.9H870.9V366.5H866.2ZM870.9,316.5H875.6V327.6H870.9ZM870.9,338.7H875.6V344.3H870.9ZM870.9,360.9H875.6V366.5H870.9ZM875.6,316.5H880.3V327.6H875.6ZM875.6,338.7H880.3V344.3H875.6ZM875.6,360.9H880.3V366.5H875.6ZM880.2,316.5H884.9V327.6H880.2ZM880.2,338.7H884.9V344.3H880.2ZM880.2,360.9H884.9V366.5H880.2ZM884.9,316.5H889.6V327.6H884.9ZM884.9,338.7H889.6V344.3H884.9ZM884.9,360.9H889.6V366.5H884.9ZM889.6,316.5H894.3V327.6H889.6ZM894.3,316.5H899V327.6H894.3ZM894.3,349.8H899V360.9H894.3ZM899,316.5H903.7V360.9H899ZM903.7,349.8H908.4V360.9H903.7ZM908.4,322.1H913.1V327.6H908.4ZM908.4,349.8H913.1V360.9H908.4ZM917.8,327.6H922.5V333.2H917.8ZM917.8,338.7H922.5V344.3H917.8ZM922.5,316.5H927.2V322.1H922.5ZM922.5,327.6H927.2V333.2H922.5ZM922.5,338.7H927.2V344.3H922.5ZM927.2,316.5H931.9V322.1H927.2ZM931.9,355.4H936.6V360.9H931.9ZM936.6,316.5H941.3V360.9H936.6ZM950.7,322.1H955.4V333.2H950.7ZM955.4,322.1H960.1V338.7H955.4ZM969.5,355.4H974.2V366.5H969.5ZM974.2,327.6H978.8V360.9H974.2ZM978.8,338.7H983.5V349.8H978.8ZM1016.4,322.1H1021.1V349.8H1016.4ZM1030.5,333.2H1035.2V344.3H1030.5ZM1035.2,316.5H1039.9V322.1H1035.2ZM1035.2,333.2H1039.9V338.7H1035.2ZM1039.9,316.5H1044.6V322.1H1039.9ZM1039.9,333.2H1044.6V338.7H1039.9ZM1044.6,316.5H1049.3V322.1H1044.6ZM1049.3,316.5H1054V322.1H1049.3ZM1054,327.6H1058.7V338.7H1054ZM1058.7,327.6H1063.4V338.7H1058.7ZM1063.4,327.6H1068V338.7H1063.4ZM1068.1,327.6H1072.7V333.2H1068.1ZM1072.7,327.6H1077.4V333.2H1072.7ZM1077.4,327.6H1082.1V333.2H1077.4ZM1086.8,316.5H1091.5V322.1H1086.8ZM1091.5,316.5H1096.2V322.1H1091.5Z"/>
<path fill="rgb(191,191,191)" d="M424.8,311H429.5V316.5H424.8ZM424.8,344.3H429.5V349.8H424.8ZM434.2,349.8H438.9V366.5H434.2ZM457.7,360.9H462.4V366.5H457.7ZM471.8,305.4H476.5V311H471.8Z"/>
<path fill="rgb(200,200,200)" d="M410.8,316.5H415.4V322.1H410.8ZM429.5,311H434.2V316.5H429.5ZM429.5,344.3H434.2V349.8H429.5ZM438.9,349.8H443.6V366.5H438.9ZM453,360.9H457.7V366.5H453ZM476.5,305.4H481.2V311H476.5ZM542.2,338.7H546.9V344.3H542.2Z"/>
<path fill="rgb(204,204,204)" d="M156,349.8H180.7V360.9H156ZM185.4,349.8H190.1V355.4H185.4ZM199.5,333.2H204.2V338.7H199.5ZM204.2,333.2H208.9V338.7H204.2ZM208.9,344.3H213.6V366.5H208.9ZM213.6,349.8H218.3V366.5H213.6ZM218.3,355.4H222.9V360.9H218.3ZM222.9,355.4H227.6V360.9H222.9ZM246.4,355.4H251.1V366.5H246.4ZM251.1,355.4H255.8V366.5H251.1ZM260.5,355.4H265.2V360.9H260.5ZM265.2,349.8H269.9V355.4H265.2ZM288.7,344.3H293.4V355.4H288.7ZM293.4,338.7H298.1V344.3H293.4ZM293.4,349.8H298.1V355.4H293.4ZM302.8,344.3H307.5V349.8H302.8ZM307.5,333.2H312.2V338.7H307.5ZM312.2,344.3H316.8V349.8H312.2ZM316.9,322.1H321.5V327.6H316.9ZM321.5,322.1H326.2V327.6H321.5ZM321.5,344.3H326.2V349.8H321.5ZM326.2,322.1H330.9V327.6H326.2ZM326.2,344.3H330.9V349.8H326.2ZM330.9,322.1H335.6V327.6H330.9ZM330.9,344.3H335.6V349.8H330.9ZM340.3,327.6H345V333.2H340.3ZM359.1,333.2H363.8V338.7H359.1ZM359.1,344.3H363.8V349.8H359.1ZM363.8,327.6H368.5V333.2H363.8ZM363.8,349.8H368.5V355.4H363.8ZM368.5,327.6H373.2V333.2H368.5ZM368.5,349.8H373.2V355.4H368.5ZM373.2,333.2H377.9V338.7H373.2ZM377.9,327.6H382.6V333.2H377.9ZM377.9,355.4H382.6V360.9H377.9ZM382.6,327.6H387.3V333.2H382.6ZM382.6,360.9H387.3V366.5H382.6ZM387.3,327.6H392V333.2H387.3ZM392,322.1H396.7V327.6H392ZM396.7,338.7H401.4V349.8H396.7ZM406.1,316.5H410.8V322.1H406.1ZM410.8,338.7H415.4V344.3H410.8ZM415.4,316.5H420.1V322.1H415.4ZM420.1,316.5H424.8V322.1H420.1ZM424.8,316.5H429.5V322.1H424.8ZM429.5,316.5H434.2V322.1H429.5ZM434.2,311H438.9V322.1H434.2ZM434.2,344.3H438.9V349.8H434.2ZM438.9,311H443.6V322.1H438.9ZM438.9,344.3H443.6V349.8H438.9ZM443.6,311H448.3V322.1H443.6ZM443.6,344.3H448.3V366.5H443.6ZM448.3,311H453V322.1H448.3ZM448.3,344.3H453V366.5H448.3ZM453,311H457.7V322.1H453ZM453,344.3H457.7V360.9H453ZM457.7,311H462.4V322.1H457.7ZM457.7,344.3H462.4V360.9H457.7ZM462.4,311H467.1V322.1H462.4ZM462.4,344.3H467.1V360.9H462.4ZM467.1,311H471.8V322.1H467.1ZM467.1,344.3H471.8V360.9H467.1ZM471.8,311H476.5V316.5H471.8ZM471.8,355.4H476.5V360.9H471.8ZM476.5,311H481.2V316.5H476.5ZM476.5,355.4H481.2V360.9H476.5ZM481.2,305.4H485.9V316.5H481.2ZM481.2,355.4H485.9V360.9H481.2ZM485.9,305.4H490.6V316.5H485.9ZM485.9,355.4H490.6V360.9H485.9ZM490.6,305.4H495.3V316.5H490.6ZM490.6,355.4H495.3V360.9H490.6ZM495.3,305.4H500V316.5H495.3ZM495.3,355.4H500V360.9H495.3ZM500,305.4H504.7V316.5H500ZM500,355.4H504.7V360.9H500ZM504.7,305.4H509.3V316.5H504.7ZM504.7,355.4H509.3V360.9H504.7ZM509.3,305.4H514V316.5H509.3ZM509.3,355.4H514V360.9H509.3ZM514,305.4H518.7V316.5H514ZM514,355.4H518.7V360.9H514ZM518.7,305.4H523.4V316.5H518.7ZM518.7,355.4H523.4V360.9H518.7ZM523.4,305.4H528.1V316.5H523.4ZM523.4,355.4H528.1V360.9H523.4ZM528.1,305.4H532.8V316.5H528.1ZM528.1,355.4H532.8V360.9H528.1ZM532.8,305.4H537.5V316.5H532.8ZM532.8,355.4H537.5V360.9H532.8ZM537.5,305.4H542.2V316.5H537.5ZM537.5,355.4H542.2V360.9H537.5ZM542.2,305.4H546.9V316.5H542.2ZM542.2,355.4H546.9V360.9H542.2ZM546.9,305.4H551.6V316.5H546.9ZM546.9,333.2H551.6V338.7H546.9ZM546.9,355.4H551.6V360.9H546.9ZM551.6,305.4H556.3V316.5H551.6ZM551.6,338.7H556.3V349.8H551.6ZM551.6,355.4H556.3V360.9H551.6ZM556.3,305.4H561V316.5H556.3ZM556.3,355.4H561V360.9H556.3ZM561,305.4H565.7V316.5H561ZM561,355.4H565.7V360.9H561ZM565.7,305.4H570.4V316.5H565.7ZM565.7,355.4H570.4V360.9H565.7ZM570.4,338.7H575.1V344.3H570.4ZM570.4,349.8H575.1V360.9H570.4ZM575.1,316.5H579.8V322.1H575.1ZM575.1,349.8H579.8V360.9H575.1ZM579.8,316.5H584.5V322.1H579.8ZM584.5,316.5H589.2V322.1H584.5ZM589.2,316.5H593.9V322.1H589.2ZM589.2,333.2H593.9V338.7H589.2ZM589.2,344.3H593.9V355.4H589.2ZM593.9,316.5H598.6V322.1H593.9ZM598.5,316.5H603.2V322.1H598.5ZM598.5,355.4H603.2V366.5H598.5ZM603.2,316.5H607.9V322.1H603.2ZM603.2,355.4H607.9V366.5H603.2ZM607.9,316.5H612.6V322.1H607.9ZM607.9,333.2H612.6V338.7H607.9ZM612.6,316.5H617.3V322.1H612.6ZM612.6,333.2H617.3V338.7H612.6ZM617.3,322.1H622V338.7H617.3ZM631.4,355.4H636.1V360.9H631.4ZM636.1,355.4H640.8V360.9H636.1ZM640.8,355.4H645.5V360.9H640.8ZM645.5,333.2H650.2V355.4H645.5ZM650.2,333.2H654.9V355.4H650.2ZM654.9,333.2H659.6V344.3H654.9ZM659.6,333.2H664.3V338.7H659.6ZM664.3,333.2H669V338.7H664.3ZM669,333.2H673.7V338.7H669ZM669,355.4H673.7V360.9H669ZM683.1,344.3H687.8V355.4H683.1ZM687.8,344.3H692.5V355.4H687.8ZM692.5,344.3H697.1V355.4H692.5ZM697.1,344.3H701.8V360.9H697.1ZM701.8,344.3H706.5V349.8H701.8ZM701.8,355.4H706.5V360.9H701.8ZM739.4,327.6H744.1V333.2H739.4ZM744.1,344.3H748.8V360.9H744.1ZM777,355.4H781.7V366.5H777ZM781.7,338.7H786.4V360.9H781.7ZM833.3,327.6H838V333.2H833.3Z"/>
<path fill="rgb(208,208,208)" d="M415.4,338.7H420.1V344.3H415.4ZM471.8,316.5H476.5V322.1H471.8ZM471.8,344.3H476.5V355.4H471.8ZM537.5,344.3H542.2V355.4H537.5Z"/>
<path fill="rgb(212,212,212)" d="M542.2,333.2H546.9V338.7H542.2Z"/>
<path fill="rgb(217,217,217)" d="M420.1,338.7H424.8V344.3H420.1ZM476.5,316.5H481.2V322.1H476.5ZM476.5,344.3H481.2V355.4H476.5Z"/>
<path fill="rgb(221,221,221)" d="M156,338.7H180.7V349.8H156ZM185.4,338.7H190.1V349.8H185.4ZM190.1,338.7H194.8V366.5H190.1ZM265.2,355.4H269.9V360.9H265.2ZM293.4,344.3H298.1V349.8H293.4ZM302.8,338.7H307.5V344.3H302.8ZM307.5,338.7H312.2V344.3H307.5ZM312.2,333.2H316.8V338.7H312.2ZM316.9,327.6H321.5V333.2H316.9ZM316.9,344.3H321.5V349.8H316.9ZM321.5,327.6H326.2V333.2H321.5ZM326.2,327.6H330.9V333.2H326.2ZM330.9,327.6H335.6V333.2H330.9ZM345,333.2H349.7V344.3H345ZM349.7,338.7H354.4V344.3H349.7ZM354.4,338.7H359.1V344.3H354.4ZM359.1,338.7H363.8V344.3H359.1ZM363.8,333.2H368.5V349.8H363.8ZM368.5,333.2H373.2V349.8H368.5ZM373.2,338.7H377.9V349.8H373.2ZM377.9,333.2H382.6V355.4H377.9ZM382.6,333.2H387.3V360.9H382.6ZM392,327.6H396.7V333.2H392ZM396.7,322.1H401.4V327.6H396.7ZM401.4,322.1H406.1V327.6H401.4ZM401.4,338.7H406.1V344.3H401.4ZM406.1,322.1H410.8V327.6H406.1ZM406.1,338.7H410.8V344.3H406.1ZM410.8,322.1H415.4V327.6H410.8ZM415.4,322.1H420.1V327.6H415.4ZM415.4,333.2H420.1V338.7H415.4ZM420.1,322.1H424.8V327.6H420.1ZM420.1,333.2H424.8V338.7H420.1ZM424.8,322.1H429.5V327.6H424.8ZM424.8,333.2H429.5V344.3H424.8ZM429.5,322.1H434.2V327.6H429.5ZM429.5,333.2H434.2V344.3H429.5ZM434.2,322.1H438.9V344.3H434.2ZM438.9,322.1H443.6V344.3H438.9ZM443.6,322.1H448.3V344.3H443.6ZM448.3,322.1H453V344.3H448.3ZM453,322.1H457.7V344.3H453ZM457.7,322.1H462.4V344.3H457.7ZM462.4,322.1H467.1V344.3H462.4ZM467.1,322.1H471.8V344.3H467.1ZM471.8,322.1H476.5V327.6H471.8ZM476.5,322.1H481.2V327.6H476.5ZM481.2,316.5H485.9V322.1H481.2ZM481.2,344.3H485.9V355.4H481.2ZM485.9,316.5H490.6V322.1H485.9ZM485.9,344.3H490.6V355.4H485.9ZM490.6,316.5H495.3V322.1H490.6ZM490.6,344.3H495.3V355.4H490.6ZM495.3,316.5H500V322.1H495.3ZM495.3,344.3H500V355.4H495.3ZM500,316.5H504.7V322.1H500ZM500,344.3H504.7V355.4H500ZM504.7,316.5H509.3V322.1H504.7ZM504.7,344.3H509.3V355.4H504.7ZM509.3,316.5H514V322.1H509.3ZM509.3,344.3H514V355.4H509.3ZM514,316.5H518.7V322.1H514ZM514,344.3H518.7V355.4H514ZM518.7,316.5H523.4V322.1H518.7ZM518.7,344.3H523.4V355.4H518.7ZM523.4,316.5H528.1V322.1H523.4ZM523.4,344.3H528.1V355.4H523.4ZM528.1,316.5H532.8V322.1H528.1ZM528.1,344.3H532.8V355.4H528.1ZM532.8,316.5H537.5V322.1H532.8ZM532.8,344.3H537.5V355.4H532.8ZM537.5,316.5H542.2V327.6H537.5ZM542.2,316.5H546.9V327.6H542.2ZM546.9,316.5H551.6V333.2H546.9ZM551.6,316.5H556.3V338.7H551.6ZM551.6,349.8H556.3V355.4H551.6ZM556.3,316.5H561V355.4H556.3ZM561,316.5H565.7V355.4H561ZM565.7,316.5H570.4V355.4H565.7ZM570.4,327.6H575.1V333.2H570.4ZM570.4,344.3H575.1V349.8H570.4ZM575.1,322.1H579.8V333.2H575.1ZM575.1,338.7H579.8V349.8H575.1ZM579.8,322.1H584.5V333.2H579.8ZM584.5,327.6H589.2V333.2H584.5ZM589.2,327.6H593.9V333.2H589.2ZM589.2,338.7H593.9V344.3H589.2ZM593.9,322.1H598.6V344.3H593.9ZM598.5,322.1H603.2V344.3H598.5ZM603.2,322.1H607.9V344.3H603.2ZM607.9,322.1H612.6V333.2H607.9ZM612.6,322.1H617.3V333.2H612.6ZM622,338.7H626.7V344.3H622ZM626.7,338.7H631.4V344.3H626.7ZM631.4,333.2H636.1V349.8H631.4ZM636.1,333.2H640.8V349.8H636.1ZM640.8,333.2H645.5V349.8H640.8ZM669,344.3H673.7V355.4H669ZM683.1,355.4H687.8V366.5H683.1ZM687.8,355.4H692.5V366.5H687.8ZM692.5,355.4H697.1V366.5H692.5ZM697.1,360.9H701.8V366.5H697.1ZM711.2,344.3H715.9V349.8H711.2ZM715.9,344.3H720.6V349.8H715.9ZM744.1,327.6H748.8V333.2H744.1Z"/>
<path fill="rgb(225,225,225)" d="M410.8,333.2H415.4V338.7H410.8ZM429.5,327.6H434.2V333.2H429.5ZM471.8,327.6H476.5V344.3H471.8ZM481.2,322.1H485.9V327.6H481.2ZM532.8,322.1H537.5V327.6H532.8ZM537.5,338.7H542.2V344.3H537.5ZM542.2,327.6H546.9V333.2H542.2Z"/>
<path fill="rgb(230,230,230)" d="M537.5,333.2H542.2V338.7H537.5Z"/>
<path fill="rgb(234,234,234)" d="M424.8,327.6H429.5V333.2H424.8ZM476.5,327.6H481.2V344.3H476.5ZM485.9,322.1H490.6V327.6H485.9ZM528.1,322.1H532.8V327.6H528.1ZM537.5,327.6H542.2V333.2H537.5Z"/>
<path fill="rgb(238,238,238)" d="M312.2,338.7H316.8V344.3H312.2ZM316.9,333.2H321.5V344.3H316.9ZM321.5,333.2H326.2V344.3H321.5ZM326.2,333.2H330.9V338.7H326.2ZM330.9,333.2H335.6V338.7H330.9ZM340.3,333.2H345V344.3H340.3ZM387.3,333.2H392V338.7H387.3ZM392,333.2H396.7V338.7H392ZM396.7,327.6H401.4V338.7H396.7ZM401.4,327.6H406.1V338.7H401.4ZM406.1,333.2H410.8V338.7H406.1ZM410.8,327.6H415.4V333.2H410.8ZM415.4,327.6H420.1V333.2H415.4ZM420.1,327.6H424.8V333.2H420.1ZM481.2,333.2H485.9V344.3H481.2ZM485.9,333.2H490.6V344.3H485.9ZM490.6,322.1H495.3V327.6H490.6ZM490.6,333.2H495.3V344.3H490.6ZM495.3,322.1H500V327.6H495.3ZM495.3,333.2H500V344.3H495.3ZM500,322.1H504.7V327.6H500ZM500,338.7H504.7V344.3H500ZM504.7,322.1H509.3V327.6H504.7ZM504.7,338.7H509.3V344.3H504.7ZM509.3,322.1H514V327.6H509.3ZM509.3,338.7H514V344.3H509.3ZM514,322.1H518.7V327.6H514ZM514,338.7H518.7V344.3H514ZM518.7,322.1H523.4V333.2H518.7ZM518.7,338.7H523.4V344.3H518.7ZM523.4,322.1H528.1V333.2H523.4ZM523.4,338.7H528.1V344.3H523.4ZM528.1,327.6H532.8V333.2H528.1ZM528.1,338.7H532.8V344.3H528.1ZM532.8,327.6H537.5V333.2H532.8ZM532.8,338.7H537.5V344.3H532.8ZM584.5,322.1H589.2V327.6H584.5ZM589.2,322.1H593.9V327.6H589.2ZM622,333.2H626.7V338.7H622ZM626.7,333.2H631.4V338.7H626.7Z"/>
<path fill="rgb(242,242,242)" d="M481.2,327.6H485.9V333.2H481.2ZM495.3,327.6H500V333.2H495.3ZM500,327.6H504.7V338.7H500ZM514,327.6H518.7V338.7H514ZM518.7,333.2H523.4V338.7H518.7ZM532.8,333.2H537.5V338.7H532.8Z"/>
<path fill="rgb(251,251,251)" d="M485.9,327.6H490.6V333.2H485.9ZM490.6,327.6H495.3V333.2H490.6ZM504.7,327.6H509.3V338.7H504.7ZM509.3,327.6H514V338.7H509.3ZM523.4,333.2H528.1V338.7H523.4ZM528.1,333.2H532.8V338.7H528.1Z"/>
<path fill="rgb(255,255,255)" d="M326.2,338.7H330.9V344.3H326.2ZM330.9,338.7H335.6V344.3H330.9ZM406.1,327.6H410.8V333.2H406.1Z"/>
</g></g>
<g stroke="#000" fill="none" shape-rendering="crispEdges">
<path d="M175,285 V397" stroke-width="2"/>
<path d="M174,286 H191" stroke-width="2"/>
<path d="M174,397.5 H1116" stroke-width="1"/>
<path d="M1115.5,381 V398" stroke-width="1"/>
</g>
<defs><linearGradient id="jet" x1="0" y1="1" x2="0" y2="0">
<stop offset="0.0000" stop-color="#000080"/>
<stop offset="0.0156" stop-color="#00008f"/>
<stop offset="0.0312" stop-color="#00009f"/>
<stop offset="0.0469" stop-color="#0000af"/>
<stop offset="0.0625" stop-color="#0000bf"/>
<stop offset="0.0781" stop-color="#0000cf"/>
<stop offset="0.0938" stop-color="#0000df"/>
<stop offset="0.1094" stop-color="#0000ef"/>
<stop offset="0.1250" stop-color="#0000ff"/>
<stop offset="0.1406" stop-color="#0010ff"/>
<stop offset="0.1562" stop-color="#0020ff"/>
<stop offset="0.1719" stop-color="#0030ff"/>
<stop offset="0.1875" stop-color="#0040ff"/>
<stop offset="0.2031" stop-color="#0050ff"/>
<stop offset="0.2188" stop-color="#0060ff"/>
<stop offset="0.2344" stop-color="#0070ff"/>
<stop offset="0.2500" stop-color="#0080ff"/>
<stop offset="0.2656" stop-color="#008fff"/>
<stop offset="0.2812" stop-color="#009fff"/>
<stop offset="0.2969" stop-color="#00afff"/>
<stop offset="0.3125" stop-color="#00bfff"/>
<stop offset="0.3281" stop-color="#00cfff"/>
<stop offset="0.3438" stop-color="#00dfff"/>
<stop offset="0.3594" stop-color="#00efff"/>
<stop offset="0.3750" stop-color="#00ffff"/>
<stop offset="0.3906" stop-color="#10ffef"/>
<stop offset="0.4062" stop-color="#20ffdf"/>
<stop offset="0.4219" stop-color="#30ffcf"/>
<stop offset="0.4375" stop-color="#40ffbf"/>
<stop offset="0.4531" stop-color="#50ffaf"/>
<stop offset="0.4688" stop-color="#60ff9f"/>
<stop offset="0.4844" stop-color="#70ff8f"/>
<stop offset="0.5000" stop-color="#80ff80"/>
<stop offset="0.5156" stop-color="#8fff70"/>
<stop offset="0.5312" stop-color="#9fff60"/>
<stop offset="0.5469" stop-color="#afff50"/>
<stop offset="0.5625" stop-color="#bfff40"/>
<stop offset="0.5781" stop-color="#cfff30"/>
<stop offset="0.5938" stop-color="#dfff20"/>
<stop offset="0.6094" stop-color="#efff10"/>
<stop offset="0.6250" stop-color="#ffff00"/>
<stop offset="0.6406" stop-color="#ffef00"/>
<stop offset="0.6562" stop-color="#ffdf00"/>
<stop offset="0.6719" stop-color="#ffcf00"/>
<stop offset="0.6875" stop-color="#ffbf00"/>
<stop offset="0.7031" stop-color="#ffaf00"/>
<stop offset="0.7188" stop-color="#ff9f00"/>
<stop offset="0.7344" stop-color="#ff8f00"/>
<stop offset="0.7500" stop-color="#ff8000"/>
<stop offset="0.7656" stop-color="#ff7000"/>
<stop offset="0.7812" stop-color="#ff6000"/>
<stop offset="0.7969" stop-color="#ff5000"/>
<stop offset="0.8125" stop-color="#ff4000"/>
<stop offset="0.8281" stop-color="#ff3000"/>
<stop offset="0.8438" stop-color="#ff2000"/>
<stop offset="0.8594" stop-color="#ff1000"/>
<stop offset="0.8750" stop-color="#ff0000"/>
<stop offset="0.8906" stop-color="#ef0000"/>
<stop offset="0.9062" stop-color="#df0000"/>
<stop offset="0.9219" stop-color="#cf0000"/>
<stop offset="0.9375" stop-color="#bf0000"/>
<stop offset="0.9531" stop-color="#af0000"/>
<stop offset="0.9688" stop-color="#9f0000"/>
<stop offset="0.9844" stop-color="#8f0000"/>
<stop offset="1.0000" stop-color="#800000"/>
</linearGradient></defs>
<rect x="1146.5" y="73.5" width="42" height="111" fill="url(#jet)" stroke="#000" stroke-width="1"/>
<path d="M1146,166.5 h3 M1189,166.5 h-3" stroke="#000" stroke-width="1" shape-rendering="crispEdges"/>
<path d="M1146,128.5 h3 M1189,128.5 h-3" stroke="#000" stroke-width="1" shape-rendering="crispEdges"/>
<path d="M1146,92.5 h3 M1189,92.5 h-3" stroke="#000" stroke-width="1" shape-rendering="crispEdges"/>
<rect x="1146.5" y="286.5" width="42" height="111" fill="url(#jet)" stroke="#000" stroke-width="1"/>
<path d="M1146,378.5 h3 M1189,378.5 h-3" stroke="#000" stroke-width="1" shape-rendering="crispEdges"/>
<path d="M1146,342.5 h3 M1189,342.5 h-3" stroke="#000" stroke-width="1" shape-rendering="crispEdges"/>
<path d="M1146,304.5 h3 M1189,304.5 h-3" stroke="#000" stroke-width="1" shape-rendering="crispEdges"/>
<polyline fill="none" stroke="#000" stroke-width="3" stroke-linejoin="round" points="176,527.5 183.8,527.5 187.7,533 195.6,533 199.5,533 207.3,533 211.2,499.7 219,499.7 222.9,496 230.8,496 234.7,505.3 242.5,505.3 246.4,511.8 254.2,511.8 258.2,514.5 266,514.5 269.9,521 277.7,521 281.6,527.5 289.5,527.5 293.4,530.2 301.2,530.2 305.1,533 312.9,533 316.9,530.2 324.7,530.2 328.6,530.2 336.4,530.2 340.3,536.7 348.2,536.7 352.1,533 359.9,533 363.8,530.2 371.6,530.2 375.5,523.8 383.4,523.8 387.3,533 395.1,533 399,542.3 406.8,542.3 410.8,539.5 418.6,539.5 422.5,527.5 430.3,527.5 434.2,527.5 442.1,527.5 446,533 453.8,533 457.7,530.2 465.5,530.2 469.4,530.2 477.3,530.2 481.2,530.2 489,530.2 492.9,536.7 500.7,536.7 504.7,536.7 512.5,536.7 516.4,536.7 524.2,536.7 528.1,542.3 536,542.3 539.9,542.3 547.7,542.3 551.6,542.3 559.4,542.3 563.3,539.5 571.2,539.5 575.1,546 582.9,546 586.8,546 594.6,546 598.5,548.8 606.4,548.8 610.3,546 618.1,546 622,539.5 629.9,539.5 633.8,539.5 641.6,539.5 645.5,530.2 653.3,530.2 657.2,530.2 665.1,530.2 669,539.5 676.8,539.5 680.7,546 688.5,546 692.5,536.7 700.3,536.7 704.2,539.5 712,539.5 715.9,530.2 723.8,530.2 727.7,539.5 735.5,539.5 739.4,539.5 747.2,539.5 751.1,533 759,533 762.9,536.7 770.7,536.7 774.6,536.7 782.4,536.7 786.4,533 794.2,533 798.1,542.3 805.9,542.3 809.8,551.5 817.7,551.5 821.6,546 829.4,546 833.3,548.8 841.1,548.8 845,548.8 852.9,548.8 856.8,548.8 864.6,548.8 868.5,542.3 876.3,542.3 880.2,548.8 888.1,548.8 892,546 899.8,546 903.7,542.3 911.6,542.3 915.5,546 923.3,546 927.2,533 935,533 938.9,530.2 946.8,530.2 950.7,533 958.5,533 962.4,527.5 970.2,527.5 974.2,527.5 982,527.5 985.9,527.5 993.7,527.5 997.6,548.8 1005.5,548.8 1009.4,548.8 1017.2,548.8 1021.1,548.8 1028.9,548.8 1032.8,546 1040.7,546 1044.6,546 1052.4,546 1056.3,546 1064.1,546 1068.1,542.3 1075.9,542.3 1079.8,546 1087.6,546 1091.5,546 1099.4,546 1103.3,542.3 1111.1,542.3 1115,539.5"/>
<g stroke="#000" fill="none" stroke-width="4" shape-rendering="crispEdges">
<rect x="176" y="484" width="939" height="74"/>
<path d="M223,484v5 M223,558v-5 M270,484v10 M270,558v-10 M317,484v5 M317,558v-5 M364,484v10 M364,558v-10 M411,484v5 M411,558v-5 M458,484v10 M458,558v-10 M505,484v5 M505,558v-5 M552,484v10 M552,558v-10 M599,484v5 M599,558v-5 M646,484v10 M646,558v-10 M692,484v5 M692,558v-5 M739,484v10 M739,558v-10 M786,484v5 M786,558v-5 M833,484v10 M833,558v-10 M880,484v5 M880,558v-5 M927,484v10 M927,558v-10 M974,484v5 M974,558v-5 M1021,484v10 M1021,558v-10 M1068,484v5 M1068,558v-5"/>
<path d="M176,521h10 M1115,521h-10 M176,540h5 M1115,540h-5 M176,502h5 M1115,502h-5"/>
</g>
<polyline fill="none" stroke="#000" stroke-width="3" stroke-linejoin="round" points="176,623.5 176.2,623.3 180.2,623.8 184.2,623.2 187.8,618.3 191.3,616 194.7,615.7 198.1,616.2 201.4,615.7 204.8,616.1 208.2,615.7 211.7,622.3 214.8,628 217.6,608.9 220.3,608.2 223.3,618.9 226.5,631.8 231.3,634.7 234.8,639.7 238.4,636.9 242.4,637.4 246.4,636.5 249.9,641.8 253.5,643.3 257,643.2 261.5,637.8 265.9,639.8 269.5,637.8 273.9,636.1 278.4,633 281.9,631.2 285.5,629.2 289,629.7 292.6,629.6 297,628.9 301.5,628.3 305,628.8 308.6,628.5 313,625.2 316.6,624.3 321,626.3 324.6,627.9 329.9,625.4 334.3,623.5 337.9,622.3 341.4,621.9 344.5,621.7 347.6,621.9 353,623.5 358.3,623.1 363.6,620.2 367.2,619.1 370.7,619.1 375.2,621.4 379.6,619.4 385,618.8 388.5,619 392.1,620.3 395.6,619.7 399.2,618.9 402.7,620.1 403.6,619 408.9,616.7 412.4,616.2 416,615.7 419.5,615.2 423.1,615.1 426.6,617.9 432,620.4 436.4,618.8 441.7,617 447.1,619 450.1,619 453.1,619.3 456.1,619.2 459.2,618.6 462.2,618.7 465.7,617.7 469.3,615.7 473.7,616.1 478.2,615.8 482.6,616.7 487,617.5 492.4,617.7 497.7,618.5 502.1,619 506.6,619.6 510.1,621.3 513.7,621.8 517.2,622.2 520.8,622.3 524.4,622.6 527.9,621.6 531.5,620.8 535,621.8 538.6,623.6 543.9,620.8 549.2,616.9 552.8,616.9 556.3,615.9 559.9,615.8 563.4,615.7 568.8,614.5 571.9,614 575,613.4 578.8,613.2 582.7,613 586.5,613.4 591,613.8 595.4,614.5 599.9,615 604.3,614.9 608.7,616.1 613.2,617.5 616.7,618.5 620.3,618.7 624.7,622.6 630.1,619.5 633.6,619.6 637.1,619.5 640.7,619.1 646,617 649.1,615.7 652.2,615.2 655.5,614.7 658.9,614.7 662.2,614.8 665.5,614.8 669.1,617 672.6,618.7 677.1,621.1 681.5,623.6 685.1,623.2 688.6,623 692.2,622.3 695.7,624.9 699.3,626.4 702.8,627.7 705.9,627.8 709.1,627.9 712.2,627.9 715.3,627.7 720.6,625.8 724.2,620.2 729.5,617.9 733,616.2 736.6,614 740.1,613.6 743.7,613.4 747.2,612.1 750.8,611.5 754.4,611.6 757.9,612.1 761.5,614.1 765,614.8 769.5,614.8 773.9,615.7 777,616.1 780.1,617.4 783.2,615 786.3,611.9 789.4,610.7 792.5,609.2 797.9,611.1 801.9,609.5 805.9,608.8 810.3,608.1 814.8,607.9 818.3,606.6 823.6,608.6 829,610.3 832.5,609.7 836.1,608.9 840.5,607.8 845,606.7 849.4,607 853.8,606.8 857.4,606.8 860.9,606.4 864.5,605.8 866,606.1 870,606.3 874,606.2 878,606.6 881.7,608.2 885.3,609.1 889,611 892.1,610.2 895.3,609.3 898.5,607.8 901.6,606.8 904.8,606 908,605.1 911.1,604.6 914.2,604.5 917.4,604.3 920.5,603.8 923.7,602.9 926.8,602.6 929.9,602.3 933.4,601.5 936.8,602 940.2,602.2 943.7,602 947.1,601.9 950.5,601.6 953.9,601.3 957.9,603.1 961.9,603.8 966.9,602.9 970.4,605.3 973.9,606.9 977.6,610 981.2,613.7 984.9,616.6 989.9,612.2 993.9,612.2 997.9,612.2 1003.9,610 1007.9,609.2 1011.9,607.9 1015.9,607.9 1019.9,608.5 1023.9,608.7 1027.9,608.8 1031.9,608 1035.9,606.6 1039.1,607.1 1042.4,608.8 1045.6,609.1 1048.9,609.6 1052.5,609.5 1056.2,608.4 1059.9,608.4 1063.2,607.8 1066.5,606.7 1069.8,606.2 1073.2,605.8 1076.5,605.2 1079.8,605.1 1083.3,603.9 1086.8,603.3 1091.8,605.2 1095.3,606 1098.8,605.4 1102.3,605.5 1105.8,605.7 1109.3,606 1112.8,605.5 1115,605.6"/>
<g stroke="#000" fill="none" stroke-width="4" shape-rendering="crispEdges">
<rect x="176" y="587" width="939" height="74"/>
<path d="M176,624h10 M1115,624h-10 M176,606h5 M1115,606h-5 M176,642h5 M1115,642h-5"/>
</g>
<polyline fill="none" stroke="#0c0c86" stroke-width="6" stroke-linejoin="round" points="176.2,714 178.3,717.2 180.4,717.4 182.4,718.6 184.5,720.1 186.5,718.9"/>
<polyline fill="none" stroke="#0c0c86" stroke-width="6" stroke-linejoin="round" points="683,736.3 683.3,737.7 685.4,736.1 687.6,737 689.7,739.2 691.8,737.6 694,738 696,738.7 698.1,739 700.2,738.1 702.2,737.9 704.3,736.5 706.4,736.2 708.6,737.4 710.8,735.8 713,736.8 715.3,738 717.6,735.8 720,735 722.4,735.6 723,734.7"/>
<polyline fill="none" stroke="#0c0c86" stroke-width="6" stroke-linejoin="round" points="789,718.6 791.7,719 793.9,723.1 796.1,727.3 798.3,725.3 800.5,723.5 802.8,722.5 805,721.1 807.2,719.8 809.4,717.4 811.6,716.6 813.9,716.1 816.1,715 818.3,715.2 820.4,712.8 822.5,711.8 824.5,709.6 825,710.6"/>
<polyline fill="none" stroke="#0c0c86" stroke-width="6" stroke-linejoin="round" points="881,720.5 885,718.2 887.3,720.4 889.6,723 892,724.1 894.6,722.8 897.3,720.9 900,720.7 902.5,719.8 905,721.3 908,721.9 911,723 913.3,720.7 915.6,720.3 918,719.8 921,716.1 924,715.3 927,717.4"/>
<polyline fill="none" stroke="#0c0c86" stroke-width="6" stroke-linejoin="round" points="963,719 963.9,718.4 966.9,722.5 969.9,729.1 972.9,733.6 975.9,733.8 979.9,727.3 983.9,709.4 986.9,711.1 989.9,714.3 992.4,716.2 994.9,716 997.4,718 999.9,718 1002.2,718.3 1004.6,715.3 1006.9,713.2 1007,714"/>
<polyline fill="none" stroke="#0c0c86" stroke-width="6" stroke-linejoin="round" points="1050,720.5 1052.5,720.2 1054.9,718.8 1057.4,717.6 1059.9,717.8 1062.8,721.4 1065.8,723.2 1068.8,723.1 1071.8,721.7 1075.8,717.8 1078.8,717.1 1081.8,714.2 1084.8,714.5 1087.8,716 1090.8,721.6 1093.8,723.9 1096.5,724.8 1099.2,726.6 1101.8,727.7 1104.8,724.5 1107.8,723.8 1110.3,718.3 1112.8,715.1 1115,715"/>
<polyline fill="none" stroke="#000" stroke-width="3" stroke-linejoin="round" points="176.2,715.1 182.4,719.5 187.8,718.6 193.1,716.3 198.4,716.3 202.9,720.4 208.2,730.2 214.4,738.2 219.7,741.7 225.1,741.7 231.3,738.7 237.5,735.2 242.8,733.7 253.5,733.4 264.2,731.1 274.8,726.6 281.9,725.4 294.4,726.1 305,725.2 315.7,726.1 321.9,728.4 328.1,726.6 335.2,724 342.3,723.4 351.2,725.7 363.6,725.7 370.7,728.4 376.1,730.2 381.4,729.3 388.5,724 397.4,721 404.5,720.4 400,720.8 407.1,720.8 414.2,724.9 421.3,729.8 427.5,731.1 433.8,729.3 442.6,726.1 453.3,725.7 467.5,726.1 478.2,727 487,725.7 495.9,724.5 504.8,726.3 511.9,727.9 520.8,726.6 531.5,724 543.9,722.2 551,722.2 561.7,724.5 567,724 574.1,721.3 584.8,721.3 593.6,721.8 602.5,722.2 609.6,724.5 616.7,727.5 623.8,728.1 630.9,726.3 630,726.6 637.1,726.3 644.2,728.4 653.1,731.1 663.8,731.1 672.6,730.5 678,732.3 683.3,736.8 694,739.1 706.4,736.4 715.3,736.9 722.4,735.5 726.8,729.8 731.3,726.3 738.4,724.9 745.5,726.6 752.6,729.3 759.7,727.5 766.8,725.7 777.4,724.9 788.1,718.6 791.7,718.6 796.1,727.5 800.5,724 809.4,717.8 818.3,715.1 824.5,710.3 830.7,714.2 839.6,717.4 852.1,717.4 860.9,720.4 860,720 869,723.6 878,721 885,719 892,723.6 900,720 905,722 911,723 918,719.6 924,715 928.9,719 934.9,723 943.9,721.6 955.9,719.6 963.9,717.6 966.9,723 969.9,730 975.9,735 979.9,727 983.9,710 989.9,714 999.9,719 1006.9,714 1013.9,715 1021.9,718.4 1031.9,721 1049.9,721 1059.9,717 1065.8,724 1071.8,721 1075.8,718 1081.8,714 1087.8,717 1093.8,724 1101.8,727 1107.8,723 1112.8,715 1115,715"/>
<g stroke="#000" fill="none" stroke-width="4" shape-rendering="crispEdges">
<rect x="176" y="690" width="939" height="74"/>
<path d="M223,690v5 M223,764v-5 M270,690v10 M270,764v-10 M317,690v5 M317,764v-5 M364,690v10 M364,764v-10 M411,690v5 M411,764v-5 M458,690v10 M458,764v-10 M505,690v5 M505,764v-5 M552,690v10 M552,764v-10 M599,690v5 M599,764v-5 M646,690v10 M646,764v-10 M692,690v5 M692,764v-5 M739,690v10 M739,764v-10 M786,690v5 M786,764v-5 M833,690v10 M833,764v-10 M880,690v5 M880,764v-5 M927,690v10 M927,764v-10 M974,690v5 M974,764v-5 M1021,690v10 M1021,764v-10 M1068,690v5 M1068,764v-5"/>
<path d="M176,702h10 M1115,702h-10 M176,727h10 M1115,727h-10 M176,752h10 M1115,752h-10 M176,715h5 M1115,715h-5 M176,739h5 M1115,739h-5"/>
</g>
<polyline fill="none" stroke="#0c0c86" stroke-width="6" stroke-linejoin="round" points="176.2,859 178.4,854.8 180.7,853.9 181,853"/>
<polyline fill="none" stroke="#0c0c86" stroke-width="6" stroke-linejoin="round" points="673.5,861.4 673.5,863.3 676.2,861.6 678.9,860.7 681.5,859.1 684.2,857.6 686.8,857.6 689.5,858.2 692.2,859.8 694.4,860.7 696.6,860.6 698.8,859.2 701.1,857.9 703.4,858.9 705.8,860.1 708.2,861.2 710.5,861.2 712.9,861.1 715.3,862.5 717.6,861.5 720,861.2 722.4,860.7 722.5,860.2"/>
<polyline fill="none" stroke="#0c0c86" stroke-width="6" stroke-linejoin="round" points="789,852.9 791.7,851.9 794.3,854.2 797,855.2 799.2,855.8 801.4,856.1 803.6,856.1 805.9,855.8 807.9,855.6 810,853.6 812.1,853.2 814.2,853.7 816.2,854 818.3,852.7 820,853.8"/>
<polyline fill="none" stroke="#0c0c86" stroke-width="6" stroke-linejoin="round" points="883,856.3 885.5,857.3 888,856.4 890.6,857.5 893.3,859.1 896,859.3 898.5,858.8 901,856.7 903.5,855.9 906,856 908.4,856.7 910.8,857.2 913.2,856.4 915.6,857.9 918,857.8 921,859 924,859.5 927,857.4"/>
<polyline fill="none" stroke="#0c0c86" stroke-width="6" stroke-linejoin="round" points="965,854.1 967.5,854.7 969.9,858.1 972.4,857.9 974.9,856.1 977.4,858.2 979.9,857.1 982.4,857.2 984.9,858.3 987.4,857.7 989.9,858.5 992.3,858.6 994.7,859.7 997.1,859.3 999.5,857.8 1001.9,858 1003.9,857.4 1006,858.8"/>
<polyline fill="none" stroke="#0c0c86" stroke-width="6" stroke-linejoin="round" points="1051,859.4 1053.2,860.6 1055.4,858.1 1057.6,859.1 1059.9,858.8 1062.5,858.1 1065.2,860.3 1067.8,860.7 1070.3,860 1072.8,858.9 1075.3,859.4 1077.8,860.1 1080.5,857.7 1083.2,858.4 1085.8,857.9 1088.5,857.8 1091.2,858.3 1093.8,858.2 1096.5,860 1099.2,861.7 1101.8,861.5 1104,861.7 1106.2,862.2 1108.4,861.5 1110.6,860.6 1112.8,860.1 1115,860.5"/>
<polyline fill="none" stroke="#000" stroke-width="3" stroke-linejoin="round" points="176.2,858.1 180.7,853.1 186.9,851.8 193.1,846.5 198.4,843 202,838.5 206.4,827 212.6,811.9 217.1,799.4 219.7,794.1 222.4,803 228.6,815.4 235.7,828.7 244.6,837.6 253.5,843.8 260.6,848.3 269.5,851 280.1,852.4 290.8,853.6 301.5,855.9 310.3,856.6 322.8,855.4 333.4,855.9 344.1,857.2 354.8,856.6 363.6,855.4 370.7,853.6 379.6,852.4 386.7,853.6 393.8,856.6 400.9,858.9 400,858.9 407.1,858.9 416,855.9 423.1,853.6 432,853.1 442.6,854.9 453.3,855.4 464,854.2 474.6,853.1 485.3,853.6 495.9,856.3 506.6,857.2 517.2,858.1 527.9,860.7 538.6,862.5 549.2,860.2 563.4,858.9 577.6,860.2 591.9,860.2 602.5,861.6 613.2,861.3 629.2,861.3 630,861.6 638.9,859.8 647.8,855.9 656.6,854.5 665.5,856.6 673.5,862.5 681.5,858.9 686.8,856.6 692.2,860.2 701.1,858.9 708.2,861.6 715.3,861.3 722.4,860.2 736.6,858.9 745.5,855.9 754.4,854.5 761.5,855.4 768.6,857.2 777.4,855.9 786.3,853.6 791.7,851.8 797,855.4 805.9,854.9 818.3,853.6 825.4,854.5 832.5,858.1 843.2,859.5 857.4,858.9 860,858.9 870,856.9 882,856.9 888,857.3 896,859.3 906,855.9 918,857.9 924,858.9 929.9,855.9 935.9,854.5 947.9,854.9 959.9,854.4 964.9,853.4 969.9,856.9 979.9,857.3 989.9,858.9 1001.9,857.9 1011.9,859.9 1019.9,861.3 1031.9,861.3 1049.9,860.5 1059.9,858.3 1067.8,859.9 1077.8,858.9 1085.8,857.3 1093.8,859.3 1101.8,861.3 1112.8,860.5 1115,860.5"/>
<g stroke="#000" fill="none" stroke-width="4" shape-rendering="crispEdges">
<rect x="176" y="793" width="939" height="74"/>
<path d="M223,793v5 M223,867v-5 M270,793v10 M270,867v-10 M317,793v5 M317,867v-5 M364,793v10 M364,867v-10 M411,793v5 M411,867v-5 M458,793v10 M458,867v-10 M505,793v5 M505,867v-5 M552,793v10 M552,867v-10 M599,793v5 M599,867v-5 M646,793v10 M646,867v-10 M692,793v5 M692,867v-5 M739,793v10 M739,867v-10 M786,793v5 M786,867v-5 M833,793v10 M833,867v-10 M880,793v5 M880,867v-5 M927,793v10 M927,867v-10 M974,793v5 M974,867v-5 M1021,793v10 M1021,867v-10 M1068,793v5 M1068,867v-5"/>
<path d="M176,830h10 M1115,830h-10"/>
</g>
<g font-family="'Liberation Mono', monospace" font-size="13.6" fill="#000" opacity="0.99">
<text transform="translate(170,188.8) scale(0.7353,1)" text-anchor="end">3</text>
<text transform="translate(170,160.8) scale(0.7353,1)" text-anchor="end">4</text>
<text transform="translate(170,132.8) scale(0.7353,1)" text-anchor="end">5</text>
<text transform="translate(170,104.8) scale(0.7353,1)" text-anchor="end">6</text>
<text transform="translate(170,76.8) scale(0.7353,1)" text-anchor="end">7</text>
<text transform="translate(170,401.8) scale(0.7353,1)" text-anchor="end">3</text>
<text transform="translate(170,374.1) scale(0.7353,1)" text-anchor="end">4</text>
<text transform="translate(170,346.3) scale(0.7353,1)" text-anchor="end">5</text>
<text transform="translate(170,318.6) scale(0.7353,1)" text-anchor="end">6</text>
<text transform="translate(170,290.8) scale(0.7353,1)" text-anchor="end">7</text>
<text transform="translate(203,101) scale(0.7353,1)" text-anchor="start">1O-min&#160;averaged&#160;GEO-199O,&#160;GEO-199O,&#160;CRRES,&#160;Akebono,&#160;GPS&#160;&#160;primary&#160;PSD&#160;(T96)</text>
<text transform="translate(1193.5,170.3) scale(0.7353,1)" text-anchor="start">1</text>
<text transform="translate(1193.5,133.3) scale(0.7353,1)" text-anchor="start">2</text>
<text transform="translate(1193.5,96.3) scale(0.7353,1)" text-anchor="start">3</text>
<text transform="translate(1193.5,383.3) scale(0.7353,1)" text-anchor="start">1</text>
<text transform="translate(1193.5,346.3) scale(0.7353,1)" text-anchor="start">2</text>
<text transform="translate(1193.5,309.3) scale(0.7353,1)" text-anchor="start">3</text>
<text transform="translate(175,414) scale(0.7353,1)" text-anchor="middle">O4-Apr</text>
<text transform="translate(268.9,414) scale(0.7353,1)" text-anchor="middle">O5-Apr</text>
<text transform="translate(362.8,414) scale(0.7353,1)" text-anchor="middle">O6-Apr</text>
<text transform="translate(456.7,414) scale(0.7353,1)" text-anchor="middle">O7-Apr</text>
<text transform="translate(550.6,414) scale(0.7353,1)" text-anchor="middle">O8-Apr</text>
<text transform="translate(644.5,414) scale(0.7353,1)" text-anchor="middle">O9-Apr</text>
<text transform="translate(738.4,414) scale(0.7353,1)" text-anchor="middle">1O-Apr</text>
<text transform="translate(832.3,414) scale(0.7353,1)" text-anchor="middle">11-Apr</text>
<text transform="translate(926.2,414) scale(0.7353,1)" text-anchor="middle">12-Apr</text>
<text transform="translate(1020.1,414) scale(0.7353,1)" text-anchor="middle">13-Apr</text>
<text transform="translate(1114,414) scale(0.7353,1)" text-anchor="middle">14-Apr</text>
<text transform="translate(175,885) scale(0.7353,1)" text-anchor="middle">459</text>
<text transform="translate(268.9,885) scale(0.7353,1)" text-anchor="middle">46O</text>
<text transform="translate(362.8,885) scale(0.7353,1)" text-anchor="middle">461</text>
<text transform="translate(456.7,885) scale(0.7353,1)" text-anchor="middle">462</text>
<text transform="translate(550.6,885) scale(0.7353,1)" text-anchor="middle">463</text>
<text transform="translate(644.5,885) scale(0.7353,1)" text-anchor="middle">464</text>
<text transform="translate(738.4,885) scale(0.7353,1)" text-anchor="middle">465</text>
<text transform="translate(832.3,885) scale(0.7353,1)" text-anchor="middle">466</text>
<text transform="translate(926.2,885) scale(0.7353,1)" text-anchor="middle">467</text>
<text transform="translate(1020.1,885) scale(0.7353,1)" text-anchor="middle">468</text>
<text transform="translate(1114,885) scale(0.7353,1)" text-anchor="middle">469</text>
<text transform="translate(643,904) scale(0.7353,1)" text-anchor="middle">Day&#160;since&#160;Jan&#160;1st,&#160;199O&#160;(Days)</text>
<text transform="translate(170,489) scale(0.7353,1)" text-anchor="end">8</text>
<text transform="translate(170,526) scale(0.7353,1)" text-anchor="end">4</text>
<text transform="translate(170,563) scale(0.7353,1)" text-anchor="end">O</text>
<text transform="translate(170,592) scale(0.7353,1)" text-anchor="end">4O</text>
<text transform="translate(170,629) scale(0.7353,1)" text-anchor="end">-4O</text>
<text transform="translate(170,666) scale(0.7353,1)" text-anchor="end">-12O</text>
<text transform="translate(170,707.3) scale(0.7353,1)" text-anchor="end">1O</text>
<text transform="translate(170,732) scale(0.7353,1)" text-anchor="end">O</text>
<text transform="translate(170,756.7) scale(0.7353,1)" text-anchor="end">-1O</text>
<text transform="translate(170,798) scale(0.7353,1)" text-anchor="end">2O</text>
<text transform="translate(170,835) scale(0.7353,1)" text-anchor="end">1O</text>
<text transform="translate(170,872) scale(0.7353,1)" text-anchor="end">O</text>
<text transform="translate(153,521) rotate(-90) scale(0.7353,1)" text-anchor="middle">Kp</text>
<text transform="translate(134.5,624) rotate(-90) scale(0.7353,1)" text-anchor="middle">Dst&#160;(nT)</text>
<text transform="translate(142,727) rotate(-90) scale(0.7353,1)" text-anchor="middle">Bz</text>
<text transform="translate(147,830) rotate(-90) scale(0.7353,1)" text-anchor="middle">P</text>
</g>
<g stroke="#000" fill="none" stroke-width="1" shape-rendering="crispEdges"><path d="M144,134.5 H153.5 M153,135 V130"/></g>
<g stroke="#000" fill="none" stroke-width="1"><path d="M132,126.5 h5 M133,124.5 l3,4 M136,124.5 l-3,4"/></g>
<g stroke="#000" fill="none" stroke-width="1" shape-rendering="crispEdges"><path d="M144,348 H153.5 M153,348.5 V343.5"/></g>
<g stroke="#000" fill="none" stroke-width="1"><path d="M132,340 h5 M133,338 l3,4 M136,338 l-3,4"/></g>
</svg>
</body></html>
